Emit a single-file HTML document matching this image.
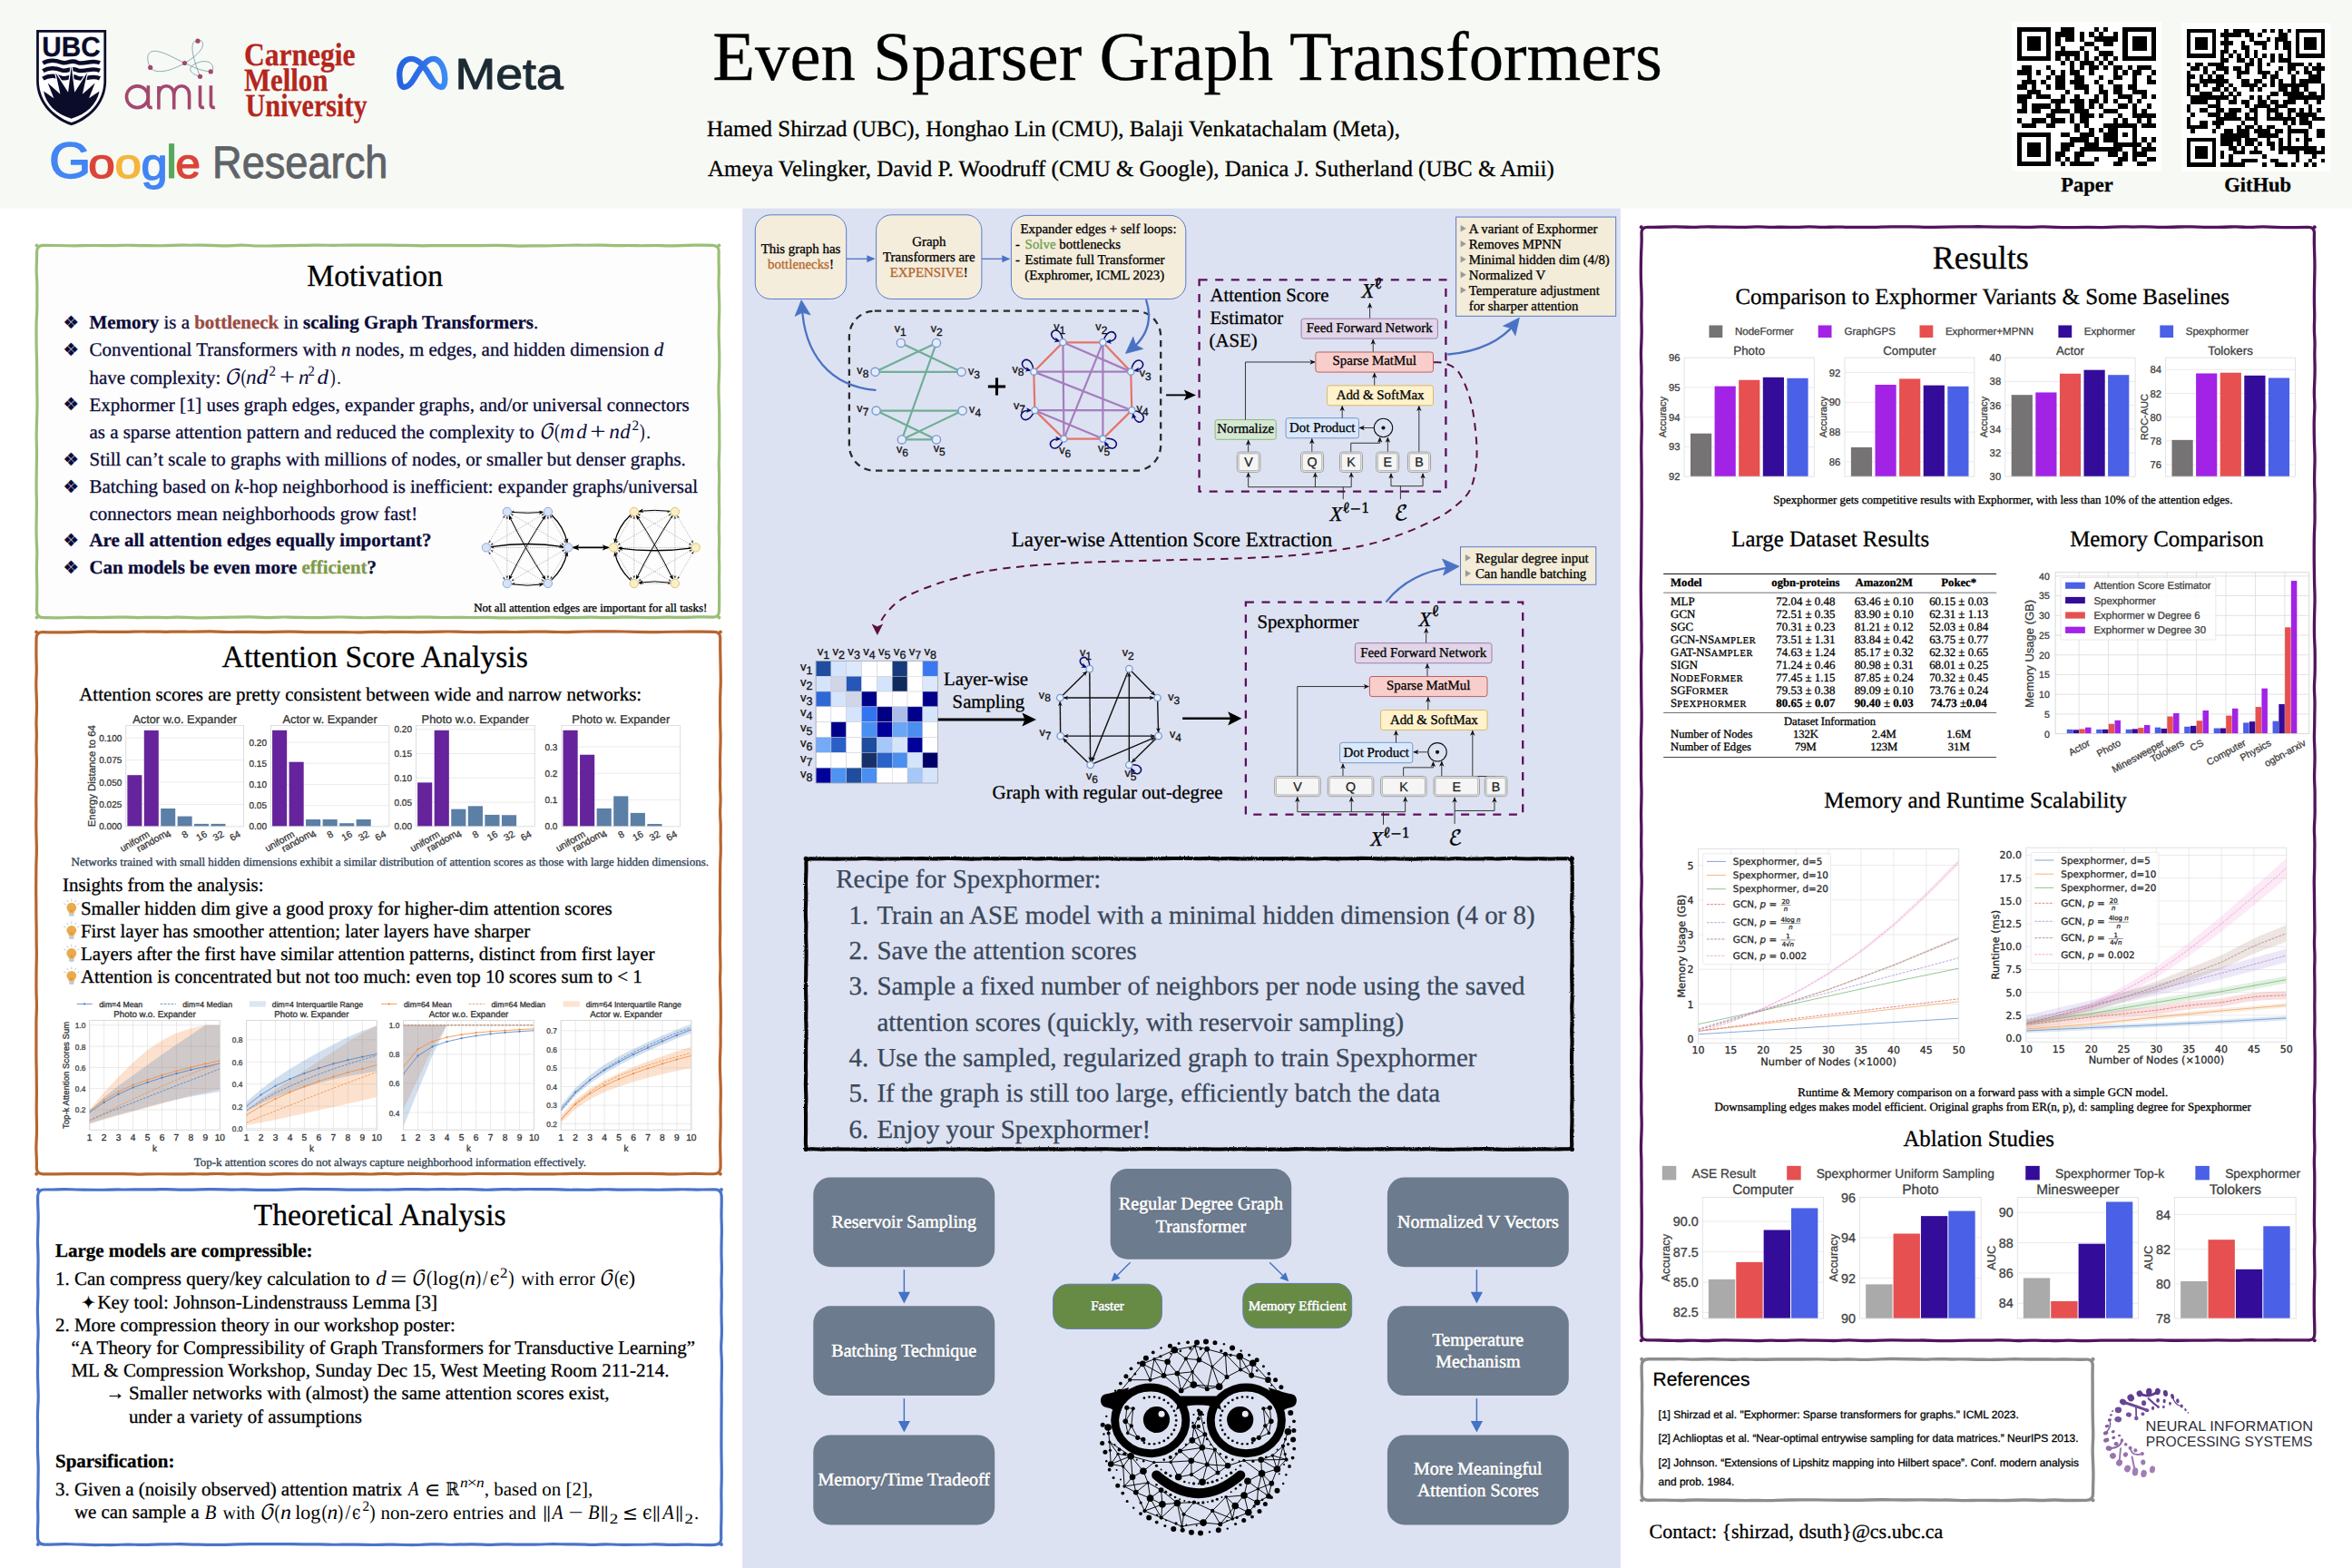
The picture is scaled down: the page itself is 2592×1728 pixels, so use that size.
<!DOCTYPE html>
<html lang="en">
<head>
<meta charset="utf-8">
<title>Even Sparser Graph Transformers</title>
<style>
html,body{margin:0;padding:0;background:#fff}
#poster{position:relative;width:2592px;height:1728px;overflow:hidden;background:#fff}
#poster>svg{position:absolute;left:0;top:0;display:block}
text{white-space:pre;text-rendering:geometricPrecision;stroke-linejoin:round}
.serif{font-family:"Liberation Serif",serif}
.serifb{font-family:"Liberation Serif",serif;font-weight:bold}
.serifi{font-family:"Liberation Serif",serif;font-style:italic}
.serifbi{font-family:"Liberation Serif",serif;font-weight:bold;font-style:italic}
.sans{font-family:"Liberation Sans",sans-serif}
.sansb{font-family:"Liberation Sans",sans-serif;font-weight:bold}
.dejavu{font-family:"DejaVu Sans",sans-serif}
.dejavub{font-family:"DejaVu Sans",sans-serif;font-weight:bold}
.dserif{font-family:"DejaVu Serif",serif}
.dmath{font-family:"DejaVu Math TeX Gyre","DejaVu Serif",serif}
</style>
</head>
<body>
<div id="poster">
<svg width="2592" height="1728" viewBox="0 0 2592 1728">
<rect x="0" y="0" width="2592" height="1728" fill="#ffffff"/>
<rect x="0" y="0" width="2592" height="229.6" fill="#F7F9F4"/>
<rect x="818.1" y="229.6" width="967.8" height="1498.4" fill="#DDE2F2"/>
<g id="header"><g><path d="M 40.1 33.06 L 117.14 33.06 L 117.14 90.41 C 116.43 111.84 102.65 129.69 78.67 138.37 C 54.69 129.69 40.92 111.84 40.1 90.41 Z" fill="#0B0C2A"/>
<path d="M 42.86 35.82 L 114.39 35.82 L 114.39 90.41 C 113.67 109.8 101.12 126.63 78.67 135.1 C 56.22 126.63 43.67 109.8 42.86 90.41 Z" fill="#fff"/>
<text class="sansb" font-size="30.6" fill="#0B0C2A" stroke="#0B0C2A" stroke-width="0.3" textLength="64.4" lengthAdjust="spacingAndGlyphs" x="46.3" y="61.9">UBC</text>
<path d="M 47.35 69.59 C 53.67 65.71 59.8 65.71 67.96 68.78 C 75.1 71.02 77.14 64.9 85.31 68.78 C 93.47 71.84 100.61 64.9 110 69.29" fill="none" stroke="#0B0C2A" stroke-width="4.6"/>
<path d="M 47.35 78.16 C 53.67 74.29 59.8 74.29 67.96 77.35 C 75.1 79.59 77.14 73.47 85.31 77.35 C 93.47 80.41 100.61 73.47 110 77.86" fill="none" stroke="#0B0C2A" stroke-width="4.6"/>
<path d="M 47.35 86.63 C 53.67 82.76 59.8 82.76 67.96 85.82 C 75.1 88.06 77.14 81.94 85.31 85.82 C 93.47 88.88 100.61 81.94 110 86.33" fill="none" stroke="#0B0C2A" stroke-width="4.6"/>
<path d="M 48.06 100.61 L 59.29 108.27 L 52.65 91.43 L 66.43 103.67 L 61.33 80.2 L 75.1 101.63 L 78.67 73.06 L 82.24 101.63 L 96.02 80.2 L 90.92 103.67 L 104.69 91.43 L 98.06 108.27 L 109.59 100.61 C 106.73 114.9 95.51 126.12 78.67 130.71 C 61.84 126.12 50.61 114.9 48.06 100.61 Z" fill="#0B0C2A" stroke="#fff" stroke-width="2.4" stroke-linejoin="miter" paint-order="stroke"/></g>
<g fill="none" stroke-linecap="butt"><circle cx="151.33" cy="106.73" r="11.9" fill="none" stroke="#A4476F" stroke-width="3.6"/>
<path d="M 163.37 94.29 L 163.37 115.41 C 163.37 118.16 165.41 118.78 167.76 118.16" fill="none" stroke="#A4476F" stroke-width="3.6"/>
<path d="M 174.9 120.51 L 174.9 95 M 174.9 104.69 C 174.9 91.43 191.73 91.43 191.73 104.69 L 191.73 120.51 M 191.73 104.69 C 191.73 91.43 208.57 91.43 208.57 104.69 L 208.57 120.51" fill="none" stroke="#A4476F" stroke-width="3.6"/>
<path d="M 220.51 94.29 L 220.51 115.41 C 220.51 118.16 222.55 118.78 224.9 118.16" fill="none" stroke="#A4476F" stroke-width="3.6"/>
<path d="M 232.45 94.29 L 232.45 115.41 C 232.45 118.16 234.49 118.78 236.84 118.16" fill="none" stroke="#A4476F" stroke-width="3.6"/>
<path d="M 165.71 74.39 C 159.8 62.86 162.86 54.69 173.06 56.53 C 183.27 58.37 193.47 64.9 203.47 69.49 C 211.84 73.06 220 78.16 232.24 78.88" fill="none" stroke="#5E8C9C" stroke-width="0.7"/>
<path d="M 165.71 74.39 C 170 81.22 185.31 80.2 203.47 69.49 C 213.88 63.88 224.08 54.69 223.57 48.57 C 223.06 44.49 220 43.47 217.96 45.2 C 207.76 43.47 211.84 62.86 220.51 84.29" fill="none" stroke="#5E8C9C" stroke-width="0.7"/>
<path d="M 220.51 84.29 C 208.78 81.22 206.73 75.1 213.88 71.02 C 222.04 65.92 234.29 65.92 234.8 75.1 C 234.8 77.14 233.78 78.16 232.24 78.88" fill="none" stroke="#5E8C9C" stroke-width="0.7"/>
<circle cx="217.96" cy="45.2" r="2.6" fill="#A4476F"/>
<circle cx="165.71" cy="74.39" r="2.6" fill="#A4476F"/>
<circle cx="203.47" cy="69.49" r="2.6" fill="#A4476F"/>
<circle cx="232.24" cy="78.88" r="2.6" fill="#A4476F"/>
<circle cx="220.51" cy="84.29" r="2.6" fill="#A4476F"/></g>
<g><text class="serifb" font-size="35.6" fill="#B4261D" stroke="#B4261D" stroke-width="0.3" textLength="122.6" lengthAdjust="spacingAndGlyphs" x="269" y="72.2">Carnegie</text>
<text class="serifb" font-size="35.6" fill="#B4261D" stroke="#B4261D" stroke-width="0.3" textLength="92.4" lengthAdjust="spacingAndGlyphs" x="269" y="100.2">Mellon</text>
<text class="serifb" font-size="35.6" fill="#B4261D" stroke="#B4261D" stroke-width="0.3" textLength="134" lengthAdjust="spacingAndGlyphs" x="270.6" y="128.3">University</text></g>
<g><defs><linearGradient id="mg" x1="0" y1="0" x2="1" y2="0"><stop offset="0" stop-color="#2563E0"/><stop offset="0.5" stop-color="#2E6FE8"/><stop offset="1" stop-color="#3B8BF5"/></linearGradient></defs>
<path d="M 440.48 86.12 C 438.78 72.52 445.58 64.86 453.23 64.86 C 462.59 64.86 469.39 75.92 475.34 86.12 C 479.59 93.27 482.99 95.99 486.05 95.99 C 489.8 95.99 491.16 89.52 489.8 81.02 C 488.1 70.82 482.99 64.86 477.55 64.86 C 469.39 64.86 462.59 75.92 456.63 86.12 C 452.38 93.27 448.98 95.99 445.58 95.99 C 442.18 95.99 440.82 92.07 440.48 86.12 Z" fill="none" stroke="url(#mg)" stroke-width="6.4" stroke-linejoin="round"/>
<text class="sans" font-size="48" fill="#1C2B33" stroke="#1C2B33" stroke-width="1.1" textLength="119.2" lengthAdjust="spacingAndGlyphs" x="501.6" y="98.1">Meta</text></g>
<g><text class="sans" font-size="100" fill="#4285F4" transform="translate(54.1 195.85) scale(0.5974 0.5593)" stroke="#4285F4" stroke-width="2.42" stroke-linejoin="round">G</text>
<text class="sans" font-size="100" fill="#DB4437" transform="translate(97.37 195.95) scale(0.5316 0.4563)" stroke="#DB4437" stroke-width="2.83" stroke-linejoin="round">o</text>
<text class="sans" font-size="100" fill="#F4B63C" transform="translate(126.38 195.95) scale(0.5295 0.4563)" stroke="#F4B63C" stroke-width="2.84" stroke-linejoin="round">o</text>
<text class="sans" font-size="100" fill="#4285F4" transform="translate(155.5 197.87) scale(0.5248 0.4932)" stroke="#4285F4" stroke-width="2.75" stroke-linejoin="round">g</text>
<text class="sans" font-size="100" fill="#55A95C" transform="translate(182.77 195.8) scale(0.5689 0.5161)" stroke="#55A95C" stroke-width="1.84" stroke-linejoin="round">l</text>
<text class="sans" font-size="100" fill="#DB4437" transform="translate(193.61 195.95) scale(0.4923 0.4563)" stroke="#DB4437" stroke-width="2.95" stroke-linejoin="round">e</text>
<text class="sans" font-size="50" fill="#5F6368" stroke="#5F6368" stroke-width="0.9" textLength="193.4" lengthAdjust="spacingAndGlyphs" x="234" y="196.3">Research</text></g>
<text class="serif" font-size="76.75" stroke="#000" stroke-width="0.3" x="785.2" y="87.7">Even Sparser Graph Transformers</text>
<text class="serif" font-size="24.96" stroke="#000" stroke-width="0.3" x="779" y="150">Hamed Shirzad (UBC), Honghao Lin (CMU), Balaji Venkatachalam (Meta),</text>
<text class="serif" font-size="24.95" stroke="#000" stroke-width="0.3" x="780" y="193.5">Ameya Velingker, David P. Woodruff (CMU &amp; Google), Danica J. Sutherland (UBC &amp; Amii)</text>
<rect x="2216.9" y="23.9" width="165" height="164.7" fill="#fff"/><path d="M2223 29.9h36.98v5.33h-36.98zM2270.54 29.9h15.85v5.33h-15.85zM2307.52 29.9h5.28v5.33h-5.28zM2318.09 29.9h5.28v5.33h-5.28zM2339.22 29.9h36.98v5.33h-36.98zM2223 35.18h5.28v5.33h-5.28zM2254.7 35.18h5.28v5.33h-5.28zM2265.26 35.18h21.13v5.33h-21.13zM2291.68 35.18h5.28v5.33h-5.28zM2302.24 35.18h5.28v5.33h-5.28zM2312.81 35.18h5.28v5.33h-5.28zM2328.66 35.18h5.28v5.33h-5.28zM2339.22 35.18h5.28v5.33h-5.28zM2370.92 35.18h5.28v5.33h-5.28zM2223 40.47h5.28v5.33h-5.28zM2233.57 40.47h15.85v5.33h-15.85zM2254.7 40.47h5.28v5.33h-5.28zM2265.26 40.47h5.28v5.33h-5.28zM2275.83 40.47h10.57v5.33h-10.57zM2291.68 40.47h5.28v5.33h-5.28zM2307.52 40.47h26.41v5.33h-26.41zM2339.22 40.47h5.28v5.33h-5.28zM2349.79 40.47h15.85v5.33h-15.85zM2370.92 40.47h5.28v5.33h-5.28zM2223 45.75h5.28v5.33h-5.28zM2233.57 45.75h15.85v5.33h-15.85zM2254.7 45.75h5.28v5.33h-5.28zM2265.26 45.75h5.28v5.33h-5.28zM2296.96 45.75h10.57v5.33h-10.57zM2318.09 45.75h10.57v5.33h-10.57zM2339.22 45.75h5.28v5.33h-5.28zM2349.79 45.75h15.85v5.33h-15.85zM2370.92 45.75h5.28v5.33h-5.28zM2223 51.03h5.28v5.33h-5.28zM2233.57 51.03h15.85v5.33h-15.85zM2254.7 51.03h5.28v5.33h-5.28zM2270.54 51.03h5.28v5.33h-5.28zM2291.68 51.03h5.28v5.33h-5.28zM2307.52 51.03h5.28v5.33h-5.28zM2339.22 51.03h5.28v5.33h-5.28zM2349.79 51.03h15.85v5.33h-15.85zM2370.92 51.03h5.28v5.33h-5.28zM2223 56.31h5.28v5.33h-5.28zM2254.7 56.31h5.28v5.33h-5.28zM2265.26 56.31h26.41v5.33h-26.41zM2296.96 56.31h5.28v5.33h-5.28zM2312.81 56.31h15.85v5.33h-15.85zM2339.22 56.31h5.28v5.33h-5.28zM2370.92 56.31h5.28v5.33h-5.28zM2223 61.6h36.98v5.33h-36.98zM2265.26 61.6h5.28v5.33h-5.28zM2275.83 61.6h5.28v5.33h-5.28zM2286.39 61.6h5.28v5.33h-5.28zM2296.96 61.6h5.28v5.33h-5.28zM2307.52 61.6h5.28v5.33h-5.28zM2318.09 61.6h5.28v5.33h-5.28zM2328.66 61.6h5.28v5.33h-5.28zM2339.22 61.6h36.98v5.33h-36.98zM2270.54 66.88h5.28v5.33h-5.28zM2281.11 66.88h5.28v5.33h-5.28zM2291.68 66.88h15.85v5.33h-15.85zM2312.81 66.88h5.28v5.33h-5.28zM2323.37 66.88h5.28v5.33h-5.28zM2228.28 72.16h10.57v5.33h-10.57zM2254.7 72.16h5.28v5.33h-5.28zM2281.11 72.16h5.28v5.33h-5.28zM2291.68 72.16h5.28v5.33h-5.28zM2302.24 72.16h10.57v5.33h-10.57zM2318.09 72.16h5.28v5.33h-5.28zM2328.66 72.16h10.57v5.33h-10.57zM2344.5 72.16h5.28v5.33h-5.28zM2355.07 72.16h15.85v5.33h-15.85zM2223 77.44h15.85v5.33h-15.85zM2244.13 77.44h5.28v5.33h-5.28zM2259.98 77.44h5.28v5.33h-5.28zM2270.54 77.44h5.28v5.33h-5.28zM2281.11 77.44h10.57v5.33h-10.57zM2302.24 77.44h5.28v5.33h-5.28zM2328.66 77.44h5.28v5.33h-5.28zM2339.22 77.44h5.28v5.33h-5.28zM2349.79 77.44h10.57v5.33h-10.57zM2370.92 77.44h5.28v5.33h-5.28zM2233.57 82.73h5.28v5.33h-5.28zM2254.7 82.73h5.28v5.33h-5.28zM2265.26 82.73h10.57v5.33h-10.57zM2286.39 82.73h10.57v5.33h-10.57zM2312.81 82.73h5.28v5.33h-5.28zM2328.66 82.73h10.57v5.33h-10.57zM2349.79 82.73h5.28v5.33h-5.28zM2365.63 82.73h5.28v5.33h-5.28zM2228.28 88.01h15.85v5.33h-15.85zM2249.41 88.01h5.28v5.33h-5.28zM2265.26 88.01h10.57v5.33h-10.57zM2281.11 88.01h15.85v5.33h-15.85zM2307.52 88.01h5.28v5.33h-5.28zM2323.37 88.01h5.28v5.33h-5.28zM2349.79 88.01h5.28v5.33h-5.28zM2365.63 88.01h10.57v5.33h-10.57zM2223 93.29h10.57v5.33h-10.57zM2238.85 93.29h5.28v5.33h-5.28zM2254.7 93.29h5.28v5.33h-5.28zM2265.26 93.29h10.57v5.33h-10.57zM2286.39 93.29h15.85v5.33h-15.85zM2312.81 93.29h5.28v5.33h-5.28zM2328.66 93.29h10.57v5.33h-10.57zM2344.5 93.29h10.57v5.33h-10.57zM2233.57 98.58h15.85v5.33h-15.85zM2275.83 98.58h5.28v5.33h-5.28zM2296.96 98.58h5.28v5.33h-5.28zM2312.81 98.58h10.57v5.33h-10.57zM2328.66 98.58h10.57v5.33h-10.57zM2349.79 98.58h15.85v5.33h-15.85zM2223 103.86h15.85v5.33h-15.85zM2244.13 103.86h15.85v5.33h-15.85zM2270.54 103.86h5.28v5.33h-5.28zM2286.39 103.86h5.28v5.33h-5.28zM2307.52 103.86h5.28v5.33h-5.28zM2318.09 103.86h5.28v5.33h-5.28zM2333.94 103.86h15.85v5.33h-15.85zM2360.35 103.86h5.28v5.33h-5.28zM2370.92 103.86h5.28v5.33h-5.28zM2223 109.14h10.57v5.33h-10.57zM2259.98 109.14h15.85v5.33h-15.85zM2281.11 109.14h15.85v5.33h-15.85zM2302.24 109.14h10.57v5.33h-10.57zM2318.09 109.14h5.28v5.33h-5.28zM2328.66 109.14h5.28v5.33h-5.28zM2344.5 109.14h5.28v5.33h-5.28zM2355.07 109.14h5.28v5.33h-5.28zM2228.28 114.42h5.28v5.33h-5.28zM2238.85 114.42h21.13v5.33h-21.13zM2265.26 114.42h5.28v5.33h-5.28zM2286.39 114.42h10.57v5.33h-10.57zM2302.24 114.42h5.28v5.33h-5.28zM2312.81 114.42h5.28v5.33h-5.28zM2333.94 114.42h10.57v5.33h-10.57zM2349.79 114.42h5.28v5.33h-5.28zM2365.63 114.42h5.28v5.33h-5.28zM2223 119.71h10.57v5.33h-10.57zM2238.85 119.71h10.57v5.33h-10.57zM2259.98 119.71h21.13v5.33h-21.13zM2286.39 119.71h15.85v5.33h-15.85zM2318.09 119.71h15.85v5.33h-15.85zM2349.79 119.71h5.28v5.33h-5.28zM2360.35 119.71h5.28v5.33h-5.28zM2254.7 124.99h10.57v5.33h-10.57zM2281.11 124.99h5.28v5.33h-5.28zM2291.68 124.99h15.85v5.33h-15.85zM2312.81 124.99h5.28v5.33h-5.28zM2333.94 124.99h5.28v5.33h-5.28zM2349.79 124.99h26.41v5.33h-26.41zM2223 130.27h5.28v5.33h-5.28zM2238.85 130.27h15.85v5.33h-15.85zM2259.98 130.27h15.85v5.33h-15.85zM2281.11 130.27h5.28v5.33h-5.28zM2291.68 130.27h10.57v5.33h-10.57zM2328.66 130.27h5.28v5.33h-5.28zM2339.22 130.27h5.28v5.33h-5.28zM2355.07 130.27h5.28v5.33h-5.28zM2365.63 130.27h5.28v5.33h-5.28zM2228.28 135.56h15.85v5.33h-15.85zM2254.7 135.56h10.57v5.33h-10.57zM2286.39 135.56h5.28v5.33h-5.28zM2296.96 135.56h5.28v5.33h-5.28zM2318.09 135.56h36.98v5.33h-36.98zM2360.35 135.56h15.85v5.33h-15.85zM2286.39 140.84h5.28v5.33h-5.28zM2302.24 140.84h5.28v5.33h-5.28zM2312.81 140.84h5.28v5.33h-5.28zM2323.37 140.84h10.57v5.33h-10.57zM2349.79 140.84h5.28v5.33h-5.28zM2223 146.12h36.98v5.33h-36.98zM2270.54 146.12h10.57v5.33h-10.57zM2291.68 146.12h15.85v5.33h-15.85zM2318.09 146.12h15.85v5.33h-15.85zM2339.22 146.12h5.28v5.33h-5.28zM2349.79 146.12h5.28v5.33h-5.28zM2223 151.4h5.28v5.33h-5.28zM2254.7 151.4h5.28v5.33h-5.28zM2281.11 151.4h21.13v5.33h-21.13zM2307.52 151.4h5.28v5.33h-5.28zM2318.09 151.4h15.85v5.33h-15.85zM2349.79 151.4h5.28v5.33h-5.28zM2360.35 151.4h5.28v5.33h-5.28zM2370.92 151.4h5.28v5.33h-5.28zM2223 156.69h5.28v5.33h-5.28zM2233.57 156.69h15.85v5.33h-15.85zM2254.7 156.69h5.28v5.33h-5.28zM2270.54 156.69h15.85v5.33h-15.85zM2296.96 156.69h15.85v5.33h-15.85zM2328.66 156.69h31.7v5.33h-31.7zM2365.63 156.69h5.28v5.33h-5.28zM2223 161.97h5.28v5.33h-5.28zM2233.57 161.97h15.85v5.33h-15.85zM2254.7 161.97h5.28v5.33h-5.28zM2270.54 161.97h10.57v5.33h-10.57zM2291.68 161.97h47.54v5.33h-47.54zM2349.79 161.97h5.28v5.33h-5.28zM2360.35 161.97h15.85v5.33h-15.85zM2223 167.25h5.28v5.33h-5.28zM2233.57 167.25h15.85v5.33h-15.85zM2254.7 167.25h5.28v5.33h-5.28zM2265.26 167.25h10.57v5.33h-10.57zM2286.39 167.25h10.57v5.33h-10.57zM2323.37 167.25h10.57v5.33h-10.57zM2339.22 167.25h5.28v5.33h-5.28zM2349.79 167.25h15.85v5.33h-15.85zM2223 172.53h5.28v5.33h-5.28zM2254.7 172.53h5.28v5.33h-5.28zM2265.26 172.53h5.28v5.33h-5.28zM2275.83 172.53h5.28v5.33h-5.28zM2286.39 172.53h5.28v5.33h-5.28zM2307.52 172.53h5.28v5.33h-5.28zM2333.94 172.53h10.57v5.33h-10.57zM2349.79 172.53h5.28v5.33h-5.28zM2365.63 172.53h10.57v5.33h-10.57zM2223 177.82h36.98v5.33h-36.98zM2270.54 177.82h5.28v5.33h-5.28zM2281.11 177.82h26.41v5.33h-26.41zM2328.66 177.82h10.57v5.33h-10.57zM2355.07 177.82h10.57v5.33h-10.57z" fill="#000" shape-rendering="crispEdges"/>
<rect x="2403.9" y="25.3" width="164.3" height="163.9" fill="#fff"/><path d="M2409.8 31.6h32.33v4.67h-32.33zM2451.36 31.6h4.62v4.67h-4.62zM2460.6 31.6h18.47v4.67h-18.47zM2492.93 31.6h4.62v4.67h-4.62zM2502.16 31.6h4.62v4.67h-4.62zM2511.4 31.6h4.62v4.67h-4.62zM2520.64 31.6h4.62v4.67h-4.62zM2529.87 31.6h32.33v4.67h-32.33zM2409.8 36.22h4.62v4.67h-4.62zM2437.51 36.22h4.62v4.67h-4.62zM2446.75 36.22h23.09v4.67h-23.09zM2474.45 36.22h9.24v4.67h-9.24zM2488.31 36.22h4.62v4.67h-4.62zM2511.4 36.22h9.24v4.67h-9.24zM2529.87 36.22h4.62v4.67h-4.62zM2557.58 36.22h4.62v4.67h-4.62zM2409.8 40.84h4.62v4.67h-4.62zM2419.04 40.84h13.85v4.67h-13.85zM2437.51 40.84h4.62v4.67h-4.62zM2451.36 40.84h4.62v4.67h-4.62zM2479.07 40.84h4.62v4.67h-4.62zM2497.55 40.84h4.62v4.67h-4.62zM2506.78 40.84h13.85v4.67h-13.85zM2529.87 40.84h4.62v4.67h-4.62zM2539.11 40.84h13.85v4.67h-13.85zM2557.58 40.84h4.62v4.67h-4.62zM2409.8 45.45h4.62v4.67h-4.62zM2419.04 45.45h13.85v4.67h-13.85zM2437.51 45.45h4.62v4.67h-4.62zM2446.75 45.45h13.85v4.67h-13.85zM2469.84 45.45h4.62v4.67h-4.62zM2483.69 45.45h13.85v4.67h-13.85zM2506.78 45.45h4.62v4.67h-4.62zM2516.02 45.45h9.24v4.67h-9.24zM2529.87 45.45h4.62v4.67h-4.62zM2539.11 45.45h13.85v4.67h-13.85zM2557.58 45.45h4.62v4.67h-4.62zM2409.8 50.07h4.62v4.67h-4.62zM2419.04 50.07h13.85v4.67h-13.85zM2437.51 50.07h4.62v4.67h-4.62zM2451.36 50.07h4.62v4.67h-4.62zM2469.84 50.07h9.24v4.67h-9.24zM2492.93 50.07h4.62v4.67h-4.62zM2506.78 50.07h4.62v4.67h-4.62zM2516.02 50.07h9.24v4.67h-9.24zM2529.87 50.07h4.62v4.67h-4.62zM2539.11 50.07h13.85v4.67h-13.85zM2557.58 50.07h4.62v4.67h-4.62zM2409.8 54.69h4.62v4.67h-4.62zM2437.51 54.69h4.62v4.67h-4.62zM2446.75 54.69h9.24v4.67h-9.24zM2460.6 54.69h4.62v4.67h-4.62zM2474.45 54.69h4.62v4.67h-4.62zM2483.69 54.69h4.62v4.67h-4.62zM2520.64 54.69h4.62v4.67h-4.62zM2529.87 54.69h4.62v4.67h-4.62zM2557.58 54.69h4.62v4.67h-4.62zM2409.8 59.31h32.33v4.67h-32.33zM2446.75 59.31h4.62v4.67h-4.62zM2455.98 59.31h4.62v4.67h-4.62zM2465.22 59.31h4.62v4.67h-4.62zM2474.45 59.31h4.62v4.67h-4.62zM2483.69 59.31h4.62v4.67h-4.62zM2492.93 59.31h4.62v4.67h-4.62zM2502.16 59.31h4.62v4.67h-4.62zM2511.4 59.31h4.62v4.67h-4.62zM2520.64 59.31h4.62v4.67h-4.62zM2529.87 59.31h32.33v4.67h-32.33zM2446.75 63.93h9.24v4.67h-9.24zM2465.22 63.93h9.24v4.67h-9.24zM2479.07 63.93h4.62v4.67h-4.62zM2488.31 63.93h4.62v4.67h-4.62zM2502.16 63.93h4.62v4.67h-4.62zM2511.4 63.93h13.85v4.67h-13.85zM2409.8 68.55h4.62v4.67h-4.62zM2419.04 68.55h9.24v4.67h-9.24zM2432.89 68.55h18.47v4.67h-18.47zM2474.45 68.55h9.24v4.67h-9.24zM2488.31 68.55h4.62v4.67h-4.62zM2497.55 68.55h4.62v4.67h-4.62zM2520.64 68.55h18.47v4.67h-18.47zM2543.73 68.55h4.62v4.67h-4.62zM2552.96 68.55h4.62v4.67h-4.62zM2414.42 73.16h9.24v4.67h-9.24zM2428.27 73.16h4.62v4.67h-4.62zM2442.13 73.16h13.85v4.67h-13.85zM2460.6 73.16h9.24v4.67h-9.24zM2474.45 73.16h4.62v4.67h-4.62zM2488.31 73.16h4.62v4.67h-4.62zM2511.4 73.16h4.62v4.67h-4.62zM2520.64 73.16h9.24v4.67h-9.24zM2539.11 73.16h4.62v4.67h-4.62zM2548.35 73.16h13.85v4.67h-13.85zM2409.8 77.78h4.62v4.67h-4.62zM2428.27 77.78h4.62v4.67h-4.62zM2437.51 77.78h4.62v4.67h-4.62zM2451.36 77.78h4.62v4.67h-4.62zM2465.22 77.78h13.85v4.67h-13.85zM2488.31 77.78h13.85v4.67h-13.85zM2506.78 77.78h4.62v4.67h-4.62zM2520.64 77.78h4.62v4.67h-4.62zM2529.87 77.78h4.62v4.67h-4.62zM2539.11 77.78h9.24v4.67h-9.24zM2552.96 77.78h4.62v4.67h-4.62zM2409.8 82.4h9.24v4.67h-9.24zM2423.65 82.4h4.62v4.67h-4.62zM2432.89 82.4h4.62v4.67h-4.62zM2442.13 82.4h9.24v4.67h-9.24zM2465.22 82.4h4.62v4.67h-4.62zM2492.93 82.4h4.62v4.67h-4.62zM2502.16 82.4h9.24v4.67h-9.24zM2525.25 82.4h4.62v4.67h-4.62zM2543.73 82.4h13.85v4.67h-13.85zM2409.8 87.02h4.62v4.67h-4.62zM2423.65 87.02h32.33v4.67h-32.33zM2469.84 87.02h9.24v4.67h-9.24zM2483.69 87.02h9.24v4.67h-9.24zM2502.16 87.02h4.62v4.67h-4.62zM2511.4 87.02h4.62v4.67h-4.62zM2525.25 87.02h4.62v4.67h-4.62zM2534.49 87.02h23.09v4.67h-23.09zM2409.8 91.64h13.85v4.67h-13.85zM2428.27 91.64h4.62v4.67h-4.62zM2442.13 91.64h9.24v4.67h-9.24zM2455.98 91.64h4.62v4.67h-4.62zM2469.84 91.64h18.47v4.67h-18.47zM2492.93 91.64h4.62v4.67h-4.62zM2502.16 91.64h4.62v4.67h-4.62zM2511.4 91.64h32.33v4.67h-32.33zM2557.58 91.64h4.62v4.67h-4.62zM2409.8 96.25h4.62v4.67h-4.62zM2419.04 96.25h4.62v4.67h-4.62zM2437.51 96.25h9.24v4.67h-9.24zM2451.36 96.25h4.62v4.67h-4.62zM2460.6 96.25h4.62v4.67h-4.62zM2479.07 96.25h4.62v4.67h-4.62zM2488.31 96.25h4.62v4.67h-4.62zM2511.4 96.25h9.24v4.67h-9.24zM2525.25 96.25h9.24v4.67h-9.24zM2539.11 96.25h4.62v4.67h-4.62zM2557.58 96.25h4.62v4.67h-4.62zM2409.8 100.87h4.62v4.67h-4.62zM2423.65 100.87h13.85v4.67h-13.85zM2446.75 100.87h4.62v4.67h-4.62zM2455.98 100.87h4.62v4.67h-4.62zM2465.22 100.87h4.62v4.67h-4.62zM2502.16 100.87h9.24v4.67h-9.24zM2516.02 100.87h23.09v4.67h-23.09zM2543.73 100.87h9.24v4.67h-9.24zM2557.58 100.87h4.62v4.67h-4.62zM2414.42 105.49h41.56v4.67h-41.56zM2460.6 105.49h4.62v4.67h-4.62zM2479.07 105.49h4.62v4.67h-4.62zM2488.31 105.49h4.62v4.67h-4.62zM2497.55 105.49h4.62v4.67h-4.62zM2520.64 105.49h41.56v4.67h-41.56zM2414.42 110.11h18.47v4.67h-18.47zM2442.13 110.11h4.62v4.67h-4.62zM2455.98 110.11h9.24v4.67h-9.24zM2469.84 110.11h9.24v4.67h-9.24zM2488.31 110.11h9.24v4.67h-9.24zM2502.16 110.11h9.24v4.67h-9.24zM2516.02 110.11h13.85v4.67h-13.85zM2539.11 110.11h4.62v4.67h-4.62zM2552.96 110.11h4.62v4.67h-4.62zM2409.8 114.73h4.62v4.67h-4.62zM2432.89 114.73h13.85v4.67h-13.85zM2474.45 114.73h4.62v4.67h-4.62zM2483.69 114.73h18.47v4.67h-18.47zM2506.78 114.73h13.85v4.67h-13.85zM2543.73 114.73h4.62v4.67h-4.62zM2409.8 119.35h4.62v4.67h-4.62zM2423.65 119.35h9.24v4.67h-9.24zM2442.13 119.35h9.24v4.67h-9.24zM2455.98 119.35h13.85v4.67h-13.85zM2479.07 119.35h9.24v4.67h-9.24zM2497.55 119.35h13.85v4.67h-13.85zM2520.64 119.35h9.24v4.67h-9.24zM2534.49 119.35h4.62v4.67h-4.62zM2543.73 119.35h4.62v4.67h-4.62zM2552.96 119.35h4.62v4.67h-4.62zM2414.42 123.96h4.62v4.67h-4.62zM2432.89 123.96h13.85v4.67h-13.85zM2451.36 123.96h13.85v4.67h-13.85zM2474.45 123.96h4.62v4.67h-4.62zM2483.69 123.96h4.62v4.67h-4.62zM2497.55 123.96h4.62v4.67h-4.62zM2506.78 123.96h9.24v4.67h-9.24zM2520.64 123.96h4.62v4.67h-4.62zM2529.87 123.96h23.09v4.67h-23.09zM2409.8 128.58h4.62v4.67h-4.62zM2442.13 128.58h27.71v4.67h-27.71zM2474.45 128.58h13.85v4.67h-13.85zM2497.55 128.58h32.33v4.67h-32.33zM2534.49 128.58h9.24v4.67h-9.24zM2548.35 128.58h13.85v4.67h-13.85zM2409.8 133.2h4.62v4.67h-4.62zM2423.65 133.2h9.24v4.67h-9.24zM2437.51 133.2h13.85v4.67h-13.85zM2469.84 133.2h4.62v4.67h-4.62zM2483.69 133.2h4.62v4.67h-4.62zM2516.02 133.2h4.62v4.67h-4.62zM2525.25 133.2h4.62v4.67h-4.62zM2534.49 133.2h13.85v4.67h-13.85zM2409.8 137.82h23.09v4.67h-23.09zM2442.13 137.82h4.62v4.67h-4.62zM2465.22 137.82h4.62v4.67h-4.62zM2474.45 137.82h9.24v4.67h-9.24zM2488.31 137.82h4.62v4.67h-4.62zM2497.55 137.82h9.24v4.67h-9.24zM2520.64 137.82h4.62v4.67h-4.62zM2543.73 137.82h4.62v4.67h-4.62zM2414.42 142.44h4.62v4.67h-4.62zM2437.51 142.44h4.62v4.67h-4.62zM2451.36 142.44h9.24v4.67h-9.24zM2465.22 142.44h13.85v4.67h-13.85zM2483.69 142.44h18.47v4.67h-18.47zM2506.78 142.44h9.24v4.67h-9.24zM2520.64 142.44h23.09v4.67h-23.09zM2552.96 142.44h9.24v4.67h-9.24zM2446.75 147.05h32.33v4.67h-32.33zM2488.31 147.05h23.09v4.67h-23.09zM2520.64 147.05h4.62v4.67h-4.62zM2539.11 147.05h4.62v4.67h-4.62zM2552.96 147.05h9.24v4.67h-9.24zM2409.8 151.67h32.33v4.67h-32.33zM2446.75 151.67h23.09v4.67h-23.09zM2474.45 151.67h13.85v4.67h-13.85zM2497.55 151.67h4.62v4.67h-4.62zM2511.4 151.67h4.62v4.67h-4.62zM2520.64 151.67h4.62v4.67h-4.62zM2529.87 151.67h4.62v4.67h-4.62zM2539.11 151.67h9.24v4.67h-9.24zM2409.8 156.29h4.62v4.67h-4.62zM2437.51 156.29h4.62v4.67h-4.62zM2446.75 156.29h13.85v4.67h-13.85zM2465.22 156.29h4.62v4.67h-4.62zM2474.45 156.29h9.24v4.67h-9.24zM2488.31 156.29h4.62v4.67h-4.62zM2497.55 156.29h9.24v4.67h-9.24zM2511.4 156.29h4.62v4.67h-4.62zM2520.64 156.29h4.62v4.67h-4.62zM2539.11 156.29h4.62v4.67h-4.62zM2409.8 160.91h4.62v4.67h-4.62zM2419.04 160.91h13.85v4.67h-13.85zM2437.51 160.91h4.62v4.67h-4.62zM2455.98 160.91h9.24v4.67h-9.24zM2469.84 160.91h4.62v4.67h-4.62zM2483.69 160.91h4.62v4.67h-4.62zM2502.16 160.91h4.62v4.67h-4.62zM2511.4 160.91h41.56v4.67h-41.56zM2557.58 160.91h4.62v4.67h-4.62zM2409.8 165.53h4.62v4.67h-4.62zM2419.04 165.53h13.85v4.67h-13.85zM2437.51 165.53h4.62v4.67h-4.62zM2446.75 165.53h4.62v4.67h-4.62zM2460.6 165.53h13.85v4.67h-13.85zM2479.07 165.53h13.85v4.67h-13.85zM2511.4 165.53h4.62v4.67h-4.62zM2520.64 165.53h13.85v4.67h-13.85zM2539.11 165.53h23.09v4.67h-23.09zM2409.8 170.15h4.62v4.67h-4.62zM2419.04 170.15h13.85v4.67h-13.85zM2437.51 170.15h4.62v4.67h-4.62zM2446.75 170.15h4.62v4.67h-4.62zM2455.98 170.15h4.62v4.67h-4.62zM2492.93 170.15h4.62v4.67h-4.62zM2529.87 170.15h4.62v4.67h-4.62zM2548.35 170.15h4.62v4.67h-4.62zM2409.8 174.76h4.62v4.67h-4.62zM2437.51 174.76h4.62v4.67h-4.62zM2455.98 174.76h4.62v4.67h-4.62zM2469.84 174.76h18.47v4.67h-18.47zM2502.16 174.76h9.24v4.67h-9.24zM2529.87 174.76h4.62v4.67h-4.62zM2543.73 174.76h4.62v4.67h-4.62zM2557.58 174.76h4.62v4.67h-4.62zM2409.8 179.38h32.33v4.67h-32.33zM2446.75 179.38h27.71v4.67h-27.71zM2492.93 179.38h4.62v4.67h-4.62zM2506.78 179.38h13.85v4.67h-13.85zM2525.25 179.38h4.62v4.67h-4.62zM2539.11 179.38h4.62v4.67h-4.62zM2548.35 179.38h4.62v4.67h-4.62z" fill="#000" shape-rendering="crispEdges"/>
<text class="serifb" font-size="22.5" stroke="#000" stroke-width="0.3" text-anchor="middle" x="2300" y="211.2">Paper</text>
<text class="serifb" font-size="22.5" stroke="#000" stroke-width="0.3" text-anchor="middle" x="2488.2" y="211.2">GitHub</text></g>
<g id="left"><g id="motivation"><rect x="40.5" y="270.5" width="751.8" height="410" fill="#FDFDFD"/>
<path d="M 40.57 277.57 Q 40.5 270.5 47.59 270.47 Q 54.69 270.45 61.78 270.51 Q 68.87 270.57 75.97 270.77 Q 83.06 270.97 90.15 270.71 Q 97.25 270.46 104.34 270.49 Q 111.43 270.51 118.53 270.55 Q 125.62 270.6 132.71 270.37 Q 139.81 270.15 146.9 270.33 Q 153.99 270.51 161.09 270.58 Q 168.18 270.64 175.27 270.73 Q 182.37 270.82 189.46 270.44 Q 196.55 270.05 203.65 270.17 Q 210.74 270.28 217.83 270.17 Q 224.93 270.05 232.02 270.45 Q 239.12 270.84 246.21 270.78 Q 253.3 270.71 260.4 270.35 Q 267.49 270 274.58 270.51 Q 281.68 271.03 288.77 271.02 Q 295.86 271.01 302.96 270.84 Q 310.05 270.67 317.14 270.65 Q 324.24 270.63 331.33 270.38 Q 338.42 270.12 345.52 270.04 Q 352.61 269.97 359.7 270.25 Q 366.8 270.53 373.89 270.27 Q 380.98 270.02 388.08 270.09 Q 395.17 270.16 402.26 270.19 Q 409.36 270.22 416.45 270.1 Q 423.54 269.98 430.64 270.22 Q 437.73 270.46 444.82 270.45 Q 451.92 270.43 459.01 270.66 Q 466.1 270.88 473.2 270.7 Q 480.29 270.52 487.38 270.59 Q 494.48 270.65 501.57 270.58 Q 508.66 270.5 515.76 270.59 Q 522.85 270.68 529.94 270.57 Q 537.04 270.45 544.13 270.35 Q 551.22 270.26 558.32 270.65 Q 565.41 271.05 572.5 271.05 Q 579.6 271.05 586.69 270.96 Q 593.78 270.87 600.88 270.8 Q 607.97 270.73 615.07 270.51 Q 622.16 270.3 629.25 270.25 Q 636.35 270.2 643.44 270.24 Q 650.53 270.27 657.63 270.15 Q 664.72 270.03 671.81 270.41 Q 678.91 270.79 686 270.59 Q 693.09 270.39 700.19 270.64 Q 707.28 270.88 714.37 270.63 Q 721.47 270.38 728.56 270.69 Q 735.65 271 742.75 270.94 Q 749.84 270.88 756.93 270.42 Q 764.03 269.95 771.12 270.07 Q 778.21 270.18 785.31 270.34 Q 792.4 270.5 792.17 277.57 Q 791.95 284.63 792.19 291.7 Q 792.43 298.77 792.15 305.84 Q 791.87 312.9 792.19 319.97 Q 792.51 327.04 792.69 334.11 Q 792.87 341.17 792.56 348.24 Q 792.26 355.31 792.18 362.37 Q 792.09 369.44 792.37 376.51 Q 792.65 383.58 792.75 390.64 Q 792.85 397.71 792.72 404.78 Q 792.58 411.84 792.24 418.91 Q 791.89 425.98 792 433.05 Q 792.12 440.11 792.47 447.18 Q 792.82 454.25 792.75 461.32 Q 792.68 468.38 792.76 475.45 Q 792.84 482.52 792.86 489.58 Q 792.88 496.65 792.48 503.72 Q 792.07 510.79 792.41 517.85 Q 792.75 524.92 792.54 531.99 Q 792.33 539.06 792.4 546.12 Q 792.46 553.19 792.6 560.26 Q 792.74 567.32 792.44 574.39 Q 792.14 581.46 792.48 588.53 Q 792.81 595.59 792.52 602.66 Q 792.24 609.73 792.53 616.79 Q 792.82 623.86 792.65 630.93 Q 792.49 638 792.6 645.06 Q 792.72 652.13 792.68 659.2 Q 792.65 666.27 792.53 673.33 Q 792.4 680.4 785.31 680.14 Q 778.21 679.88 771.12 679.97 Q 764.03 680.07 756.93 680.34 Q 749.84 680.62 742.75 680.3 Q 735.65 679.98 728.56 680.35 Q 721.47 680.72 714.37 680.62 Q 707.28 680.52 700.19 680.26 Q 693.09 680.01 686 680.13 Q 678.91 680.24 671.81 680.54 Q 664.72 680.84 657.63 680.35 Q 650.53 679.86 643.44 680.29 Q 636.35 680.72 629.25 680.69 Q 622.16 680.67 615.07 680.38 Q 607.97 680.1 600.88 680.34 Q 593.78 680.59 586.69 680.61 Q 579.6 680.62 572.5 680.75 Q 565.41 680.87 558.32 680.86 Q 551.22 680.85 544.13 680.58 Q 537.04 680.31 529.94 680.5 Q 522.85 680.68 515.76 680.49 Q 508.66 680.29 501.57 680.41 Q 494.48 680.54 487.38 680.5 Q 480.29 680.45 473.2 680.17 Q 466.1 679.89 459.01 680.16 Q 451.92 680.42 444.82 680.37 Q 437.73 680.32 430.64 680.16 Q 423.54 680 416.45 680.37 Q 409.36 680.75 402.26 680.76 Q 395.17 680.78 388.08 680.37 Q 380.98 679.95 373.89 680 Q 366.8 680.05 359.7 680.36 Q 352.61 680.68 345.52 680.71 Q 338.42 680.74 331.33 680.44 Q 324.24 680.14 317.14 680.03 Q 310.05 679.92 302.96 680.32 Q 295.86 680.73 288.77 680.32 Q 281.68 679.9 274.58 679.94 Q 267.49 679.98 260.4 680.13 Q 253.3 680.29 246.21 680.39 Q 239.12 680.49 232.02 680.66 Q 224.93 680.84 217.83 680.87 Q 210.74 680.91 203.65 680.4 Q 196.55 679.89 189.46 680.29 Q 182.37 680.69 175.27 680.43 Q 168.18 680.17 161.09 680.42 Q 153.99 680.67 146.9 680.36 Q 139.81 680.04 132.71 680.17 Q 125.62 680.29 118.53 680.46 Q 111.43 680.63 104.34 680.69 Q 97.25 680.76 90.15 680.46 Q 83.06 680.16 75.97 680.52 Q 68.87 680.87 61.78 680.79 Q 54.69 680.7 47.59 680.55 Q 40.5 680.4 40.53 673.33 Q 40.57 666.27 40.73 659.2 Q 40.89 652.13 40.76 645.06 Q 40.63 638 40.44 630.93 Q 40.26 623.86 40.61 616.79 Q 40.96 609.73 40.57 602.66 Q 40.17 595.59 40.07 588.53 Q 39.97 581.46 40.11 574.39 Q 40.25 567.32 40.34 560.26 Q 40.44 553.19 40.23 546.12 Q 40.02 539.06 40.08 531.99 Q 40.14 524.92 40.25 517.85 Q 40.36 510.79 40.47 503.72 Q 40.58 496.65 40.34 489.58 Q 40.09 482.52 40.22 475.45 Q 40.35 468.38 40.64 461.32 Q 40.93 454.25 40.98 447.18 Q 41.03 440.11 40.85 433.05 Q 40.67 425.98 40.69 418.91 Q 40.71 411.84 40.65 404.78 Q 40.59 397.71 40.35 390.64 Q 40.1 383.58 40.05 376.51 Q 39.99 369.44 39.98 362.37 Q 39.97 355.31 40.46 348.24 Q 40.95 341.17 40.84 334.11 Q 40.72 327.04 40.87 319.97 Q 41.01 312.9 40.49 305.84 Q 39.97 298.77 40.31 291.7 Q 40.65 284.63 40.57 277.57 Z" fill="none" stroke="#9ABF78" stroke-width="3.2" stroke-linejoin="round"/><circle cx="40.5" cy="270.5" r="1.98" fill="#9ABF78"/><circle cx="792.4" cy="270.5" r="1.98" fill="#9ABF78"/><circle cx="792.4" cy="680.4" r="1.98" fill="#9ABF78"/><circle cx="40.5" cy="680.4" r="1.98" fill="#9ABF78"/>
<text class="serif" font-size="33.73" fill="#000" stroke="#000" stroke-width="0.3" x="338.2" y="314.8">Motivation</text>
<text class="dejavu" font-size="19.5" fill="#0B0B38" stroke="#0B0B38" stroke-width="0.3" x="69.4" y="361.7">❖</text>
<text class="dejavu" font-size="19.5" fill="#0B0B38" stroke="#0B0B38" stroke-width="0.3" x="69.4" y="391.8">❖</text>
<text class="dejavu" font-size="19.5" fill="#0B0B38" stroke="#0B0B38" stroke-width="0.3" x="69.4" y="452.4">❖</text>
<text class="dejavu" font-size="19.5" fill="#0B0B38" stroke="#0B0B38" stroke-width="0.3" x="69.4" y="512.6">❖</text>
<text class="dejavu" font-size="19.5" fill="#0B0B38" stroke="#0B0B38" stroke-width="0.3" x="69.4" y="542.6">❖</text>
<text class="dejavu" font-size="19.5" fill="#0B0B38" stroke="#0B0B38" stroke-width="0.3" x="69.4" y="601.8">❖</text>
<text class="dejavu" font-size="19.5" fill="#0B0B38" stroke="#0B0B38" stroke-width="0.3" x="69.4" y="631.6">❖</text>
<text class="serif" font-size="20.95" fill="#0B0B38" stroke="#0B0B38" stroke-width="0.3" x="98.5" y="362"><tspan class="serifb">Memory</tspan> is a <tspan class="serifb" fill="#9A4A42" stroke="#9A4A42">bottleneck</tspan> in <tspan class="serifb">scaling Graph Transformers</tspan>.</text>
<text class="serif" font-size="20.95" fill="#0B0B38" stroke="#0B0B38" stroke-width="0.3" x="98.5" y="392.1">Conventional Transformers with <tspan class="serifi">n</tspan> nodes, m edges, and hidden dimension <tspan class="serifi">d</tspan></text>
<text class="serif" font-size="20.95" fill="#0B0B38" stroke="#0B0B38" stroke-width="0.3" x="98.5" y="422.5">have complexity:</text>
<text class="dmath" font-size="22.15" fill="#0B0B38" transform="translate(248.24 422.5) scale(1.0363 1)">𝒪</text><text class="serif" font-size="22.6" fill="#0B0B38" transform="translate(265.49 422.5) scale(0.7911 1)">(</text><text class="serifi" font-size="22.6" fill="#0B0B38" transform="translate(270.93 422.5) scale(1.0277 1)">n</text><text class="serifi" font-size="22.6" fill="#0B0B38" transform="translate(282.46 422.5) scale(1.1355 1)">d</text><text class="serif" font-size="15.82" fill="#0B0B38" transform="translate(296.61 413.9) scale(0.9453 1)">2</text><text class="serif" font-size="25.99" fill="#0B0B38" transform="translate(307.89 424.2) scale(1.1601 1)">+</text><text class="serifi" font-size="22.6" fill="#0B0B38" transform="translate(328.97 422.5) scale(1.0277 1)">n</text><text class="serif" font-size="15.82" fill="#0B0B38" transform="translate(339.61 413.9) scale(0.9252 1)">2</text><text class="serifi" font-size="22.6" fill="#0B0B38" transform="translate(349.45 422.5) scale(1.0997 1)">d</text><text class="serif" font-size="22.6" fill="#0B0B38" transform="translate(363.66 422.5) scale(0.7911 1)">)</text><text class="serif" font-size="21.02" fill="#0B0B38" transform="translate(371.32 422.5) scale(0.8731 1)">.</text>
<text class="serif" font-size="20.95" fill="#0B0B38" stroke="#0B0B38" stroke-width="0.3" x="98.5" y="452.7">Exphormer [1] uses graph edges, expander graphs, and/or universal connectors</text>
<text class="serif" font-size="20.95" fill="#0B0B38" stroke="#0B0B38" stroke-width="0.3" x="98.5" y="482.7">as a sparse attention pattern and reduced the complexity to</text>
<text class="dmath" font-size="22.15" fill="#0B0B38" transform="translate(595.02 482.7) scale(0.9684 1)">𝒪</text><text class="serif" font-size="22.6" fill="#0B0B38" transform="translate(610.95 482.7) scale(0.7911 1)">(</text><text class="serifi" font-size="22.6" fill="#0B0B38" transform="translate(617.37 482.7) scale(0.9675 1)">m</text><text class="serifi" font-size="22.6" fill="#0B0B38" transform="translate(635.32 482.7) scale(1.0232 1)">d</text><text class="serif" font-size="25.99" fill="#0B0B38" transform="translate(650.31 484.4) scale(1.1812 1)">+</text><text class="serifi" font-size="22.6" fill="#0B0B38" transform="translate(671.21 482.7) scale(1.0357 1)">n</text><text class="serifi" font-size="22.6" fill="#0B0B38" transform="translate(683.28 482.7) scale(1.0232 1)">d</text><text class="serif" font-size="15.82" fill="#0B0B38" transform="translate(696.57 474.1) scale(0.9654 1)">2</text><text class="serif" font-size="22.6" fill="#0B0B38" transform="translate(704.83 482.7) scale(0.7911 1)">)</text><text class="serif" font-size="21.02" fill="#0B0B38" transform="translate(712 482.7) scale(0.9861 1)">.</text>
<text class="serif" font-size="20.95" fill="#0B0B38" stroke="#0B0B38" stroke-width="0.3" x="98.5" y="512.9">Still can’t scale to graphs with millions of nodes, or smaller but denser graphs.</text>
<text class="serif" font-size="20.95" fill="#0B0B38" stroke="#0B0B38" stroke-width="0.3" x="98.5" y="542.9">Batching based on <tspan class="serifi">k</tspan>-hop neighborhood is inefficient: expander graphs/universal</text>
<text class="serif" font-size="20.95" fill="#0B0B38" stroke="#0B0B38" stroke-width="0.3" x="98.5" y="572.8">connectors mean neighborhoods grow fast!</text>
<text class="serif" font-size="20.95" fill="#0B0B38" stroke="#0B0B38" stroke-width="0.3" x="98.5" y="602.1"><tspan class="serifb">Are all attention edges equally important?</tspan></text>
<text class="serif" font-size="20.95" fill="#0B0B38" stroke="#0B0B38" stroke-width="0.3" x="98.5" y="631.9"><tspan class="serifb">Can models be even more </tspan><tspan class="serifb" fill="#7F9A48" stroke="#7F9A48">efficient</tspan><tspan class="serifb">?</tspan></text>
<g><defs><marker id="ah" viewBox="0 0 10 10" refX="8.5" refY="5" markerWidth="5.2" markerHeight="5.2" orient="auto-start-reverse" markerUnits="userSpaceOnUse"><path d="M0 0.8 L10 5 L0 9.2 L2.6 5 Z" fill="#000"/></marker><marker id="ahb" viewBox="0 0 10 10" refX="8.5" refY="5" markerWidth="8" markerHeight="8" orient="auto-start-reverse" markerUnits="userSpaceOnUse"><path d="M0 0.8 L10 5 L0 9.2 L2.6 5 Z" fill="#000"/></marker><marker id="ahs" viewBox="0 0 10 10" refX="8.5" refY="5" markerWidth="3.4" markerHeight="3.4" orient="auto-start-reverse" markerUnits="userSpaceOnUse"><path d="M0 1 L10 5 L0 9 L2.6 5 Z" fill="#333"/></marker></defs>
<g stroke="#555" stroke-width="0.45" stroke-dasharray="1.1 1.3" fill="none"><line x1="564.01" y1="563.95" x2="597.98" y2="563.95" marker-end="url(#ahs)" marker-start="url(#ahs)"/><line x1="563.3" y1="566.57" x2="621.23" y2="600.42" marker-end="url(#ahs)" marker-start="url(#ahs)"/><line x1="561.38" y1="568.46" x2="600.96" y2="637.9" marker-end="url(#ahs)" marker-start="url(#ahs)"/><line x1="558.81" y1="569.15" x2="558.81" y2="637.13" marker-end="url(#ahs)" marker-start="url(#ahs)"/><line x1="556.19" y1="568.44" x2="538.82" y2="598.3" marker-end="url(#ahs)" marker-start="url(#ahs)"/><line x1="606.45" y1="568.47" x2="623.41" y2="598.27" marker-end="url(#ahs)" marker-start="url(#ahs)"/><line x1="603.88" y1="569.15" x2="603.88" y2="637.13" marker-end="url(#ahs)" marker-start="url(#ahs)"/><line x1="601.3" y1="568.46" x2="561.73" y2="637.9" marker-end="url(#ahs)" marker-start="url(#ahs)"/><line x1="599.38" y1="566.55" x2="540.95" y2="600.44" marker-end="url(#ahs)" marker-start="url(#ahs)"/><line x1="623.76" y1="607.93" x2="606.79" y2="637.89" marker-end="url(#ahs)" marker-start="url(#ahs)"/><line x1="621.84" y1="606.03" x2="563.9" y2="640.04" marker-end="url(#ahs)" marker-start="url(#ahs)"/><line x1="621.13" y1="603.4" x2="541.75" y2="603.4" marker-end="url(#ahs)" marker-start="url(#ahs)"/><line x1="598.68" y1="643.03" x2="564.71" y2="643.03" marker-end="url(#ahs)" marker-start="url(#ahs)"/><line x1="599.38" y1="640.41" x2="540.95" y2="606.37" marker-end="url(#ahs)" marker-start="url(#ahs)"/><line x1="556.2" y1="638.53" x2="538.81" y2="608.51" marker-end="url(#ahs)" marker-start="url(#ahs)"/><line x1="703.98" y1="563.95" x2="737.94" y2="563.95" marker-end="url(#ahs)" marker-start="url(#ahs)"/><line x1="703.27" y1="566.55" x2="761.7" y2="600.44" marker-end="url(#ahs)" marker-start="url(#ahs)"/><line x1="701.35" y1="568.46" x2="740.92" y2="637.9" marker-end="url(#ahs)" marker-start="url(#ahs)"/><line x1="698.78" y1="569.15" x2="698.78" y2="637.13" marker-end="url(#ahs)" marker-start="url(#ahs)"/><line x1="696.19" y1="568.46" x2="679.09" y2="598.28" marker-end="url(#ahs)" marker-start="url(#ahs)"/><line x1="746.46" y1="568.44" x2="763.84" y2="598.3" marker-end="url(#ahs)" marker-start="url(#ahs)"/><line x1="743.84" y1="569.15" x2="743.84" y2="637.13" marker-end="url(#ahs)" marker-start="url(#ahs)"/><line x1="741.27" y1="568.46" x2="701.7" y2="637.9" marker-end="url(#ahs)" marker-start="url(#ahs)"/><line x1="739.35" y1="566.56" x2="681.25" y2="600.43" marker-end="url(#ahs)" marker-start="url(#ahs)"/><line x1="764.2" y1="607.9" x2="746.8" y2="637.92" marker-end="url(#ahs)" marker-start="url(#ahs)"/><line x1="762.31" y1="606.02" x2="703.87" y2="640.06" marker-end="url(#ahs)" marker-start="url(#ahs)"/><line x1="761.6" y1="603.4" x2="682.06" y2="603.4" marker-end="url(#ahs)" marker-start="url(#ahs)"/><line x1="738.64" y1="643.03" x2="704.68" y2="643.03" marker-end="url(#ahs)" marker-start="url(#ahs)"/><line x1="739.36" y1="640.4" x2="681.25" y2="606.38" marker-end="url(#ahs)" marker-start="url(#ahs)"/><line x1="696.2" y1="638.51" x2="679.08" y2="608.53" marker-end="url(#ahs)" marker-start="url(#ahs)"/></g>
<path d="M 564.08 564.46 Q 581.34 566.15 598.2 564.5" stroke="#000" stroke-width="1" fill="none" marker-end="url(#ah)"/>
<path d="M 607.74 567.58 Q 621.19 580.21 625.09 597.84" stroke="#000" stroke-width="1.3" fill="none" marker-end="url(#ah)"/>
<path d="M 541.09 602.59 Q 581.09 596.4 620.69 602.53" stroke="#000" stroke-width="1.3" fill="none" marker-end="url(#ah)"/>
<path d="M 607.73 639.39 Q 621.19 626.66 625.1 608.97" stroke="#000" stroke-width="1.3" fill="none" marker-end="url(#ah)"/>
<path d="M 564.05 643.84 Q 581.34 646.53 598.25 643.9" stroke="#000" stroke-width="1" fill="none" marker-end="url(#ah)"/>
<path d="M 561.13 568.71 Q 578.74 604.97 600.74 638.27" stroke="#000" stroke-width="1" fill="none" marker-end="url(#ah)" marker-start="url(#ah)"/>
<path d="M 561.13 638.26 Q 578.74 602 600.74 568.7" stroke="#000" stroke-width="1" fill="none" marker-end="url(#ah)" marker-start="url(#ah)"/>
<path d="M 631.63 603.4 Q 651.24 603.4 670.46 603.4" stroke="#000" stroke-width="1.7" fill="none" marker-end="url(#ahb)" marker-start="url(#ahb)"/>
<path d="M 738.58 563.34 Q 721.31 561.35 704.44 563.29" stroke="#000" stroke-width="1" fill="none" marker-end="url(#ah)"/>
<path d="M 694.9 567.56 Q 681.39 580.19 677.41 597.84" stroke="#000" stroke-width="1.3" fill="none" marker-end="url(#ah)"/>
<path d="M 761.55 604.1 Q 721.48 609.4 681.81 604.15" stroke="#000" stroke-width="1.3" fill="none" marker-end="url(#ah)"/>
<path d="M 694.91 639.4 Q 681.39 626.68 677.41 608.96" stroke="#000" stroke-width="1.3" fill="none" marker-end="url(#ah)"/>
<path d="M 738.61 642.21 Q 721.31 639.53 704.41 642.15" stroke="#000" stroke-width="1" fill="none" marker-end="url(#ah)"/>
<path d="M 701.7 568.37 Q 723.92 602 741.35 637.9" stroke="#000" stroke-width="1" fill="none" marker-end="url(#ah)" marker-start="url(#ah)"/>
<path d="M 740.92 568.37 Q 718.7 602 701.27 637.9" stroke="#000" stroke-width="1" fill="none" marker-end="url(#ah)"/>
<circle cx="558.81" cy="563.95" r="4.7" fill="#D6E2F7" stroke="#7C98CE" stroke-width="0.8"/>
<circle cx="603.88" cy="563.95" r="4.7" fill="#D6E2F7" stroke="#7C98CE" stroke-width="0.8"/>
<circle cx="626.33" cy="603.4" r="4.7" fill="#D6E2F7" stroke="#7C98CE" stroke-width="0.8"/>
<circle cx="603.88" cy="643.03" r="4.7" fill="#D6E2F7" stroke="#7C98CE" stroke-width="0.8"/>
<circle cx="558.81" cy="643.03" r="4.7" fill="#D6E2F7" stroke="#7C98CE" stroke-width="0.8"/>
<circle cx="535.85" cy="603.4" r="4.7" fill="#D6E2F7" stroke="#7C98CE" stroke-width="0.8"/>
<circle cx="698.78" cy="563.95" r="4.7" fill="#FBEFC8" stroke="#D8B85B" stroke-width="0.8"/>
<circle cx="743.84" cy="563.95" r="4.7" fill="#FBEFC8" stroke="#D8B85B" stroke-width="0.8"/>
<circle cx="766.8" cy="603.4" r="4.7" fill="#FBEFC8" stroke="#D8B85B" stroke-width="0.8"/>
<circle cx="743.84" cy="643.03" r="4.7" fill="#FBEFC8" stroke="#D8B85B" stroke-width="0.8"/>
<circle cx="698.78" cy="643.03" r="4.7" fill="#FBEFC8" stroke="#D8B85B" stroke-width="0.8"/>
<circle cx="676.16" cy="603.4" r="4.7" fill="#FBEFC8" stroke="#D8B85B" stroke-width="0.8"/></g>
<text class="serif" font-size="12.6" fill="#000" stroke="#000" stroke-width="0.3" textLength="257.2" lengthAdjust="spacingAndGlyphs" x="522.2" y="673.6">Not all attention edges are important for all tasks!</text></g>
<g id="asa"><rect x="40.1" y="696.4" width="753.8" height="597.3" fill="#fff"/>
<path d="M 40.02 703.51 Q 40.1 696.4 47.21 696.63 Q 54.32 696.87 61.43 696.88 Q 68.55 696.89 75.66 696.86 Q 82.77 696.83 89.88 696.39 Q 96.99 695.94 104.1 696.22 Q 111.21 696.5 118.32 696.41 Q 125.44 696.32 132.55 696.37 Q 139.66 696.43 146.77 696.21 Q 153.88 695.99 160.99 696.03 Q 168.1 696.06 175.22 696.2 Q 182.33 696.34 189.44 696.22 Q 196.55 696.09 203.66 696.22 Q 210.77 696.35 217.88 696.11 Q 224.99 695.88 232.11 695.91 Q 239.22 695.94 246.33 696.29 Q 253.44 696.63 260.55 696.47 Q 267.66 696.31 274.77 696.36 Q 281.88 696.41 289 696.54 Q 296.11 696.66 303.22 696.45 Q 310.33 696.24 317.44 696.08 Q 324.55 695.91 331.66 696.31 Q 338.78 696.71 345.89 696.6 Q 353 696.5 360.11 696.54 Q 367.22 696.57 374.33 696.55 Q 381.44 696.53 388.55 696.73 Q 395.67 696.92 402.78 696.58 Q 409.89 696.25 417 696.47 Q 424.11 696.69 431.22 696.47 Q 438.33 696.26 445.45 696.37 Q 452.56 696.48 459.67 696.53 Q 466.78 696.58 473.89 696.39 Q 481 696.2 488.11 696.07 Q 495.22 695.94 502.34 696.16 Q 509.45 696.37 516.56 696.51 Q 523.67 696.64 530.78 696.57 Q 537.89 696.5 545 696.42 Q 552.12 696.34 559.23 696.45 Q 566.34 696.56 573.45 696.3 Q 580.56 696.05 587.67 696.05 Q 594.78 696.05 601.89 696.13 Q 609.01 696.21 616.12 696.48 Q 623.23 696.75 630.34 696.41 Q 637.45 696.07 644.56 696.02 Q 651.67 695.98 658.78 695.97 Q 665.9 695.96 673.01 695.93 Q 680.12 695.89 687.23 696.02 Q 694.34 696.15 701.45 696.32 Q 708.56 696.48 715.68 696.62 Q 722.79 696.75 729.9 696.48 Q 737.01 696.21 744.12 696.24 Q 751.23 696.26 758.34 696.21 Q 765.45 696.17 772.57 696.18 Q 779.68 696.19 786.79 696.29 Q 793.9 696.4 793.75 703.51 Q 793.59 710.62 793.72 717.73 Q 793.85 724.84 794.01 731.95 Q 794.17 739.06 794.25 746.17 Q 794.33 753.29 793.96 760.4 Q 793.59 767.51 793.63 774.62 Q 793.67 781.73 793.61 788.84 Q 793.54 795.95 793.86 803.06 Q 794.19 810.17 794.02 817.28 Q 793.85 824.39 793.64 831.5 Q 793.44 838.61 793.62 845.72 Q 793.8 852.84 793.6 859.95 Q 793.41 867.06 793.84 874.17 Q 794.27 881.28 793.82 888.39 Q 793.38 895.5 793.88 902.61 Q 794.39 909.72 794.19 916.83 Q 793.99 923.94 794.21 931.05 Q 794.42 938.16 793.99 945.27 Q 793.56 952.39 793.63 959.5 Q 793.69 966.61 793.54 973.72 Q 793.38 980.83 793.47 987.94 Q 793.56 995.05 793.49 1002.16 Q 793.41 1009.27 793.63 1016.38 Q 793.86 1023.49 793.61 1030.6 Q 793.36 1037.71 793.49 1044.83 Q 793.63 1051.94 793.85 1059.05 Q 794.07 1066.16 793.72 1073.27 Q 793.38 1080.38 793.71 1087.49 Q 794.04 1094.6 794.14 1101.71 Q 794.24 1108.82 794.3 1115.93 Q 794.37 1123.04 794.15 1130.15 Q 793.94 1137.26 794.09 1144.38 Q 794.23 1151.49 793.83 1158.6 Q 793.42 1165.71 793.41 1172.82 Q 793.4 1179.93 793.81 1187.04 Q 794.21 1194.15 794.27 1201.26 Q 794.34 1208.37 794.1 1215.48 Q 793.87 1222.59 794.07 1229.7 Q 794.26 1236.81 794.06 1243.92 Q 793.85 1251.04 793.7 1258.15 Q 793.56 1265.26 793.86 1272.37 Q 794.17 1279.48 794.04 1286.59 Q 793.9 1293.7 786.79 1293.74 Q 779.68 1293.79 772.57 1293.52 Q 765.45 1293.26 758.34 1293.51 Q 751.23 1293.76 744.12 1293.82 Q 737.01 1293.87 729.9 1293.57 Q 722.79 1293.27 715.68 1293.31 Q 708.56 1293.35 701.45 1293.31 Q 694.34 1293.27 687.23 1293.38 Q 680.12 1293.49 673.01 1293.64 Q 665.9 1293.8 658.78 1293.64 Q 651.67 1293.49 644.56 1293.41 Q 637.45 1293.34 630.34 1293.44 Q 623.23 1293.55 616.12 1293.77 Q 609.01 1293.99 601.89 1293.96 Q 594.78 1293.93 587.67 1293.86 Q 580.56 1293.8 573.45 1293.6 Q 566.34 1293.4 559.23 1293.52 Q 552.12 1293.64 545 1293.64 Q 537.89 1293.65 530.78 1293.49 Q 523.67 1293.34 516.56 1293.74 Q 509.45 1294.13 502.34 1293.84 Q 495.22 1293.56 488.11 1293.72 Q 481 1293.88 473.89 1293.76 Q 466.78 1293.63 459.67 1293.48 Q 452.56 1293.33 445.45 1293.65 Q 438.33 1293.98 431.22 1293.59 Q 424.11 1293.2 417 1293.68 Q 409.89 1294.16 402.78 1293.9 Q 395.67 1293.63 388.55 1293.64 Q 381.44 1293.65 374.33 1293.82 Q 367.22 1293.99 360.11 1293.81 Q 353 1293.63 345.89 1293.68 Q 338.78 1293.73 331.66 1293.74 Q 324.55 1293.76 317.44 1293.61 Q 310.33 1293.46 303.22 1293.85 Q 296.11 1294.25 289 1294.04 Q 281.88 1293.84 274.77 1293.61 Q 267.66 1293.39 260.55 1293.74 Q 253.44 1294.09 246.33 1293.69 Q 239.22 1293.3 232.11 1293.66 Q 224.99 1294.03 217.88 1293.76 Q 210.77 1293.5 203.66 1293.78 Q 196.55 1294.06 189.44 1293.91 Q 182.33 1293.76 175.22 1293.77 Q 168.1 1293.79 160.99 1293.97 Q 153.88 1294.16 146.77 1293.82 Q 139.66 1293.48 132.55 1293.6 Q 125.44 1293.72 118.32 1293.61 Q 111.21 1293.49 104.1 1293.57 Q 96.99 1293.66 89.88 1293.65 Q 82.77 1293.64 75.66 1293.65 Q 68.55 1293.67 61.43 1293.8 Q 54.32 1293.92 47.21 1293.81 Q 40.1 1293.7 40.32 1286.59 Q 40.54 1279.48 40.09 1272.37 Q 39.65 1265.26 40.08 1258.15 Q 40.51 1251.04 40.51 1243.92 Q 40.5 1236.81 40.3 1229.7 Q 40.1 1222.59 40.25 1215.48 Q 40.4 1208.37 40.35 1201.26 Q 40.29 1194.15 40.25 1187.04 Q 40.22 1179.93 40.04 1172.82 Q 39.87 1165.71 39.89 1158.6 Q 39.9 1151.49 39.92 1144.38 Q 39.93 1137.26 39.91 1130.15 Q 39.88 1123.04 40.24 1115.93 Q 40.61 1108.82 40.27 1101.71 Q 39.93 1094.6 39.95 1087.49 Q 39.98 1080.38 39.99 1073.27 Q 40.01 1066.16 40.23 1059.05 Q 40.45 1051.94 40.26 1044.83 Q 40.08 1037.71 40.12 1030.6 Q 40.16 1023.49 40 1016.38 Q 39.83 1009.27 39.84 1002.16 Q 39.86 995.05 39.75 987.94 Q 39.65 980.83 39.72 973.72 Q 39.79 966.61 39.81 959.5 Q 39.84 952.39 40.16 945.28 Q 40.49 938.16 40.3 931.05 Q 40.1 923.94 39.89 916.83 Q 39.67 909.72 39.87 902.61 Q 40.06 895.5 39.87 888.39 Q 39.68 881.28 39.93 874.17 Q 40.17 867.06 40.1 859.95 Q 40.04 852.84 40.27 845.72 Q 40.49 838.61 40.16 831.5 Q 39.84 824.39 40.16 817.28 Q 40.49 810.17 40.15 803.06 Q 39.82 795.95 40.23 788.84 Q 40.63 781.73 40.44 774.62 Q 40.25 767.51 39.92 760.4 Q 39.6 753.29 40.02 746.17 Q 40.44 739.06 40.15 731.95 Q 39.85 724.84 39.9 717.73 Q 39.95 710.62 40.02 703.51 Z" fill="none" stroke="#B8652F" stroke-width="3.2" stroke-linejoin="round"/><circle cx="40.1" cy="696.4" r="1.98" fill="#B8652F"/><circle cx="793.9" cy="696.4" r="1.98" fill="#B8652F"/><circle cx="793.9" cy="1293.7" r="1.98" fill="#B8652F"/><circle cx="40.1" cy="1293.7" r="1.98" fill="#B8652F"/>
<text class="serif" font-size="33.73" stroke="#000" stroke-width="0.3" x="244.6" y="735.2">Attention Score Analysis</text>
<text class="serif" font-size="20.95" stroke="#000" stroke-width="0.3" textLength="620" lengthAdjust="spacingAndGlyphs" x="87.2" y="772">Attention scores are pretty consistent between wide and narrow networks:</text>
<g><g><rect x="138.77" y="799.6" width="129.71" height="111.23" fill="#fff"/>
<line x1="138.77" y1="886.42" x2="268.48" y2="886.42" stroke="#E6E6E6" stroke-width="0.8"/>
<line x1="138.77" y1="862.01" x2="268.48" y2="862.01" stroke="#E6E6E6" stroke-width="0.8"/>
<line x1="138.77" y1="837.6" x2="268.48" y2="837.6" stroke="#E6E6E6" stroke-width="0.8"/>
<line x1="138.77" y1="813.19" x2="268.48" y2="813.19" stroke="#E6E6E6" stroke-width="0.8"/>
<rect x="140.37" y="854.2" width="16.02" height="56.62" fill="#65249B"/>
<rect x="158.78" y="804.9" width="16.02" height="105.93" fill="#65249B"/>
<rect x="177.2" y="891" width="16.02" height="19.82" fill="#5B7FA6"/>
<rect x="195.62" y="899.6" width="16.02" height="11.23" fill="#5B7FA6"/>
<rect x="214.03" y="907.89" width="16.02" height="2.93" fill="#5B7FA6"/>
<rect x="232.45" y="907.89" width="16.02" height="2.93" fill="#5B7FA6"/>
<rect x="138.77" y="799.6" width="129.71" height="111.23" fill="none" stroke="#DADADA" stroke-width="0.9"/>
<text class="sans" font-size="10" fill="#3a3a3a" stroke="#3a3a3a" stroke-width="0.3" text-anchor="end" x="134.27" y="914.42">0.000</text>
<text class="sans" font-size="10" fill="#3a3a3a" stroke="#3a3a3a" stroke-width="0.3" text-anchor="end" x="134.27" y="890.02">0.025</text>
<text class="sans" font-size="10" fill="#3a3a3a" stroke="#3a3a3a" stroke-width="0.3" text-anchor="end" x="134.27" y="865.61">0.050</text>
<text class="sans" font-size="10" fill="#3a3a3a" stroke="#3a3a3a" stroke-width="0.3" text-anchor="end" x="134.27" y="841.2">0.075</text>
<text class="sans" font-size="10" fill="#3a3a3a" stroke="#3a3a3a" stroke-width="0.3" text-anchor="end" x="134.27" y="816.79">0.100</text>
<text class="sans" font-size="12.85" fill="#333" stroke="#333" stroke-width="0.3" text-anchor="middle" x="203.63" y="797">Actor w.o. Expander</text>
<text class="sans" font-size="10.6" fill="#3a3a3a" stroke="#3a3a3a" stroke-width="0.3" text-anchor="middle" transform="translate(148.38 926.85) rotate(-30)" y="3.82">uniform</text>
<text class="sans" font-size="10.6" fill="#3a3a3a" stroke="#3a3a3a" stroke-width="0.3" text-anchor="middle" transform="translate(166.8 927) rotate(-30)" y="3.82">random</text>
<text class="sans" font-size="10.6" fill="#3a3a3a" stroke="#3a3a3a" stroke-width="0.3" text-anchor="middle" transform="translate(185.21 919.49) rotate(-30)" y="3.82">4</text>
<text class="sans" font-size="10.6" fill="#3a3a3a" stroke="#3a3a3a" stroke-width="0.3" text-anchor="middle" transform="translate(203.63 919.49) rotate(-30)" y="3.82">8</text>
<text class="sans" font-size="10.6" fill="#3a3a3a" stroke="#3a3a3a" stroke-width="0.3" text-anchor="middle" transform="translate(222.04 920.96) rotate(-30)" y="3.82">16</text>
<text class="sans" font-size="10.6" fill="#3a3a3a" stroke="#3a3a3a" stroke-width="0.3" text-anchor="middle" transform="translate(240.46 920.96) rotate(-30)" y="3.82">32</text>
<text class="sans" font-size="10.6" fill="#3a3a3a" stroke="#3a3a3a" stroke-width="0.3" text-anchor="middle" transform="translate(258.87 920.96) rotate(-30)" y="3.82">64</text>
<text class="sans" font-size="11.4" fill="#3a3a3a" stroke="#3a3a3a" stroke-width="0.3" text-anchor="middle" transform="translate(104.9 855.21) rotate(-90)">Energy Distance to 64</text></g>
<g><rect x="298.47" y="799.6" width="130.4" height="111.23" fill="#fff"/>
<line x1="298.47" y1="887.64" x2="428.87" y2="887.64" stroke="#E6E6E6" stroke-width="0.8"/>
<line x1="298.47" y1="864.45" x2="428.87" y2="864.45" stroke="#E6E6E6" stroke-width="0.8"/>
<line x1="298.47" y1="841.26" x2="428.87" y2="841.26" stroke="#E6E6E6" stroke-width="0.8"/>
<line x1="298.47" y1="818.08" x2="428.87" y2="818.08" stroke="#E6E6E6" stroke-width="0.8"/>
<rect x="300.07" y="804.81" width="16.11" height="106.01" fill="#65249B"/>
<rect x="318.58" y="839.69" width="16.11" height="71.14" fill="#65249B"/>
<rect x="337.1" y="903.03" width="16.11" height="7.79" fill="#5B7FA6"/>
<rect x="355.61" y="903.03" width="16.11" height="7.79" fill="#5B7FA6"/>
<rect x="374.13" y="907.21" width="16.11" height="3.62" fill="#5B7FA6"/>
<rect x="392.64" y="903.03" width="16.11" height="7.79" fill="#5B7FA6"/>
<rect x="298.47" y="799.6" width="130.4" height="111.23" fill="none" stroke="#DADADA" stroke-width="0.9"/>
<text class="sans" font-size="10" fill="#3a3a3a" stroke="#3a3a3a" stroke-width="0.3" text-anchor="end" x="293.97" y="914.42">0.00</text>
<text class="sans" font-size="10" fill="#3a3a3a" stroke="#3a3a3a" stroke-width="0.3" text-anchor="end" x="293.97" y="891.24">0.05</text>
<text class="sans" font-size="10" fill="#3a3a3a" stroke="#3a3a3a" stroke-width="0.3" text-anchor="end" x="293.97" y="868.05">0.10</text>
<text class="sans" font-size="10" fill="#3a3a3a" stroke="#3a3a3a" stroke-width="0.3" text-anchor="end" x="293.97" y="844.86">0.15</text>
<text class="sans" font-size="10" fill="#3a3a3a" stroke="#3a3a3a" stroke-width="0.3" text-anchor="end" x="293.97" y="821.68">0.20</text>
<text class="sans" font-size="12.85" fill="#333" stroke="#333" stroke-width="0.3" text-anchor="middle" x="363.67" y="797">Actor w. Expander</text>
<text class="sans" font-size="10.6" fill="#3a3a3a" stroke="#3a3a3a" stroke-width="0.3" text-anchor="middle" transform="translate(308.12 926.85) rotate(-30)" y="3.82">uniform</text>
<text class="sans" font-size="10.6" fill="#3a3a3a" stroke="#3a3a3a" stroke-width="0.3" text-anchor="middle" transform="translate(326.64 927) rotate(-30)" y="3.82">random</text>
<text class="sans" font-size="10.6" fill="#3a3a3a" stroke="#3a3a3a" stroke-width="0.3" text-anchor="middle" transform="translate(345.15 919.49) rotate(-30)" y="3.82">4</text>
<text class="sans" font-size="10.6" fill="#3a3a3a" stroke="#3a3a3a" stroke-width="0.3" text-anchor="middle" transform="translate(363.67 919.49) rotate(-30)" y="3.82">8</text>
<text class="sans" font-size="10.6" fill="#3a3a3a" stroke="#3a3a3a" stroke-width="0.3" text-anchor="middle" transform="translate(382.18 920.96) rotate(-30)" y="3.82">16</text>
<text class="sans" font-size="10.6" fill="#3a3a3a" stroke="#3a3a3a" stroke-width="0.3" text-anchor="middle" transform="translate(400.7 920.96) rotate(-30)" y="3.82">32</text>
<text class="sans" font-size="10.6" fill="#3a3a3a" stroke="#3a3a3a" stroke-width="0.3" text-anchor="middle" transform="translate(419.21 920.96) rotate(-30)" y="3.82">64</text></g>
<g><rect x="458.51" y="799.6" width="130.75" height="111.23" fill="#fff"/>
<line x1="458.51" y1="884.06" x2="589.26" y2="884.06" stroke="#E6E6E6" stroke-width="0.8"/>
<line x1="458.51" y1="857.3" x2="589.26" y2="857.3" stroke="#E6E6E6" stroke-width="0.8"/>
<line x1="458.51" y1="830.54" x2="589.26" y2="830.54" stroke="#E6E6E6" stroke-width="0.8"/>
<line x1="458.51" y1="803.78" x2="589.26" y2="803.78" stroke="#E6E6E6" stroke-width="0.8"/>
<rect x="460.11" y="862.39" width="16.15" height="48.44" fill="#65249B"/>
<rect x="478.68" y="804.85" width="16.15" height="105.97" fill="#65249B"/>
<rect x="497.24" y="891.66" width="16.15" height="19.16" fill="#5B7FA6"/>
<rect x="515.81" y="888.34" width="16.15" height="22.48" fill="#5B7FA6"/>
<rect x="534.37" y="897.92" width="16.15" height="12.9" fill="#5B7FA6"/>
<rect x="552.94" y="898.25" width="16.15" height="12.58" fill="#5B7FA6"/>
<rect x="458.51" y="799.6" width="130.75" height="111.23" fill="none" stroke="#DADADA" stroke-width="0.9"/>
<text class="sans" font-size="10" fill="#3a3a3a" stroke="#3a3a3a" stroke-width="0.3" text-anchor="end" x="454.01" y="914.42">0.00</text>
<text class="sans" font-size="10" fill="#3a3a3a" stroke="#3a3a3a" stroke-width="0.3" text-anchor="end" x="454.01" y="887.66">0.05</text>
<text class="sans" font-size="10" fill="#3a3a3a" stroke="#3a3a3a" stroke-width="0.3" text-anchor="end" x="454.01" y="860.9">0.10</text>
<text class="sans" font-size="10" fill="#3a3a3a" stroke="#3a3a3a" stroke-width="0.3" text-anchor="end" x="454.01" y="834.14">0.15</text>
<text class="sans" font-size="10" fill="#3a3a3a" stroke="#3a3a3a" stroke-width="0.3" text-anchor="end" x="454.01" y="807.38">0.20</text>
<text class="sans" font-size="12.85" fill="#333" stroke="#333" stroke-width="0.3" text-anchor="middle" x="523.88" y="797">Photo w.o. Expander</text>
<text class="sans" font-size="10.6" fill="#3a3a3a" stroke="#3a3a3a" stroke-width="0.3" text-anchor="middle" transform="translate(468.19 926.85) rotate(-30)" y="3.82">uniform</text>
<text class="sans" font-size="10.6" fill="#3a3a3a" stroke="#3a3a3a" stroke-width="0.3" text-anchor="middle" transform="translate(486.75 927) rotate(-30)" y="3.82">random</text>
<text class="sans" font-size="10.6" fill="#3a3a3a" stroke="#3a3a3a" stroke-width="0.3" text-anchor="middle" transform="translate(505.32 919.49) rotate(-30)" y="3.82">4</text>
<text class="sans" font-size="10.6" fill="#3a3a3a" stroke="#3a3a3a" stroke-width="0.3" text-anchor="middle" transform="translate(523.88 919.49) rotate(-30)" y="3.82">8</text>
<text class="sans" font-size="10.6" fill="#3a3a3a" stroke="#3a3a3a" stroke-width="0.3" text-anchor="middle" transform="translate(542.45 920.96) rotate(-30)" y="3.82">16</text>
<text class="sans" font-size="10.6" fill="#3a3a3a" stroke="#3a3a3a" stroke-width="0.3" text-anchor="middle" transform="translate(561.01 920.96) rotate(-30)" y="3.82">32</text>
<text class="sans" font-size="10.6" fill="#3a3a3a" stroke="#3a3a3a" stroke-width="0.3" text-anchor="middle" transform="translate(579.58 920.96) rotate(-30)" y="3.82">64</text></g>
<g><rect x="618.9" y="799.6" width="130.75" height="111.23" fill="#fff"/>
<line x1="618.9" y1="881.53" x2="749.65" y2="881.53" stroke="#E6E6E6" stroke-width="0.8"/>
<line x1="618.9" y1="852.25" x2="749.65" y2="852.25" stroke="#E6E6E6" stroke-width="0.8"/>
<line x1="618.9" y1="822.96" x2="749.65" y2="822.96" stroke="#E6E6E6" stroke-width="0.8"/>
<rect x="620.5" y="804.8" width="16.15" height="106.03" fill="#65249B"/>
<rect x="639.07" y="831.74" width="16.15" height="79.08" fill="#65249B"/>
<rect x="657.63" y="890.91" width="16.15" height="19.92" fill="#5B7FA6"/>
<rect x="676.2" y="877.43" width="16.15" height="33.39" fill="#5B7FA6"/>
<rect x="694.76" y="895.89" width="16.15" height="14.94" fill="#5B7FA6"/>
<rect x="713.33" y="908.04" width="16.15" height="2.78" fill="#5B7FA6"/>
<rect x="618.9" y="799.6" width="130.75" height="111.23" fill="none" stroke="#DADADA" stroke-width="0.9"/>
<text class="sans" font-size="10" fill="#3a3a3a" stroke="#3a3a3a" stroke-width="0.3" text-anchor="end" x="614.4" y="914.42">0.0</text>
<text class="sans" font-size="10" fill="#3a3a3a" stroke="#3a3a3a" stroke-width="0.3" text-anchor="end" x="614.4" y="885.13">0.1</text>
<text class="sans" font-size="10" fill="#3a3a3a" stroke="#3a3a3a" stroke-width="0.3" text-anchor="end" x="614.4" y="855.85">0.2</text>
<text class="sans" font-size="10" fill="#3a3a3a" stroke="#3a3a3a" stroke-width="0.3" text-anchor="end" x="614.4" y="826.56">0.3</text>
<text class="sans" font-size="12.85" fill="#333" stroke="#333" stroke-width="0.3" text-anchor="middle" x="684.27" y="797">Photo w. Expander</text>
<text class="sans" font-size="10.6" fill="#3a3a3a" stroke="#3a3a3a" stroke-width="0.3" text-anchor="middle" transform="translate(628.58 926.85) rotate(-30)" y="3.82">uniform</text>
<text class="sans" font-size="10.6" fill="#3a3a3a" stroke="#3a3a3a" stroke-width="0.3" text-anchor="middle" transform="translate(647.15 927) rotate(-30)" y="3.82">random</text>
<text class="sans" font-size="10.6" fill="#3a3a3a" stroke="#3a3a3a" stroke-width="0.3" text-anchor="middle" transform="translate(665.71 919.49) rotate(-30)" y="3.82">4</text>
<text class="sans" font-size="10.6" fill="#3a3a3a" stroke="#3a3a3a" stroke-width="0.3" text-anchor="middle" transform="translate(684.27 919.49) rotate(-30)" y="3.82">8</text>
<text class="sans" font-size="10.6" fill="#3a3a3a" stroke="#3a3a3a" stroke-width="0.3" text-anchor="middle" transform="translate(702.84 920.96) rotate(-30)" y="3.82">16</text>
<text class="sans" font-size="10.6" fill="#3a3a3a" stroke="#3a3a3a" stroke-width="0.3" text-anchor="middle" transform="translate(721.4 920.96) rotate(-30)" y="3.82">32</text>
<text class="sans" font-size="10.6" fill="#3a3a3a" stroke="#3a3a3a" stroke-width="0.3" text-anchor="middle" transform="translate(739.97 920.96) rotate(-30)" y="3.82">64</text></g></g>
<text class="serif" font-size="12.6" fill="#2F4254" stroke="#2F4254" stroke-width="0.3" textLength="702.5" lengthAdjust="spacingAndGlyphs" x="78.5" y="954.3">Networks trained with small hidden dimensions exhibit a similar distribution of attention scores as those with large hidden dimensions.</text>
<text class="serif" font-size="20.95" stroke="#000" stroke-width="0.3" x="69" y="982.4">Insights from the analysis:</text>
<g><line x1="72.44" y1="996.82" x2="70.5" y2="995.79" stroke="#B9C8E6" stroke-width="1" stroke-linecap="round"/>
<line x1="75.09" y1="994.03" x2="73.96" y2="992.14" stroke="#B9C8E6" stroke-width="1" stroke-linecap="round"/>
<line x1="78.8" y1="993" x2="78.8" y2="990.8" stroke="#B9C8E6" stroke-width="1" stroke-linecap="round"/>
<line x1="82.51" y1="994.03" x2="83.64" y2="992.14" stroke="#B9C8E6" stroke-width="1" stroke-linecap="round"/>
<line x1="85.16" y1="996.82" x2="87.1" y2="995.79" stroke="#B9C8E6" stroke-width="1" stroke-linecap="round"/>
<path d="M 74.8 1002.8 L 82.8 1002.8 L 81.3 1006.7 L 76.3 1006.7 Z" fill="#E9A84C"/>
<circle cx="78.8" cy="1000.2" r="5.4" fill="#EBAA4D"/>
<rect x="76.2" y="1006.4" width="5.2" height="3.4" fill="#C6D3DB" rx="0.9"/>
<path d="M 76.2 1008 h 5.2" fill="none" stroke="#A9B8C4" stroke-width="0.6"/>
<path d="M 77.6 1002.2 l 1.2 2.6 l 1.2 -2.6" fill="none" stroke="#C98A34" stroke-width="0.7"/></g>
<text class="serif" font-size="20.95" stroke="#000" stroke-width="0.3" x="88.9" y="1007.9">Smaller hidden dim give a good proxy for higher-dim attention scores</text>
<g><line x1="72.44" y1="1021.92" x2="70.5" y2="1020.89" stroke="#B9C8E6" stroke-width="1" stroke-linecap="round"/>
<line x1="75.09" y1="1019.13" x2="73.96" y2="1017.24" stroke="#B9C8E6" stroke-width="1" stroke-linecap="round"/>
<line x1="78.8" y1="1018.1" x2="78.8" y2="1015.9" stroke="#B9C8E6" stroke-width="1" stroke-linecap="round"/>
<line x1="82.51" y1="1019.13" x2="83.64" y2="1017.24" stroke="#B9C8E6" stroke-width="1" stroke-linecap="round"/>
<line x1="85.16" y1="1021.92" x2="87.1" y2="1020.89" stroke="#B9C8E6" stroke-width="1" stroke-linecap="round"/>
<path d="M 74.8 1027.9 L 82.8 1027.9 L 81.3 1031.8 L 76.3 1031.8 Z" fill="#E9A84C"/>
<circle cx="78.8" cy="1025.3" r="5.4" fill="#EBAA4D"/>
<rect x="76.2" y="1031.5" width="5.2" height="3.4" fill="#C6D3DB" rx="0.9"/>
<path d="M 76.2 1033.1 h 5.2" fill="none" stroke="#A9B8C4" stroke-width="0.6"/>
<path d="M 77.6 1027.3 l 1.2 2.6 l 1.2 -2.6" fill="none" stroke="#C98A34" stroke-width="0.7"/></g>
<text class="serif" font-size="20.95" stroke="#000" stroke-width="0.3" x="88.9" y="1033">First layer has smoother attention; later layers have sharper</text>
<g><line x1="72.44" y1="1047.02" x2="70.5" y2="1045.99" stroke="#B9C8E6" stroke-width="1" stroke-linecap="round"/>
<line x1="75.09" y1="1044.23" x2="73.96" y2="1042.34" stroke="#B9C8E6" stroke-width="1" stroke-linecap="round"/>
<line x1="78.8" y1="1043.2" x2="78.8" y2="1041" stroke="#B9C8E6" stroke-width="1" stroke-linecap="round"/>
<line x1="82.51" y1="1044.23" x2="83.64" y2="1042.34" stroke="#B9C8E6" stroke-width="1" stroke-linecap="round"/>
<line x1="85.16" y1="1047.02" x2="87.1" y2="1045.99" stroke="#B9C8E6" stroke-width="1" stroke-linecap="round"/>
<path d="M 74.8 1053 L 82.8 1053 L 81.3 1056.9 L 76.3 1056.9 Z" fill="#E9A84C"/>
<circle cx="78.8" cy="1050.4" r="5.4" fill="#EBAA4D"/>
<rect x="76.2" y="1056.6" width="5.2" height="3.4" fill="#C6D3DB" rx="0.9"/>
<path d="M 76.2 1058.2 h 5.2" fill="none" stroke="#A9B8C4" stroke-width="0.6"/>
<path d="M 77.6 1052.4 l 1.2 2.6 l 1.2 -2.6" fill="none" stroke="#C98A34" stroke-width="0.7"/></g>
<text class="serif" font-size="20.95" stroke="#000" stroke-width="0.3" x="88.9" y="1058.1">Layers after the first have similar attention patterns, distinct from first layer</text>
<g><line x1="72.44" y1="1071.92" x2="70.5" y2="1070.89" stroke="#B9C8E6" stroke-width="1" stroke-linecap="round"/>
<line x1="75.09" y1="1069.13" x2="73.96" y2="1067.24" stroke="#B9C8E6" stroke-width="1" stroke-linecap="round"/>
<line x1="78.8" y1="1068.1" x2="78.8" y2="1065.9" stroke="#B9C8E6" stroke-width="1" stroke-linecap="round"/>
<line x1="82.51" y1="1069.13" x2="83.64" y2="1067.24" stroke="#B9C8E6" stroke-width="1" stroke-linecap="round"/>
<line x1="85.16" y1="1071.92" x2="87.1" y2="1070.89" stroke="#B9C8E6" stroke-width="1" stroke-linecap="round"/>
<path d="M 74.8 1077.9 L 82.8 1077.9 L 81.3 1081.8 L 76.3 1081.8 Z" fill="#E9A84C"/>
<circle cx="78.8" cy="1075.3" r="5.4" fill="#EBAA4D"/>
<rect x="76.2" y="1081.5" width="5.2" height="3.4" fill="#C6D3DB" rx="0.9"/>
<path d="M 76.2 1083.1 h 5.2" fill="none" stroke="#A9B8C4" stroke-width="0.6"/>
<path d="M 77.6 1077.3 l 1.2 2.6 l 1.2 -2.6" fill="none" stroke="#C98A34" stroke-width="0.7"/></g>
<text class="serif" font-size="20.95" stroke="#000" stroke-width="0.3" x="88.9" y="1083">Attention is concentrated but not too much: even top 10 scores sum to &lt; 1</text>
<g><line x1="84.73" y1="1106.44" x2="101.81" y2="1106.44" stroke="#4C7FC0" stroke-width="0.8"/>
<circle cx="93.1" cy="1106.44" r="1.1" fill="#4C7FC0"/>
<text class="sans" font-size="8.7" fill="#333" stroke="#333" stroke-width="0.3" x="109.14" y="1109.54">dim=4 Mean</text>
<line x1="176.78" y1="1106.44" x2="193.86" y2="1106.44" stroke="#4C7FC0" stroke-width="0.8" stroke-dasharray="2.6 1.4"/>
<text class="sans" font-size="8.7" fill="#333" stroke="#333" stroke-width="0.3" x="201.19" y="1109.54">dim=4 Median</text>
<rect x="274.76" y="1103.24" width="18.13" height="6.4" fill="#DCE6F3"/>
<text class="sans" font-size="8.7" fill="#333" stroke="#333" stroke-width="0.3" x="299.86" y="1109.54">dim=4 Interquartile Range</text>
<line x1="420.15" y1="1106.44" x2="437.59" y2="1106.44" stroke="#F28A3C" stroke-width="0.8"/>
<circle cx="428.87" cy="1106.44" r="1.1" fill="#F28A3C"/>
<text class="sans" font-size="8.7" fill="#333" stroke="#333" stroke-width="0.3" x="444.91" y="1109.54">dim=64 Mean</text>
<line x1="516.74" y1="1106.44" x2="534.17" y2="1106.44" stroke="#F28A3C" stroke-width="0.8" stroke-dasharray="2.6 1.4"/>
<text class="sans" font-size="8.7" fill="#333" stroke="#333" stroke-width="0.3" x="541.49" y="1109.54">dim=64 Median</text>
<rect x="620.64" y="1103.24" width="18.13" height="6.4" fill="#FDE4D2"/>
<text class="sans" font-size="8.7" fill="#333" stroke="#333" stroke-width="0.3" x="645.75" y="1109.54">dim=64 Interquartile Range</text>
<text class="sans" font-size="9.6" fill="#333" stroke="#333" stroke-width="0.3" text-anchor="middle" transform="translate(76.2 1184.9) rotate(-90)">Top-k Attention Scores Sum</text>
<g><clipPath id="cp98"><rect x="98.68" y="1124.57" width="143.65" height="120.64"/></clipPath>
<rect x="98.68" y="1124.57" width="143.65" height="120.64" fill="#fff"/>
<line x1="98.68" y1="1222.9" x2="242.33" y2="1222.9" stroke="#E4E4E4" stroke-width="0.8"/>
<line x1="98.68" y1="1199.63" x2="242.33" y2="1199.63" stroke="#E4E4E4" stroke-width="0.8"/>
<line x1="98.68" y1="1176.35" x2="242.33" y2="1176.35" stroke="#E4E4E4" stroke-width="0.8"/>
<line x1="98.68" y1="1153.08" x2="242.33" y2="1153.08" stroke="#E4E4E4" stroke-width="0.8"/>
<line x1="98.68" y1="1129.8" x2="242.33" y2="1129.8" stroke="#E4E4E4" stroke-width="0.8"/>
<line x1="98.68" y1="1124.57" x2="98.68" y2="1245.22" stroke="#E4E4E4" stroke-width="0.8"/>
<line x1="114.64" y1="1124.57" x2="114.64" y2="1245.22" stroke="#E4E4E4" stroke-width="0.8"/>
<line x1="130.6" y1="1124.57" x2="130.6" y2="1245.22" stroke="#E4E4E4" stroke-width="0.8"/>
<line x1="146.56" y1="1124.57" x2="146.56" y2="1245.22" stroke="#E4E4E4" stroke-width="0.8"/>
<line x1="162.52" y1="1124.57" x2="162.52" y2="1245.22" stroke="#E4E4E4" stroke-width="0.8"/>
<line x1="178.48" y1="1124.57" x2="178.48" y2="1245.22" stroke="#E4E4E4" stroke-width="0.8"/>
<line x1="194.44" y1="1124.57" x2="194.44" y2="1245.22" stroke="#E4E4E4" stroke-width="0.8"/>
<line x1="210.41" y1="1124.57" x2="210.41" y2="1245.22" stroke="#E4E4E4" stroke-width="0.8"/>
<line x1="226.37" y1="1124.57" x2="226.37" y2="1245.22" stroke="#E4E4E4" stroke-width="0.8"/>
<line x1="242.33" y1="1124.57" x2="242.33" y2="1245.22" stroke="#E4E4E4" stroke-width="0.8"/>
<g clip-path="url(#cp98)"><polygon points="98.68,1223.25 114.64,1204.07 130.6,1186.64 146.56,1170.95 162.52,1157 178.48,1146.54 194.44,1138.52 210.41,1133.29 226.37,1129.8 242.33,1129.8 242.33,1200.59 226.37,1204.07 210.41,1207.56 194.44,1211.74 178.48,1216.28 162.52,1220.81 146.56,1224.99 130.6,1229.18 114.64,1233.71 98.68,1238.94" fill="#F28A3C" fill-opacity="0.25"/><polygon points="98.68,1224.3 114.64,1209.3 130.6,1196.4 146.56,1184.9 162.52,1173.39 178.48,1162.23 194.44,1151.07 210.41,1140.61 226.37,1129.8 242.33,1129.8 242.33,1203.03 226.37,1205.82 210.41,1208.61 194.44,1211.74 178.48,1215.58 162.52,1219.76 146.56,1224.3 130.6,1228.48 114.64,1233.01 98.68,1237.89" fill="#4C7FC0" fill-opacity="0.25"/><polyline points="98.68,1225.69 114.64,1214.88 130.6,1205.82 146.56,1198.49 162.52,1192.91 178.48,1187.68 194.44,1183.15 210.41,1178.97 226.37,1175.48 242.33,1171.99" fill="none" stroke="#4C7FC0" stroke-width="0.8"/><circle cx="98.68" cy="1225.69" r="1.1" fill="#4C7FC0"/><circle cx="114.64" cy="1214.88" r="1.1" fill="#4C7FC0"/><circle cx="130.6" cy="1205.82" r="1.1" fill="#4C7FC0"/><circle cx="146.56" cy="1198.49" r="1.1" fill="#4C7FC0"/><circle cx="162.52" cy="1192.91" r="1.1" fill="#4C7FC0"/><circle cx="178.48" cy="1187.68" r="1.1" fill="#4C7FC0"/><circle cx="194.44" cy="1183.15" r="1.1" fill="#4C7FC0"/><circle cx="210.41" cy="1178.97" r="1.1" fill="#4C7FC0"/><circle cx="226.37" cy="1175.48" r="1.1" fill="#4C7FC0"/><circle cx="242.33" cy="1171.99" r="1.1" fill="#4C7FC0"/><polyline points="98.68,1223.95 114.64,1212.44 130.6,1203.03 146.56,1195.7 162.52,1190.13 178.48,1184.9 194.44,1180.36 210.41,1176.18 226.37,1172.34 242.33,1168.86" fill="none" stroke="#F28A3C" stroke-width="0.8"/><circle cx="98.68" cy="1223.95" r="1.1" fill="#F28A3C"/><circle cx="114.64" cy="1212.44" r="1.1" fill="#F28A3C"/><circle cx="130.6" cy="1203.03" r="1.1" fill="#F28A3C"/><circle cx="146.56" cy="1195.7" r="1.1" fill="#F28A3C"/><circle cx="162.52" cy="1190.13" r="1.1" fill="#F28A3C"/><circle cx="178.48" cy="1184.9" r="1.1" fill="#F28A3C"/><circle cx="194.44" cy="1180.36" r="1.1" fill="#F28A3C"/><circle cx="210.41" cy="1176.18" r="1.1" fill="#F28A3C"/><circle cx="226.37" cy="1172.34" r="1.1" fill="#F28A3C"/><circle cx="242.33" cy="1168.86" r="1.1" fill="#F28A3C"/><polyline points="98.68,1234.76 114.64,1227.78 130.6,1221.51 146.56,1215.23 162.52,1208.95 178.48,1202.68 194.44,1196.4 210.41,1190.47 226.37,1184.2 242.33,1177.92" fill="none" stroke="#4C7FC0" stroke-width="0.8" stroke-dasharray="2.6 1.4"/><polyline points="98.68,1234.76 114.64,1226.74 130.6,1219.07 146.56,1211.39 162.52,1204.07 178.48,1197.1 194.44,1190.13 210.41,1183.5 226.37,1177.22 242.33,1171.65" fill="none" stroke="#F28A3C" stroke-width="0.8" stroke-dasharray="2.6 1.4"/></g>
<rect x="98.68" y="1124.57" width="143.65" height="120.64" fill="none" stroke="#D6D6D6" stroke-width="0.9"/>
<text class="sans" font-size="8.4" fill="#444" stroke="#444" stroke-width="0.3" text-anchor="end" x="94.48" y="1226.36">0.2</text>
<text class="sans" font-size="8.4" fill="#444" stroke="#444" stroke-width="0.3" text-anchor="end" x="94.48" y="1203.08">0.4</text>
<text class="sans" font-size="8.4" fill="#444" stroke="#444" stroke-width="0.3" text-anchor="end" x="94.48" y="1179.81">0.6</text>
<text class="sans" font-size="8.4" fill="#444" stroke="#444" stroke-width="0.3" text-anchor="end" x="94.48" y="1156.53">0.8</text>
<text class="sans" font-size="8.4" fill="#444" stroke="#444" stroke-width="0.3" text-anchor="end" x="94.48" y="1133.26">1.0</text>
<text class="sans" font-size="10.2" fill="#333" stroke="#333" stroke-width="0.3" text-anchor="middle" x="98.68" y="1256.82">1</text>
<text class="sans" font-size="10.2" fill="#333" stroke="#333" stroke-width="0.3" text-anchor="middle" x="114.64" y="1256.82">2</text>
<text class="sans" font-size="10.2" fill="#333" stroke="#333" stroke-width="0.3" text-anchor="middle" x="130.6" y="1256.82">3</text>
<text class="sans" font-size="10.2" fill="#333" stroke="#333" stroke-width="0.3" text-anchor="middle" x="146.56" y="1256.82">4</text>
<text class="sans" font-size="10.2" fill="#333" stroke="#333" stroke-width="0.3" text-anchor="middle" x="162.52" y="1256.82">5</text>
<text class="sans" font-size="10.2" fill="#333" stroke="#333" stroke-width="0.3" text-anchor="middle" x="178.48" y="1256.82">6</text>
<text class="sans" font-size="10.2" fill="#333" stroke="#333" stroke-width="0.3" text-anchor="middle" x="194.44" y="1256.82">7</text>
<text class="sans" font-size="10.2" fill="#333" stroke="#333" stroke-width="0.3" text-anchor="middle" x="210.41" y="1256.82">8</text>
<text class="sans" font-size="10.2" fill="#333" stroke="#333" stroke-width="0.3" text-anchor="middle" x="226.37" y="1256.82">9</text>
<text class="sans" font-size="10.2" fill="#333" stroke="#333" stroke-width="0.3" text-anchor="middle" x="242.33" y="1256.82">10</text>
<text class="sans" font-size="10" fill="#333" stroke="#333" stroke-width="0.3" text-anchor="middle" x="170.5" y="1268.52">k</text>
<text class="sans" font-size="9.8" fill="#333" stroke="#333" stroke-width="0.3" text-anchor="middle" x="170.5" y="1121.17">Photo w.o. Expander</text></g>
<g><clipPath id="cp271"><rect x="271.62" y="1124.57" width="143.65" height="120.64"/></clipPath>
<rect x="271.62" y="1124.57" width="143.65" height="120.64" fill="#fff"/>
<line x1="271.62" y1="1243.47" x2="415.27" y2="1243.47" stroke="#E4E4E4" stroke-width="0.8"/>
<line x1="271.62" y1="1219.07" x2="415.27" y2="1219.07" stroke="#E4E4E4" stroke-width="0.8"/>
<line x1="271.62" y1="1194.66" x2="415.27" y2="1194.66" stroke="#E4E4E4" stroke-width="0.8"/>
<line x1="271.62" y1="1170.25" x2="415.27" y2="1170.25" stroke="#E4E4E4" stroke-width="0.8"/>
<line x1="271.62" y1="1145.84" x2="415.27" y2="1145.84" stroke="#E4E4E4" stroke-width="0.8"/>
<line x1="271.62" y1="1124.57" x2="271.62" y2="1245.22" stroke="#E4E4E4" stroke-width="0.8"/>
<line x1="287.58" y1="1124.57" x2="287.58" y2="1245.22" stroke="#E4E4E4" stroke-width="0.8"/>
<line x1="303.54" y1="1124.57" x2="303.54" y2="1245.22" stroke="#E4E4E4" stroke-width="0.8"/>
<line x1="319.5" y1="1124.57" x2="319.5" y2="1245.22" stroke="#E4E4E4" stroke-width="0.8"/>
<line x1="335.46" y1="1124.57" x2="335.46" y2="1245.22" stroke="#E4E4E4" stroke-width="0.8"/>
<line x1="351.43" y1="1124.57" x2="351.43" y2="1245.22" stroke="#E4E4E4" stroke-width="0.8"/>
<line x1="367.39" y1="1124.57" x2="367.39" y2="1245.22" stroke="#E4E4E4" stroke-width="0.8"/>
<line x1="383.35" y1="1124.57" x2="383.35" y2="1245.22" stroke="#E4E4E4" stroke-width="0.8"/>
<line x1="399.31" y1="1124.57" x2="399.31" y2="1245.22" stroke="#E4E4E4" stroke-width="0.8"/>
<line x1="415.27" y1="1124.57" x2="415.27" y2="1245.22" stroke="#E4E4E4" stroke-width="0.8"/>
<g clip-path="url(#cp271)"><polygon points="271.62,1222.9 287.58,1211.05 303.54,1200.59 319.5,1190.13 335.46,1179.67 351.43,1169.21 367.39,1158.74 383.35,1148.28 399.31,1138.52 415.27,1129.8 415.27,1208.95 399.31,1212.79 383.35,1216.28 367.39,1220.11 351.43,1223.6 335.46,1227.09 319.5,1230.57 303.54,1234.06 287.58,1237.2 271.62,1239.99" fill="#F28A3C" fill-opacity="0.25"/><polygon points="271.62,1214.18 287.58,1200.59 303.54,1188.38 319.5,1177.92 335.46,1168.51 351.43,1159.44 367.39,1151.07 383.35,1143.05 399.31,1136.08 415.27,1130.85 415.27,1180.36 399.31,1183.15 383.35,1185.94 367.39,1189.43 351.43,1193.61 335.46,1198.49 319.5,1203.38 303.54,1209.3 287.58,1216.28 271.62,1224.99" fill="#4C7FC0" fill-opacity="0.25"/><polyline points="271.62,1219.07 287.58,1206.51 303.54,1196.75 319.5,1189.08 335.46,1182.8 351.43,1177.22 367.39,1172.34 383.35,1168.16 399.31,1164.67 415.27,1161.53" fill="none" stroke="#4C7FC0" stroke-width="0.8"/><circle cx="271.62" cy="1219.07" r="1.1" fill="#4C7FC0"/><circle cx="287.58" cy="1206.51" r="1.1" fill="#4C7FC0"/><circle cx="303.54" cy="1196.75" r="1.1" fill="#4C7FC0"/><circle cx="319.5" cy="1189.08" r="1.1" fill="#4C7FC0"/><circle cx="335.46" cy="1182.8" r="1.1" fill="#4C7FC0"/><circle cx="351.43" cy="1177.22" r="1.1" fill="#4C7FC0"/><circle cx="367.39" cy="1172.34" r="1.1" fill="#4C7FC0"/><circle cx="383.35" cy="1168.16" r="1.1" fill="#4C7FC0"/><circle cx="399.31" cy="1164.67" r="1.1" fill="#4C7FC0"/><circle cx="415.27" cy="1161.53" r="1.1" fill="#4C7FC0"/><polyline points="271.62,1228.83 287.58,1219.07 303.54,1211.05 319.5,1203.72 335.46,1197.45 351.43,1191.52 367.39,1186.64 383.35,1181.76 399.31,1177.92 415.27,1173.74" fill="none" stroke="#F28A3C" stroke-width="0.8"/><circle cx="271.62" cy="1228.83" r="1.1" fill="#F28A3C"/><circle cx="287.58" cy="1219.07" r="1.1" fill="#F28A3C"/><circle cx="303.54" cy="1211.05" r="1.1" fill="#F28A3C"/><circle cx="319.5" cy="1203.72" r="1.1" fill="#F28A3C"/><circle cx="335.46" cy="1197.45" r="1.1" fill="#F28A3C"/><circle cx="351.43" cy="1191.52" r="1.1" fill="#F28A3C"/><circle cx="367.39" cy="1186.64" r="1.1" fill="#F28A3C"/><circle cx="383.35" cy="1181.76" r="1.1" fill="#F28A3C"/><circle cx="399.31" cy="1177.92" r="1.1" fill="#F28A3C"/><circle cx="415.27" cy="1173.74" r="1.1" fill="#F28A3C"/><polyline points="271.62,1223.95 287.58,1213.49 303.54,1204.42 319.5,1197.1 335.46,1190.13 351.43,1183.85 367.39,1177.92 383.35,1172.69 399.31,1167.81 415.27,1162.93" fill="none" stroke="#4C7FC0" stroke-width="0.8" stroke-dasharray="2.6 1.4"/><polyline points="271.62,1237.2 287.58,1230.57 303.54,1224.3 319.5,1218.02 335.46,1211.74 351.43,1205.47 367.39,1199.19 383.35,1193.26 399.31,1187.34 415.27,1181.41" fill="none" stroke="#F28A3C" stroke-width="0.8" stroke-dasharray="2.6 1.4"/></g>
<rect x="271.62" y="1124.57" width="143.65" height="120.64" fill="none" stroke="#D6D6D6" stroke-width="0.9"/>
<text class="sans" font-size="8.4" fill="#444" stroke="#444" stroke-width="0.3" text-anchor="end" x="267.42" y="1246.93">0.0</text>
<text class="sans" font-size="8.4" fill="#444" stroke="#444" stroke-width="0.3" text-anchor="end" x="267.42" y="1222.52">0.2</text>
<text class="sans" font-size="8.4" fill="#444" stroke="#444" stroke-width="0.3" text-anchor="end" x="267.42" y="1198.11">0.4</text>
<text class="sans" font-size="8.4" fill="#444" stroke="#444" stroke-width="0.3" text-anchor="end" x="267.42" y="1173.71">0.6</text>
<text class="sans" font-size="8.4" fill="#444" stroke="#444" stroke-width="0.3" text-anchor="end" x="267.42" y="1149.3">0.8</text>
<text class="sans" font-size="10.2" fill="#333" stroke="#333" stroke-width="0.3" text-anchor="middle" x="271.62" y="1256.82">1</text>
<text class="sans" font-size="10.2" fill="#333" stroke="#333" stroke-width="0.3" text-anchor="middle" x="287.58" y="1256.82">2</text>
<text class="sans" font-size="10.2" fill="#333" stroke="#333" stroke-width="0.3" text-anchor="middle" x="303.54" y="1256.82">3</text>
<text class="sans" font-size="10.2" fill="#333" stroke="#333" stroke-width="0.3" text-anchor="middle" x="319.5" y="1256.82">4</text>
<text class="sans" font-size="10.2" fill="#333" stroke="#333" stroke-width="0.3" text-anchor="middle" x="335.46" y="1256.82">5</text>
<text class="sans" font-size="10.2" fill="#333" stroke="#333" stroke-width="0.3" text-anchor="middle" x="351.43" y="1256.82">6</text>
<text class="sans" font-size="10.2" fill="#333" stroke="#333" stroke-width="0.3" text-anchor="middle" x="367.39" y="1256.82">7</text>
<text class="sans" font-size="10.2" fill="#333" stroke="#333" stroke-width="0.3" text-anchor="middle" x="383.35" y="1256.82">8</text>
<text class="sans" font-size="10.2" fill="#333" stroke="#333" stroke-width="0.3" text-anchor="middle" x="399.31" y="1256.82">9</text>
<text class="sans" font-size="10.2" fill="#333" stroke="#333" stroke-width="0.3" text-anchor="middle" x="415.27" y="1256.82">10</text>
<text class="sans" font-size="10" fill="#333" stroke="#333" stroke-width="0.3" text-anchor="middle" x="343.44" y="1268.52">k</text>
<text class="sans" font-size="9.8" fill="#333" stroke="#333" stroke-width="0.3" text-anchor="middle" x="343.44" y="1121.17">Photo w. Expander</text></g>
<g><clipPath id="cp444"><rect x="444.56" y="1124.57" width="144" height="120.64"/></clipPath>
<rect x="444.56" y="1124.57" width="144" height="120.64" fill="#fff"/>
<line x1="444.56" y1="1226.04" x2="588.56" y2="1226.04" stroke="#E4E4E4" stroke-width="0.8"/>
<line x1="444.56" y1="1193.96" x2="588.56" y2="1193.96" stroke="#E4E4E4" stroke-width="0.8"/>
<line x1="444.56" y1="1161.88" x2="588.56" y2="1161.88" stroke="#E4E4E4" stroke-width="0.8"/>
<line x1="444.56" y1="1129.8" x2="588.56" y2="1129.8" stroke="#E4E4E4" stroke-width="0.8"/>
<line x1="444.56" y1="1124.57" x2="444.56" y2="1245.22" stroke="#E4E4E4" stroke-width="0.8"/>
<line x1="460.56" y1="1124.57" x2="460.56" y2="1245.22" stroke="#E4E4E4" stroke-width="0.8"/>
<line x1="476.56" y1="1124.57" x2="476.56" y2="1245.22" stroke="#E4E4E4" stroke-width="0.8"/>
<line x1="492.56" y1="1124.57" x2="492.56" y2="1245.22" stroke="#E4E4E4" stroke-width="0.8"/>
<line x1="508.56" y1="1124.57" x2="508.56" y2="1245.22" stroke="#E4E4E4" stroke-width="0.8"/>
<line x1="524.56" y1="1124.57" x2="524.56" y2="1245.22" stroke="#E4E4E4" stroke-width="0.8"/>
<line x1="540.56" y1="1124.57" x2="540.56" y2="1245.22" stroke="#E4E4E4" stroke-width="0.8"/>
<line x1="556.56" y1="1124.57" x2="556.56" y2="1245.22" stroke="#E4E4E4" stroke-width="0.8"/>
<line x1="572.56" y1="1124.57" x2="572.56" y2="1245.22" stroke="#E4E4E4" stroke-width="0.8"/>
<line x1="588.56" y1="1124.57" x2="588.56" y2="1245.22" stroke="#E4E4E4" stroke-width="0.8"/>
<g clip-path="url(#cp444)"><polygon points="444.56,1129.8 460.56,1129.8 476.56,1129.8 492.56,1129.8 508.56,1129.8 524.56,1129.8 540.56,1129.8 556.56,1129.8 572.56,1129.8 588.56,1129.8 588.56,1129.8 572.56,1129.8 556.56,1129.8 540.56,1129.8 524.56,1129.8 508.56,1129.8 492.56,1129.8 476.56,1155.47 460.56,1189.15 444.56,1222.83" fill="#F28A3C" fill-opacity="0.25"/><polygon points="444.56,1129.8 460.56,1129.8 476.56,1129.8 492.56,1129.8 508.56,1129.8 524.56,1129.8 540.56,1129.8 556.56,1129.8 572.56,1129.8 588.56,1129.8 588.56,1129.8 572.56,1129.8 556.56,1129.8 540.56,1129.8 524.56,1129.8 508.56,1129.8 492.56,1129.8 476.56,1163.49 460.56,1201.98 444.56,1242.08" fill="#4C7FC0" fill-opacity="0.25"/><polyline points="444.56,1183.54 460.56,1163.49 476.56,1153.38 492.56,1147.93 508.56,1144.24 524.56,1141.51 540.56,1139.43 556.56,1137.82 572.56,1136.7 588.56,1135.74" fill="none" stroke="#4C7FC0" stroke-width="0.8"/><circle cx="444.56" cy="1183.54" r="1.1" fill="#4C7FC0"/><circle cx="460.56" cy="1163.49" r="1.1" fill="#4C7FC0"/><circle cx="476.56" cy="1153.38" r="1.1" fill="#4C7FC0"/><circle cx="492.56" cy="1147.93" r="1.1" fill="#4C7FC0"/><circle cx="508.56" cy="1144.24" r="1.1" fill="#4C7FC0"/><circle cx="524.56" cy="1141.51" r="1.1" fill="#4C7FC0"/><circle cx="540.56" cy="1139.43" r="1.1" fill="#4C7FC0"/><circle cx="556.56" cy="1137.82" r="1.1" fill="#4C7FC0"/><circle cx="572.56" cy="1136.7" r="1.1" fill="#4C7FC0"/><circle cx="588.56" cy="1135.74" r="1.1" fill="#4C7FC0"/><polyline points="444.56,1175.52 460.56,1156.27 476.56,1147.77 492.56,1143.12 508.56,1140.23 524.56,1138.15 540.56,1136.7 556.56,1135.58 572.56,1134.62 588.56,1133.81" fill="none" stroke="#F28A3C" stroke-width="0.8"/><circle cx="444.56" cy="1175.52" r="1.1" fill="#F28A3C"/><circle cx="460.56" cy="1156.27" r="1.1" fill="#F28A3C"/><circle cx="476.56" cy="1147.77" r="1.1" fill="#F28A3C"/><circle cx="492.56" cy="1143.12" r="1.1" fill="#F28A3C"/><circle cx="508.56" cy="1140.23" r="1.1" fill="#F28A3C"/><circle cx="524.56" cy="1138.15" r="1.1" fill="#F28A3C"/><circle cx="540.56" cy="1136.7" r="1.1" fill="#F28A3C"/><circle cx="556.56" cy="1135.58" r="1.1" fill="#F28A3C"/><circle cx="572.56" cy="1134.62" r="1.1" fill="#F28A3C"/><circle cx="588.56" cy="1133.81" r="1.1" fill="#F28A3C"/><polyline points="444.56,1129.8 460.56,1129.8 476.56,1129.8 492.56,1129.8 508.56,1129.8 524.56,1129.8 540.56,1129.8 556.56,1129.8 572.56,1129.8 588.56,1129.8" fill="none" stroke="#4C7FC0" stroke-width="0.8" stroke-dasharray="2.6 1.4"/><polyline points="444.56,1129.8 460.56,1129.8 476.56,1129.8 492.56,1129.8 508.56,1129.8 524.56,1129.8 540.56,1129.8 556.56,1129.8 572.56,1129.8 588.56,1129.8" fill="none" stroke="#F28A3C" stroke-width="0.8" stroke-dasharray="2.6 1.4"/></g>
<rect x="444.56" y="1124.57" width="144" height="120.64" fill="none" stroke="#D6D6D6" stroke-width="0.9"/>
<text class="sans" font-size="8.4" fill="#444" stroke="#444" stroke-width="0.3" text-anchor="end" x="440.36" y="1229.5">0.4</text>
<text class="sans" font-size="8.4" fill="#444" stroke="#444" stroke-width="0.3" text-anchor="end" x="440.36" y="1197.42">0.6</text>
<text class="sans" font-size="8.4" fill="#444" stroke="#444" stroke-width="0.3" text-anchor="end" x="440.36" y="1165.34">0.8</text>
<text class="sans" font-size="8.4" fill="#444" stroke="#444" stroke-width="0.3" text-anchor="end" x="440.36" y="1133.26">1.0</text>
<text class="sans" font-size="10.2" fill="#333" stroke="#333" stroke-width="0.3" text-anchor="middle" x="444.56" y="1256.82">1</text>
<text class="sans" font-size="10.2" fill="#333" stroke="#333" stroke-width="0.3" text-anchor="middle" x="460.56" y="1256.82">2</text>
<text class="sans" font-size="10.2" fill="#333" stroke="#333" stroke-width="0.3" text-anchor="middle" x="476.56" y="1256.82">3</text>
<text class="sans" font-size="10.2" fill="#333" stroke="#333" stroke-width="0.3" text-anchor="middle" x="492.56" y="1256.82">4</text>
<text class="sans" font-size="10.2" fill="#333" stroke="#333" stroke-width="0.3" text-anchor="middle" x="508.56" y="1256.82">5</text>
<text class="sans" font-size="10.2" fill="#333" stroke="#333" stroke-width="0.3" text-anchor="middle" x="524.56" y="1256.82">6</text>
<text class="sans" font-size="10.2" fill="#333" stroke="#333" stroke-width="0.3" text-anchor="middle" x="540.56" y="1256.82">7</text>
<text class="sans" font-size="10.2" fill="#333" stroke="#333" stroke-width="0.3" text-anchor="middle" x="556.56" y="1256.82">8</text>
<text class="sans" font-size="10.2" fill="#333" stroke="#333" stroke-width="0.3" text-anchor="middle" x="572.56" y="1256.82">9</text>
<text class="sans" font-size="10.2" fill="#333" stroke="#333" stroke-width="0.3" text-anchor="middle" x="588.56" y="1256.82">10</text>
<text class="sans" font-size="10" fill="#333" stroke="#333" stroke-width="0.3" text-anchor="middle" x="516.56" y="1268.52">k</text>
<text class="sans" font-size="9.8" fill="#333" stroke="#333" stroke-width="0.3" text-anchor="middle" x="516.56" y="1121.17">Actor w.o. Expander</text></g>
<g><clipPath id="cp618"><rect x="618.2" y="1124.57" width="143.65" height="120.64"/></clipPath>
<rect x="618.2" y="1124.57" width="143.65" height="120.64" fill="#fff"/>
<line x1="618.2" y1="1238.59" x2="761.85" y2="1238.59" stroke="#E4E4E4" stroke-width="0.8"/>
<line x1="618.2" y1="1218.02" x2="761.85" y2="1218.02" stroke="#E4E4E4" stroke-width="0.8"/>
<line x1="618.2" y1="1197.45" x2="761.85" y2="1197.45" stroke="#E4E4E4" stroke-width="0.8"/>
<line x1="618.2" y1="1176.88" x2="761.85" y2="1176.88" stroke="#E4E4E4" stroke-width="0.8"/>
<line x1="618.2" y1="1156.3" x2="761.85" y2="1156.3" stroke="#E4E4E4" stroke-width="0.8"/>
<line x1="618.2" y1="1135.73" x2="761.85" y2="1135.73" stroke="#E4E4E4" stroke-width="0.8"/>
<line x1="618.2" y1="1124.57" x2="618.2" y2="1245.22" stroke="#E4E4E4" stroke-width="0.8"/>
<line x1="634.16" y1="1124.57" x2="634.16" y2="1245.22" stroke="#E4E4E4" stroke-width="0.8"/>
<line x1="650.12" y1="1124.57" x2="650.12" y2="1245.22" stroke="#E4E4E4" stroke-width="0.8"/>
<line x1="666.09" y1="1124.57" x2="666.09" y2="1245.22" stroke="#E4E4E4" stroke-width="0.8"/>
<line x1="682.05" y1="1124.57" x2="682.05" y2="1245.22" stroke="#E4E4E4" stroke-width="0.8"/>
<line x1="698.01" y1="1124.57" x2="698.01" y2="1245.22" stroke="#E4E4E4" stroke-width="0.8"/>
<line x1="713.97" y1="1124.57" x2="713.97" y2="1245.22" stroke="#E4E4E4" stroke-width="0.8"/>
<line x1="729.93" y1="1124.57" x2="729.93" y2="1245.22" stroke="#E4E4E4" stroke-width="0.8"/>
<line x1="745.89" y1="1124.57" x2="745.89" y2="1245.22" stroke="#E4E4E4" stroke-width="0.8"/>
<line x1="761.85" y1="1124.57" x2="761.85" y2="1245.22" stroke="#E4E4E4" stroke-width="0.8"/>
<g clip-path="url(#cp618)"><polygon points="618.2,1229.33 634.16,1212.26 650.12,1199.92 666.09,1190.45 682.05,1182.64 698.01,1175.85 713.97,1169.68 729.93,1163.92 745.89,1158.57 761.85,1153.84 761.85,1176.88 745.89,1179.96 729.93,1183.66 713.97,1187.78 698.01,1192.3 682.05,1197.45 666.09,1203.62 650.12,1211.44 634.16,1222.13 618.2,1237.56" fill="#F28A3C" fill-opacity="0.25"/><polygon points="618.2,1218.43 634.16,1199.09 650.12,1184.9 666.09,1173.17 682.05,1164.12 698.01,1155.89 713.97,1148.49 729.93,1141.29 745.89,1134.7 761.85,1128.53 761.85,1138.41 745.89,1144.58 729.93,1151.16 713.97,1158.36 698.01,1165.77 682.05,1174 666.09,1183.05 650.12,1193.95 634.16,1207.32 618.2,1225.84" fill="#4C7FC0" fill-opacity="0.25"/><polyline points="618.2,1222.13 634.16,1203.62 650.12,1190.25 666.09,1179.34 682.05,1170.29 698.01,1162.06 713.97,1154.66 729.93,1147.46 745.89,1140.88 761.85,1134.7" fill="none" stroke="#4C7FC0" stroke-width="0.8"/><circle cx="618.2" cy="1222.13" r="1.1" fill="#4C7FC0"/><circle cx="634.16" cy="1203.62" r="1.1" fill="#4C7FC0"/><circle cx="650.12" cy="1190.25" r="1.1" fill="#4C7FC0"/><circle cx="666.09" cy="1179.34" r="1.1" fill="#4C7FC0"/><circle cx="682.05" cy="1170.29" r="1.1" fill="#4C7FC0"/><circle cx="698.01" cy="1162.06" r="1.1" fill="#4C7FC0"/><circle cx="713.97" cy="1154.66" r="1.1" fill="#4C7FC0"/><circle cx="729.93" cy="1147.46" r="1.1" fill="#4C7FC0"/><circle cx="745.89" cy="1140.88" r="1.1" fill="#4C7FC0"/><circle cx="761.85" cy="1134.7" r="1.1" fill="#4C7FC0"/><polyline points="618.2,1233.45 634.16,1216.99 650.12,1205.26 666.09,1196.42 682.05,1189.22 698.01,1183.05 713.97,1177.49 729.93,1172.35 745.89,1167.62 761.85,1163.5" fill="none" stroke="#F28A3C" stroke-width="0.8"/><circle cx="618.2" cy="1233.45" r="1.1" fill="#F28A3C"/><circle cx="634.16" cy="1216.99" r="1.1" fill="#F28A3C"/><circle cx="650.12" cy="1205.26" r="1.1" fill="#F28A3C"/><circle cx="666.09" cy="1196.42" r="1.1" fill="#F28A3C"/><circle cx="682.05" cy="1189.22" r="1.1" fill="#F28A3C"/><circle cx="698.01" cy="1183.05" r="1.1" fill="#F28A3C"/><circle cx="713.97" cy="1177.49" r="1.1" fill="#F28A3C"/><circle cx="729.93" cy="1172.35" r="1.1" fill="#F28A3C"/><circle cx="745.89" cy="1167.62" r="1.1" fill="#F28A3C"/><circle cx="761.85" cy="1163.5" r="1.1" fill="#F28A3C"/><polyline points="618.2,1224.19 634.16,1204.65 650.12,1190.25 666.09,1178.32 682.05,1168.44 698.01,1159.8 713.97,1152.19 729.93,1144.99 745.89,1138.41 761.85,1132.44" fill="none" stroke="#4C7FC0" stroke-width="0.8" stroke-dasharray="2.6 1.4"/><polyline points="618.2,1234.48 634.16,1215.96 650.12,1203.21 666.09,1193.33 682.05,1185.52 698.01,1179.34 713.97,1174 729.93,1169.06 745.89,1164.53 761.85,1160.42" fill="none" stroke="#F28A3C" stroke-width="0.8" stroke-dasharray="2.6 1.4"/></g>
<rect x="618.2" y="1124.57" width="143.65" height="120.64" fill="none" stroke="#D6D6D6" stroke-width="0.9"/>
<text class="sans" font-size="8.4" fill="#444" stroke="#444" stroke-width="0.3" text-anchor="end" x="614" y="1242.05">0.2</text>
<text class="sans" font-size="8.4" fill="#444" stroke="#444" stroke-width="0.3" text-anchor="end" x="614" y="1221.48">0.3</text>
<text class="sans" font-size="8.4" fill="#444" stroke="#444" stroke-width="0.3" text-anchor="end" x="614" y="1200.9">0.4</text>
<text class="sans" font-size="8.4" fill="#444" stroke="#444" stroke-width="0.3" text-anchor="end" x="614" y="1180.33">0.5</text>
<text class="sans" font-size="8.4" fill="#444" stroke="#444" stroke-width="0.3" text-anchor="end" x="614" y="1159.76">0.6</text>
<text class="sans" font-size="8.4" fill="#444" stroke="#444" stroke-width="0.3" text-anchor="end" x="614" y="1139.19">0.7</text>
<text class="sans" font-size="10.2" fill="#333" stroke="#333" stroke-width="0.3" text-anchor="middle" x="618.2" y="1256.82">1</text>
<text class="sans" font-size="10.2" fill="#333" stroke="#333" stroke-width="0.3" text-anchor="middle" x="634.16" y="1256.82">2</text>
<text class="sans" font-size="10.2" fill="#333" stroke="#333" stroke-width="0.3" text-anchor="middle" x="650.12" y="1256.82">3</text>
<text class="sans" font-size="10.2" fill="#333" stroke="#333" stroke-width="0.3" text-anchor="middle" x="666.09" y="1256.82">4</text>
<text class="sans" font-size="10.2" fill="#333" stroke="#333" stroke-width="0.3" text-anchor="middle" x="682.05" y="1256.82">5</text>
<text class="sans" font-size="10.2" fill="#333" stroke="#333" stroke-width="0.3" text-anchor="middle" x="698.01" y="1256.82">6</text>
<text class="sans" font-size="10.2" fill="#333" stroke="#333" stroke-width="0.3" text-anchor="middle" x="713.97" y="1256.82">7</text>
<text class="sans" font-size="10.2" fill="#333" stroke="#333" stroke-width="0.3" text-anchor="middle" x="729.93" y="1256.82">8</text>
<text class="sans" font-size="10.2" fill="#333" stroke="#333" stroke-width="0.3" text-anchor="middle" x="745.89" y="1256.82">9</text>
<text class="sans" font-size="10.2" fill="#333" stroke="#333" stroke-width="0.3" text-anchor="middle" x="761.85" y="1256.82">10</text>
<text class="sans" font-size="10" fill="#333" stroke="#333" stroke-width="0.3" text-anchor="middle" x="690.03" y="1268.52">k</text>
<text class="sans" font-size="9.8" fill="#333" stroke="#333" stroke-width="0.3" text-anchor="middle" x="690.03" y="1121.17">Actor w. Expander</text></g></g>
<text class="serif" font-size="12.6" fill="#2F4254" stroke="#2F4254" stroke-width="0.3" textLength="432.4" lengthAdjust="spacingAndGlyphs" x="213.7" y="1284.9">Top-k attention scores do not always capture neighborhood information effectively.</text></g>
<g id="theory"><rect x="41.8" y="1310.9" width="753.2" height="391.2" fill="#fff"/>
<path d="M 41.65 1318.14 Q 41.8 1310.9 48.91 1311 Q 56.01 1311.1 63.12 1310.78 Q 70.22 1310.45 77.33 1310.74 Q 84.43 1311.03 91.54 1311.15 Q 98.65 1311.28 105.75 1311.27 Q 112.86 1311.27 119.96 1311.09 Q 127.07 1310.92 134.17 1310.98 Q 141.28 1311.04 148.38 1310.9 Q 155.49 1310.76 162.6 1310.84 Q 169.7 1310.93 176.81 1310.7 Q 183.91 1310.47 191.02 1310.78 Q 198.12 1311.1 205.23 1311.06 Q 212.34 1311.01 219.44 1310.84 Q 226.55 1310.66 233.65 1310.71 Q 240.76 1310.77 247.86 1310.96 Q 254.97 1311.16 262.08 1311 Q 269.18 1310.84 276.29 1311.12 Q 283.39 1311.41 290.5 1311.41 Q 297.6 1311.42 304.71 1311.35 Q 311.82 1311.27 318.92 1310.86 Q 326.03 1310.45 333.13 1310.44 Q 340.24 1310.43 347.34 1310.55 Q 354.45 1310.67 361.55 1310.71 Q 368.66 1310.75 375.77 1310.94 Q 382.87 1311.13 389.98 1311.19 Q 397.08 1311.26 404.19 1311.11 Q 411.29 1310.97 418.4 1311.01 Q 425.51 1311.05 432.61 1311.02 Q 439.72 1310.98 446.82 1310.68 Q 453.93 1310.39 461.03 1310.66 Q 468.14 1310.93 475.25 1310.76 Q 482.35 1310.58 489.46 1310.7 Q 496.56 1310.81 503.67 1310.58 Q 510.77 1310.36 517.88 1310.72 Q 524.98 1311.07 532.09 1311.21 Q 539.2 1311.35 546.3 1310.89 Q 553.41 1310.43 560.51 1310.71 Q 567.62 1310.99 574.72 1310.68 Q 581.83 1310.38 588.94 1310.56 Q 596.04 1310.74 603.15 1310.63 Q 610.25 1310.53 617.36 1310.91 Q 624.46 1311.3 631.57 1311.22 Q 638.68 1311.15 645.78 1311.24 Q 652.89 1311.34 659.99 1310.96 Q 667.1 1310.59 674.2 1310.87 Q 681.31 1311.14 688.42 1311.13 Q 695.52 1311.12 702.63 1311.02 Q 709.73 1310.91 716.84 1311.13 Q 723.94 1311.36 731.05 1311.2 Q 738.15 1311.04 745.26 1310.85 Q 752.37 1310.66 759.47 1310.9 Q 766.58 1311.14 773.68 1311.01 Q 780.79 1310.88 787.89 1310.89 Q 795 1310.9 795.16 1318.14 Q 795.32 1325.39 795.09 1332.63 Q 794.87 1339.88 795.18 1347.12 Q 795.5 1354.37 795.28 1361.61 Q 795.06 1368.86 795 1376.1 Q 794.94 1383.34 795.24 1390.59 Q 795.55 1397.83 795.19 1405.08 Q 794.84 1412.32 795.14 1419.57 Q 795.45 1426.81 795.14 1434.06 Q 794.84 1441.3 795.01 1448.54 Q 795.17 1455.79 795.35 1463.03 Q 795.52 1470.28 794.98 1477.52 Q 794.45 1484.77 794.97 1492.01 Q 795.48 1499.26 795.43 1506.5 Q 795.38 1513.74 795.19 1520.99 Q 794.99 1528.23 795.14 1535.48 Q 795.28 1542.72 795.12 1549.97 Q 794.97 1557.21 795 1564.46 Q 795.03 1571.7 794.97 1578.94 Q 794.92 1586.19 794.93 1593.43 Q 794.95 1600.68 795.09 1607.92 Q 795.23 1615.17 795.27 1622.41 Q 795.32 1629.66 795.05 1636.9 Q 794.79 1644.14 794.93 1651.39 Q 795.08 1658.63 795.03 1665.88 Q 794.98 1673.12 794.76 1680.37 Q 794.54 1687.61 794.77 1694.86 Q 795 1702.1 787.89 1702.37 Q 780.79 1702.64 773.68 1702.49 Q 766.58 1702.34 759.47 1702.19 Q 752.37 1702.03 745.26 1702.31 Q 738.15 1702.59 731.05 1702.21 Q 723.94 1701.82 716.84 1702.01 Q 709.73 1702.21 702.63 1702.26 Q 695.52 1702.3 688.42 1702.37 Q 681.31 1702.44 674.2 1702.01 Q 667.1 1701.59 659.99 1702.09 Q 652.89 1702.6 645.78 1702.17 Q 638.68 1701.75 631.57 1701.81 Q 624.46 1701.87 617.36 1701.77 Q 610.25 1701.66 603.15 1701.77 Q 596.04 1701.88 588.94 1702.07 Q 581.83 1702.27 574.72 1702.16 Q 567.62 1702.05 560.51 1701.84 Q 553.41 1701.64 546.3 1702.12 Q 539.2 1702.61 532.09 1702.16 Q 524.98 1701.72 517.88 1701.81 Q 510.77 1701.91 503.67 1702.17 Q 496.56 1702.43 489.46 1702.01 Q 482.35 1701.59 475.25 1701.95 Q 468.14 1702.32 461.03 1702.48 Q 453.93 1702.64 446.82 1702.5 Q 439.72 1702.36 432.61 1702.22 Q 425.51 1702.08 418.4 1702.35 Q 411.29 1702.62 404.19 1702.31 Q 397.08 1702 389.98 1702.08 Q 382.87 1702.16 375.77 1702.22 Q 368.66 1702.28 361.55 1702.05 Q 354.45 1701.82 347.34 1701.89 Q 340.24 1701.97 333.13 1701.78 Q 326.03 1701.59 318.92 1701.64 Q 311.82 1701.69 304.71 1701.7 Q 297.6 1701.7 290.5 1701.66 Q 283.39 1701.62 276.29 1701.67 Q 269.18 1701.72 262.08 1701.91 Q 254.97 1702.11 247.86 1702.34 Q 240.76 1702.57 233.65 1702.37 Q 226.55 1702.16 219.44 1702.06 Q 212.34 1701.97 205.23 1701.78 Q 198.12 1701.58 191.02 1701.76 Q 183.91 1701.93 176.81 1701.97 Q 169.7 1702.02 162.6 1702.29 Q 155.49 1702.56 148.38 1702.24 Q 141.28 1701.93 134.17 1702.27 Q 127.07 1702.61 119.96 1702.55 Q 112.86 1702.49 105.75 1702.55 Q 98.65 1702.6 91.54 1702.22 Q 84.43 1701.84 77.33 1701.73 Q 70.22 1701.61 63.12 1701.81 Q 56.01 1702 48.91 1702.05 Q 41.8 1702.1 41.57 1694.86 Q 41.35 1687.61 41.7 1680.37 Q 42.06 1673.12 41.75 1665.88 Q 41.44 1658.63 41.74 1651.39 Q 42.03 1644.14 42.01 1636.9 Q 41.99 1629.66 42.14 1622.41 Q 42.29 1615.17 41.86 1607.92 Q 41.43 1600.68 41.47 1593.43 Q 41.51 1586.19 41.55 1578.94 Q 41.6 1571.7 41.47 1564.46 Q 41.33 1557.21 41.81 1549.97 Q 42.29 1542.72 42.11 1535.48 Q 41.93 1528.23 41.65 1520.99 Q 41.37 1513.74 41.57 1506.5 Q 41.78 1499.26 41.57 1492.01 Q 41.36 1484.77 41.83 1477.52 Q 42.31 1470.28 41.98 1463.03 Q 41.65 1455.79 41.45 1448.54 Q 41.25 1441.3 41.66 1434.06 Q 42.06 1426.81 41.84 1419.57 Q 41.61 1412.32 41.79 1405.08 Q 41.96 1397.83 42.04 1390.59 Q 42.11 1383.34 41.72 1376.1 Q 41.33 1368.86 41.59 1361.61 Q 41.85 1354.37 42.07 1347.12 Q 42.3 1339.88 41.9 1332.63 Q 41.5 1325.39 41.65 1318.14 Z" fill="none" stroke="#4A74C9" stroke-width="3.2" stroke-linejoin="round"/><circle cx="41.8" cy="1310.9" r="1.98" fill="#4A74C9"/><circle cx="795" cy="1310.9" r="1.98" fill="#4A74C9"/><circle cx="795" cy="1702.1" r="1.98" fill="#4A74C9"/><circle cx="41.8" cy="1702.1" r="1.98" fill="#4A74C9"/>
<g transform="translate(0 0.6)"><text class="serif" font-size="33.73" stroke="#000" stroke-width="0.3" x="279.6" y="1349.3">Theoretical Analysis</text>
<text class="serifb" font-size="20.95" stroke="#000" stroke-width="0.3" x="61" y="1384.8">Large models are compressible:</text>
<text class="serif" font-size="20.95" stroke="#000" stroke-width="0.3" x="61" y="1415.5">1. Can compress query/key calculation to</text>
<text class="serifi" font-size="22.6" transform="translate(414.27 1415.5) scale(1.0200 1)">d</text><text class="serif" font-size="25.99" transform="translate(430.37 1417.5) scale(1.2375 1)">=</text><text class="dmath" font-size="22.15" transform="translate(453.88 1415.5) scale(0.9195 1)">𝒪</text><text class="serif" font-size="22.6" transform="translate(470.07 1415.5) scale(0.8204 1)">(</text><text class="serif" font-size="21.92" transform="translate(476.83 1415.5) scale(1.0221 1)">log</text><text class="serif" font-size="22.6" transform="translate(506.26 1415.5) scale(0.8204 1)">(</text><text class="serifi" font-size="22.6" transform="translate(512.07 1415.5) scale(1.0678 1)">n</text><text class="serif" font-size="22.6" transform="translate(523.89 1415.5) scale(0.8204 1)">)</text><text class="serif" font-size="22.6" transform="translate(531.97 1415.5) scale(0.8667 1)">/</text><text class="dmath" font-size="21.47" transform="translate(539.29 1415.5) scale(0.8877 1)">ϵ</text><text class="serif" font-size="15.82" transform="translate(550.95 1406.9) scale(1.0727 1)">2</text><text class="serif" font-size="22.6" transform="translate(560.2 1415.5) scale(0.8438 1)">)</text><text class="serif" font-size="20.95" transform="translate(574.13 1415.5) scale(0.9837 1)">with error</text><text class="dmath" font-size="22.15" transform="translate(660.94 1415.5) scale(0.9293 1)">𝒪</text><text class="serif" font-size="22.6" transform="translate(677.03 1415.5) scale(0.7969 1)">(</text><text class="dmath" font-size="21.47" transform="translate(681.76 1415.5) scale(0.8741 1)">ϵ</text><text class="serif" font-size="22.6" transform="translate(692.46 1415.5) scale(1.0079 1)">)</text>
<text class="dejavu" font-size="19" stroke="#000" stroke-width="0.3" x="89.6" y="1441">✦</text>
<text class="serif" font-size="20.95" stroke="#000" stroke-width="0.3" x="107.4" y="1441">Key tool: Johnson-Lindenstrauss Lemma [3]</text>
<text class="serif" font-size="20.95" stroke="#000" stroke-width="0.3" x="61" y="1466.1">2. More compression theory in our workshop poster:</text>
<text class="serif" font-size="20.95" stroke="#000" stroke-width="0.3" x="78.5" y="1491.5">“A Theory for Compressibility of Graph Transformers for Transductive Learning”</text>
<text class="serif" font-size="20.95" stroke="#000" stroke-width="0.3" x="78.5" y="1516.6">ML &amp; Compression Workshop, Sunday Dec 15, West Meeting Room 211-214.</text>
<text class="serif" font-size="20.95" stroke="#000" stroke-width="0.3" x="116.4" y="1541.7">→</text>
<text class="serif" font-size="20.95" stroke="#000" stroke-width="0.3" x="141.9" y="1541.7">Smaller networks with (almost) the same attention scores exist,</text>
<text class="serif" font-size="20.95" stroke="#000" stroke-width="0.3" x="141.9" y="1567.2">under a variety of assumptions</text>
<text class="serifb" font-size="20.95" stroke="#000" stroke-width="0.3" x="61" y="1616.7">Sparsification:</text>
<text class="serif" font-size="20.95" stroke="#000" stroke-width="0.3" x="61" y="1647.3">3. Given a (noisily observed) attention matrix</text>
<text class="serifi" font-size="22.6" transform="translate(450.11 1647.3) scale(0.8302 1)">A</text><text class="dmath" font-size="20.34" transform="translate(468.61 1647.3) scale(0.9786 1)">∈</text><text class="dmath" font-size="20.34" transform="translate(490.52 1647.3) scale(0.8764 1)">ℝ</text><text class="serifi" font-size="15.82" transform="translate(506.94 1638.7) scale(1.0983 1)">n</text><text class="serif" font-size="15.82" transform="translate(514.52 1638.7) scale(1.2846 1)">×</text><text class="serifi" font-size="15.82" transform="translate(525 1638.7) scale(1.0983 1)">n</text><text class="serif" font-size="20.95" transform="translate(533.7 1647.3) scale(1.0022 1)">, based on [2],</text>
<text class="serif" font-size="20.95" stroke="#000" stroke-width="0.3" x="81.9" y="1672.9">we can sample a</text>
<text class="serifi" font-size="22.6" transform="translate(225.42 1672.9) scale(0.9348 1)">B</text><text class="serif" font-size="20.95" transform="translate(245.49 1672.9) scale(0.9528 1)">with</text><text class="dmath" font-size="22.15" transform="translate(286.68 1672.9) scale(0.9537 1)">𝒪</text><text class="serif" font-size="22.6" transform="translate(302.58 1672.9) scale(0.7911 1)">(</text><text class="serifi" font-size="22.6" transform="translate(308.94 1672.9) scale(1.0678 1)">n</text><text class="serif" font-size="21.92" transform="translate(325.17 1672.9) scale(1.0033 1)">log</text><text class="serif" font-size="22.6" transform="translate(354.38 1672.9) scale(0.8262 1)">(</text><text class="serifi" font-size="22.6" transform="translate(360.49 1672.9) scale(1.0357 1)">n</text><text class="serif" font-size="22.6" transform="translate(371.95 1672.9) scale(0.8262 1)">)</text><text class="serif" font-size="22.6" transform="translate(380.41 1672.9) scale(0.9101 1)">/</text><text class="dmath" font-size="21.47" transform="translate(387.52 1672.9) scale(0.7887 1)">ϵ</text><text class="serif" font-size="15.82" transform="translate(399.43 1664.3) scale(0.9654 1)">2</text><text class="serif" font-size="22.6" transform="translate(407.34 1672.9) scale(0.8438 1)">)</text><text class="serif" font-size="20.95" transform="translate(419.52 1672.9) scale(1.0023 1)">non-zero entries and</text><text class="dmath" font-size="20.79" transform="translate(598.13 1672.9) scale(1.0390 1)">‖</text><text class="serifi" font-size="22.6" transform="translate(608.6 1672.9) scale(0.8809 1)">A</text><text class="serif" font-size="24.86" transform="translate(626.44 1674.5) scale(1.1512 1)">−</text><text class="serifi" font-size="22.6" transform="translate(647.88 1672.9) scale(0.9115 1)">B</text><text class="dmath" font-size="20.79" transform="translate(661.65 1672.9) scale(1.0390 1)">‖</text><text class="serif" font-size="15.82" transform="translate(671.72 1677.9) scale(1.2068 1)">2</text><text class="dmath" font-size="20.34" transform="translate(686.57 1672.9) scale(0.9852 1)">≤</text><text class="dmath" font-size="21.47" transform="translate(707.49 1672.9) scale(0.8758 1)">ϵ</text><text class="dmath" font-size="20.79" transform="translate(719.05 1672.9) scale(1.0390 1)">‖</text><text class="serifi" font-size="22.6" transform="translate(730.33 1672.9) scale(0.9112 1)">A</text><text class="dmath" font-size="20.79" transform="translate(744.31 1672.9) scale(1.0390 1)">‖</text><text class="serif" font-size="15.82" transform="translate(754.38 1677.9) scale(1.2068 1)">2</text><text class="serif" font-size="21.02" transform="translate(764.88 1672.9) scale(0.9861 1)">.</text></g></g></g>
<g id="mid"><defs><marker id="mk" viewBox="0 0 10 10" refX="9" refY="5" markerWidth="6.2" markerHeight="6.2" orient="auto-start-reverse" markerUnits="userSpaceOnUse"><path d="M0 0.6 L10 5 L0 9.4 L2.8 5 Z" fill="#111"/></marker><marker id="mkb" viewBox="0 0 10 10" refX="9" refY="5" markerWidth="9" markerHeight="9" orient="auto" markerUnits="userSpaceOnUse"><path d="M0 0.5 L10 5 L0 9.5 Z" fill="#4A72C4"/></marker><marker id="mkn" viewBox="0 0 10 10" refX="7" refY="5" markerWidth="6.4" markerHeight="6.4" orient="auto" markerUnits="userSpaceOnUse"><path d="M0 0.6 L10 5 L0 9.4 L2.8 5 Z" fill="#0C0C70"/></marker><marker id="mkg" viewBox="0 0 10 10" refX="9" refY="5" markerWidth="5.4" markerHeight="5.4" orient="auto-start-reverse" markerUnits="userSpaceOnUse"><path d="M0 0.6 L10 5 L0 9.4 L2.8 5 Z" fill="#111"/></marker></defs>
<g><rect x="832.3" y="236.8" width="100.4" height="92.7" fill="#F4EDDC" stroke="#5B7BC9" stroke-width="1" rx="17"/>
<text class="serif" font-size="14.9" stroke="#000" stroke-width="0.3" text-anchor="middle" x="882.5" y="279.3">This graph has</text>
<text class="serif" font-size="14.9" stroke="#000" stroke-width="0.3" text-anchor="middle" x="882.5" y="296.3"><tspan fill="#B5652D" stroke="#B5652D">bottlenecks</tspan>!</text>
<rect x="965.6" y="236.8" width="116.3" height="92.7" fill="#F4EDDC" stroke="#5B7BC9" stroke-width="1" rx="17"/>
<text class="serif" font-size="14.9" stroke="#000" stroke-width="0.3" text-anchor="middle" x="1023.8" y="270.8">Graph</text>
<text class="serif" font-size="14.9" stroke="#000" stroke-width="0.3" text-anchor="middle" x="1023.8" y="287.8">Transformers are</text>
<text class="serif" font-size="14.9" stroke="#000" stroke-width="0.3" text-anchor="middle" x="1023.8" y="304.8"><tspan fill="#B5652D" stroke="#B5652D">EXPENSIVE</tspan>!</text>
<rect x="1114.4" y="237.4" width="192.4" height="92.1" fill="#F4EDDC" stroke="#5B7BC9" stroke-width="1" rx="17"/>
<text class="serif" font-size="14.9" stroke="#000" stroke-width="0.3" x="1124.4" y="256.6">Expander edges + self loops:</text>
<text class="serif" font-size="14.9" stroke="#000" stroke-width="0.3" x="1119" y="273.6">-</text>
<text class="serif" font-size="14.9" stroke="#000" stroke-width="0.3" x="1129.6" y="273.6"><tspan fill="#6E9E4F" stroke="#6E9E4F">Solve</tspan> bottlenecks</text>
<text class="serif" font-size="14.9" stroke="#000" stroke-width="0.3" x="1119" y="290.6">-</text>
<text class="serif" font-size="14.9" stroke="#000" stroke-width="0.3" x="1129.6" y="290.6">Estimate full Transformer</text>
<text class="serif" font-size="14.9" stroke="#000" stroke-width="0.3" x="1129.3" y="307.6">(Exphromer, ICML 2023)</text>
<path d="M 932.9 285.3 L 963.5 285.3" stroke="#4A72C4" stroke-width="1.3" marker-end="url(#mkb)" fill="none"/>
<path d="M 1082.1 285.3 L 1112.4 285.3" stroke="#4A72C4" stroke-width="1.3" marker-end="url(#mkb)" fill="none"/></g>
<g><rect x="935.9" y="342.7" width="343.3" height="176" fill="none" stroke="#2A2A2A" stroke-width="2.3" rx="28" stroke-dasharray="7.3 5.6"/>
<line x1="992.83" y1="377.96" x2="1059.58" y2="409.85" stroke="#6FAE96" stroke-width="2.2"/>
<line x1="1031.95" y1="377.96" x2="964.56" y2="409.85" stroke="#6FAE96" stroke-width="2.2"/>
<line x1="964.56" y1="409.85" x2="1059.58" y2="409.85" stroke="#6FAE96" stroke-width="2.2"/>
<line x1="1031.95" y1="377.96" x2="993.89" y2="484.46" stroke="#6FAE96" stroke-width="2.2"/>
<line x1="965.62" y1="452.58" x2="1060.65" y2="452.58" stroke="#6FAE96" stroke-width="2.2"/>
<line x1="965.62" y1="452.58" x2="1031.95" y2="484.46" stroke="#6FAE96" stroke-width="2.2"/>
<line x1="1060.65" y1="452.58" x2="993.89" y2="484.46" stroke="#6FAE96" stroke-width="2.2"/>
<line x1="993.89" y1="484.46" x2="1031.95" y2="484.46" stroke="#6FAE96" stroke-width="2.2"/>
<circle cx="992.83" cy="377.96" r="4.6" fill="#E4ECFA" stroke="#7C99D1" stroke-width="1.4"/>
<circle cx="1031.95" cy="377.96" r="4.6" fill="#E4ECFA" stroke="#7C99D1" stroke-width="1.4"/>
<circle cx="1059.58" cy="409.85" r="4.6" fill="#E4ECFA" stroke="#7C99D1" stroke-width="1.4"/>
<circle cx="1060.65" cy="452.58" r="4.6" fill="#E4ECFA" stroke="#7C99D1" stroke-width="1.4"/>
<circle cx="1031.95" cy="484.46" r="4.6" fill="#E4ECFA" stroke="#7C99D1" stroke-width="1.4"/>
<circle cx="993.89" cy="484.46" r="4.6" fill="#E4ECFA" stroke="#7C99D1" stroke-width="1.4"/>
<circle cx="965.62" cy="452.58" r="4.6" fill="#E4ECFA" stroke="#7C99D1" stroke-width="1.4"/>
<circle cx="964.56" cy="409.85" r="4.6" fill="#E4ECFA" stroke="#7C99D1" stroke-width="1.4"/>
<text class="sans" font-size="12.6" fill="#111" stroke="#111" stroke-width="0.3" x="985.82" y="366.05">v<tspan font-size="11.97" dy="3.78">1</tspan></text>
<text class="sans" font-size="12.6" fill="#111" stroke="#111" stroke-width="0.3" x="1025.78" y="366.05">v<tspan font-size="11.97" dy="3.78">2</tspan></text>
<text class="sans" font-size="12.6" fill="#111" stroke="#111" stroke-width="0.3" x="1067.02" y="412.82">v<tspan font-size="11.97" dy="3.78">3</tspan></text>
<text class="sans" font-size="12.6" fill="#111" stroke="#111" stroke-width="0.3" x="1068.09" y="455.34">v<tspan font-size="11.97" dy="3.78">4</tspan></text>
<text class="sans" font-size="12.6" fill="#111" stroke="#111" stroke-width="0.3" x="1028.76" y="498.28">v<tspan font-size="11.97" dy="3.78">5</tspan></text>
<text class="sans" font-size="12.6" fill="#111" stroke="#111" stroke-width="0.3" x="987.94" y="498.92">v<tspan font-size="11.97" dy="3.78">6</tspan></text>
<text class="sans" font-size="12.6" fill="#111" stroke="#111" stroke-width="0.3" x="944.36" y="454.28">v<tspan font-size="11.97" dy="3.78">7</tspan></text>
<text class="sans" font-size="12.6" fill="#111" stroke="#111" stroke-width="0.3" x="944.36" y="411.76">v<tspan font-size="11.97" dy="3.78">8</tspan></text>
<line x1="1088.89" y1="426" x2="1108.09" y2="426" stroke="#000" stroke-width="3.1"/>
<line x1="1098.49" y1="416.4" x2="1098.49" y2="435.6" stroke="#000" stroke-width="3.1"/>
<line x1="1171.4" y1="377.32" x2="1246.23" y2="409.63" stroke="#A57DBE" stroke-width="2.2"/>
<line x1="1171.4" y1="377.32" x2="1172.47" y2="483.61" stroke="#A57DBE" stroke-width="2.2"/>
<line x1="1215.41" y1="377.32" x2="1215.41" y2="483.61" stroke="#A57DBE" stroke-width="2.2"/>
<line x1="1215.41" y1="377.32" x2="1172.47" y2="483.61" stroke="#A57DBE" stroke-width="2.2"/>
<line x1="1139.3" y1="409.63" x2="1246.23" y2="409.63" stroke="#A57DBE" stroke-width="2.2"/>
<line x1="1139.3" y1="409.63" x2="1247.3" y2="452.15" stroke="#A57DBE" stroke-width="2.2"/>
<line x1="1140.37" y1="452.15" x2="1247.3" y2="452.15" stroke="#A57DBE" stroke-width="2.2"/>
<line x1="1140.37" y1="452.15" x2="1215.41" y2="483.61" stroke="#A57DBE" stroke-width="2.2"/>
<line x1="1171.4" y1="377.32" x2="1215.41" y2="377.32" stroke="#E5746A" stroke-width="2.2"/>
<line x1="1215.41" y1="377.32" x2="1246.23" y2="409.63" stroke="#E5746A" stroke-width="2.2"/>
<line x1="1246.23" y1="409.63" x2="1247.3" y2="452.15" stroke="#E5746A" stroke-width="2.2"/>
<line x1="1247.3" y1="452.15" x2="1215.41" y2="483.61" stroke="#E5746A" stroke-width="2.2"/>
<line x1="1215.41" y1="483.61" x2="1172.47" y2="483.61" stroke="#E5746A" stroke-width="2.2"/>
<line x1="1172.47" y1="483.61" x2="1140.37" y2="452.15" stroke="#E5746A" stroke-width="2.2"/>
<line x1="1140.37" y1="452.15" x2="1139.3" y2="409.63" stroke="#E5746A" stroke-width="2.2"/>
<line x1="1139.3" y1="409.63" x2="1171.4" y2="377.32" stroke="#E5746A" stroke-width="2.2"/>
<path d="M 1170.86 373.46 C 1166.91 353.59 1148.27 370.37 1166.68 375.69" fill="none" stroke="#0C0C70" stroke-width="1.5" marker-end="url(#mkn)"/>
<path d="M 1216.68 373.63 C 1224.35 354.89 1239.44 374.91 1220.36 376.62" fill="none" stroke="#0C0C70" stroke-width="1.5" marker-end="url(#mkn)"/>
<path d="M 1247.11 405.83 C 1252.78 386.39 1269.88 404.73 1251.08 408.42" fill="none" stroke="#0C0C70" stroke-width="1.5" marker-end="url(#mkn)"/>
<path d="M 1251.14 452.83 C 1270.85 457.47 1253.43 475.51 1248.77 456.93" fill="none" stroke="#0C0C70" stroke-width="1.5" marker-end="url(#mkn)"/>
<path d="M 1219.29 483.27 C 1239.54 482.65 1227.38 504.59 1218.07 487.85" fill="none" stroke="#0C0C70" stroke-width="1.5" marker-end="url(#mkn)"/>
<path d="M 1170.76 487.12 C 1160.86 504.79 1148.32 483.07 1167.47 483.71" fill="none" stroke="#0C0C70" stroke-width="1.5" marker-end="url(#mkn)"/>
<path d="M 1138.66 455.66 C 1128.76 473.33 1116.22 451.61 1135.37 452.25" fill="none" stroke="#0C0C70" stroke-width="1.5" marker-end="url(#mkn)"/>
<path d="M 1138.69 405.78 C 1134.4 385.99 1116.06 403.09 1134.55 408.08" fill="none" stroke="#0C0C70" stroke-width="1.5" marker-end="url(#mkn)"/>
<circle cx="1171.4" cy="377.32" r="3.6" fill="#E8F0FB" stroke="#7C99D1" stroke-width="1.3"/>
<circle cx="1215.41" cy="377.32" r="3.6" fill="#E8F0FB" stroke="#7C99D1" stroke-width="1.3"/>
<circle cx="1246.23" cy="409.63" r="3.6" fill="#E8F0FB" stroke="#7C99D1" stroke-width="1.3"/>
<circle cx="1247.3" cy="452.15" r="3.6" fill="#E8F0FB" stroke="#7C99D1" stroke-width="1.3"/>
<circle cx="1215.41" cy="483.61" r="3.6" fill="#E8F0FB" stroke="#7C99D1" stroke-width="1.3"/>
<circle cx="1172.47" cy="483.61" r="3.6" fill="#E8F0FB" stroke="#7C99D1" stroke-width="1.3"/>
<circle cx="1140.37" cy="452.15" r="3.6" fill="#E8F0FB" stroke="#7C99D1" stroke-width="1.3"/>
<circle cx="1139.3" cy="409.63" r="3.6" fill="#E8F0FB" stroke="#7C99D1" stroke-width="1.3"/>
<text class="sans" font-size="12.6" fill="#111" stroke="#111" stroke-width="0.3" x="1161.2" y="363.93">v<tspan font-size="11.97" dy="3.78">1</tspan></text>
<text class="sans" font-size="12.6" fill="#111" stroke="#111" stroke-width="0.3" x="1207.33" y="363.93">v<tspan font-size="11.97" dy="3.78">2</tspan></text>
<text class="sans" font-size="12.6" fill="#111" stroke="#111" stroke-width="0.3" x="1255.8" y="414.95">v<tspan font-size="11.97" dy="3.78">3</tspan></text>
<text class="sans" font-size="12.6" fill="#111" stroke="#111" stroke-width="0.3" x="1252.61" y="454.28">v<tspan font-size="11.97" dy="3.78">4</tspan></text>
<text class="sans" font-size="12.6" fill="#111" stroke="#111" stroke-width="0.3" x="1210.09" y="498.28">v<tspan font-size="11.97" dy="3.78">5</tspan></text>
<text class="sans" font-size="12.6" fill="#111" stroke="#111" stroke-width="0.3" x="1167.15" y="499.98">v<tspan font-size="11.97" dy="3.78">6</tspan></text>
<text class="sans" font-size="12.6" fill="#111" stroke="#111" stroke-width="0.3" x="1116.98" y="451.09">v<tspan font-size="11.97" dy="3.78">7</tspan></text>
<text class="sans" font-size="12.6" fill="#111" stroke="#111" stroke-width="0.3" x="1115.49" y="410.7">v<tspan font-size="11.97" dy="3.78">8</tspan></text>
<line x1="1285.1" y1="435.4" x2="1309" y2="435.4" stroke="#000" stroke-width="1.9"/>
<path d="M 1318 435.4 L 1304.8 429.6 L 1307.6 435.4 L 1304.8 441.2 Z" fill="#000"/>
<path d="M 964.56 429.83 C 915.66 425.58 885.9 391.56 883.78 336.29" fill="none" stroke="#4A72C4" stroke-width="2.3" stroke-linecap="round"/><path d="M 883.14 330.77 L 893.09 346.96 L 884.32 344.31 L 876.15 348.44 Z" fill="#4A72C4" stroke="#4A72C4" stroke-width="0.8" stroke-linejoin="round"/>
<path d="M 1263.24 330.98 C 1271.74 357.55 1260.05 374.56 1245.17 386.25" fill="none" stroke="#4A72C4" stroke-width="2.3" stroke-linecap="round"/><path d="M 1240.49 389.44 L 1248.82 371.36 L 1251.52 380.18 L 1259.75 384.38 Z" fill="#4A72C4" stroke="#4A72C4" stroke-width="0.8" stroke-linejoin="round"/></g>
<g><path d="M 1580 399.2 C 1582.17 399.42 1588.33 398.53 1593 400.5 C 1597.67 402.47 1603.33 403.92 1608 411 C 1612.67 418.08 1617.83 430.67 1621 443 C 1624.17 455.33 1626.08 473 1627 485 C 1627.92 497 1627.67 505.83 1626.5 515 C 1625.33 524.17 1623.42 533.17 1620 540 C 1616.58 546.83 1612.1 550.77 1606 556 C 1599.9 561.23 1593.55 566 1583.4 571.4 C 1573.25 576.8 1558.57 583.43 1545.1 588.4 C 1531.63 593.37 1520.32 597.48 1502.6 601.2 C 1484.88 604.92 1460.07 608.4 1438.8 610.7 C 1417.53 613 1399.8 613.92 1375 615 C 1350.2 616.08 1321.03 616.37 1290 617.2 C 1258.97 618.03 1218.8 618.53 1188.8 620 C 1158.8 621.47 1131.05 623.55 1110 626 C 1088.95 628.45 1077.5 631.03 1062.5 634.7 C 1047.5 638.37 1031.92 643.45 1020 648 C 1008.08 652.55 998.5 657 991 662 C 983.5 667 978.75 673.33 975 678 C 971.25 682.67 969.58 688 968.5 690" fill="none" stroke="#5A0F3C" stroke-width="2" stroke-dasharray="8.5 6.5"/>
<path d="M 966.9 700 L 960.6 687.6 L 966.9 690.6 L 973.2 687.6 Z" fill="#5A0F3C"/></g>
<g><rect x="1321.6" y="308.3" width="271.8" height="233.3" fill="none" stroke="#5C0F5C" stroke-width="2.3" stroke-dasharray="9 8.6"/>
<text class="serif" font-size="20.8" stroke="#000" stroke-width="0.3" x="1333.4" y="332">Attention Score</text>
<text class="serif" font-size="20.8" stroke="#000" stroke-width="0.3" x="1333.4" y="357.1">Estimator</text>
<text class="serif" font-size="20.8" stroke="#000" stroke-width="0.3" x="1332.6" y="382">(ASE)</text>
<text class="serif" font-size="22.5" stroke="#000" stroke-width="0.3" x="1500.6" y="327.9"><tspan class="serifi">X</tspan><tspan class="dmath" font-size="16.2" dy="-10.35">ℓ</tspan></text>
<path d="M 1509.6 350.75 L 1509.6 334.17" fill="none" stroke="#222" stroke-width="0.9" marker-end="url(#mk)" />
<rect x="1434.1" y="351.2" width="150.3" height="21.9" fill="#E1D5E7" stroke="#9673A6" stroke-width="0.9" rx="2.6"/><text class="serif" font-size="14.9" stroke="#000" stroke-width="0.3" text-anchor="middle" x="1509.25" y="365.5">Feed Forward Network</text>
<path d="M 1513.21 387.95 L 1513.21 374.13" fill="none" stroke="#222" stroke-width="0.9" marker-end="url(#mk)" />
<rect x="1449.9" y="388" width="129.6" height="22.1" fill="#F8CECC" stroke="#B85450" stroke-width="0.9" rx="2.6"/><text class="serif" font-size="14.9" stroke="#000" stroke-width="0.3" text-anchor="middle" x="1514.7" y="402.4">Sparse MatMul</text>
<path d="M 1514.7 424.94 L 1514.7 411.12" fill="none" stroke="#222" stroke-width="0.9" marker-end="url(#mk)" />
<rect x="1462.6" y="424.9" width="116.9" height="21.9" fill="#FFF2CC" stroke="#D6B656" stroke-width="0.9" rx="2.6"/><text class="serif" font-size="14.9" stroke="#000" stroke-width="0.3" text-anchor="middle" x="1521.05" y="439.5">Add &amp; SoftMax</text>
<rect x="1339.1" y="462.6" width="67.2" height="21.7" fill="#D5E8D4" stroke="#82B366" stroke-width="0.9" rx="2.6"/><text class="serif" font-size="14.9" stroke="#000" stroke-width="0.3" text-anchor="middle" x="1372.7" y="477.3">Normalize</text>
<rect x="1417.1" y="460.7" width="80.4" height="22.1" fill="#DAE8FC" stroke="#6C8EBF" stroke-width="0.9" rx="2.6"/><text class="serif" font-size="14.9" stroke="#000" stroke-width="0.3" text-anchor="middle" x="1457.3" y="476.1">Dot Product</text>
<circle cx="1524.48" cy="471.5" r="10.2" fill="none" stroke="#111" stroke-width="1.1"/><circle cx="1524.48" cy="471.5" r="2.1" fill="#111"/>
<path d="M 1372.48 462.57 L 1372.48 399.01 L 1449.01 399.01" fill="none" stroke="#222" stroke-width="0.9" marker-end="url(#mk)" />
<path d="M 1375.67 497.86 L 1375.67 485.1" fill="none" stroke="#222" stroke-width="0.9" marker-end="url(#mk)" />
<path d="M 1445.82 497.86 L 1445.82 483.61" fill="none" stroke="#222" stroke-width="0.9" marker-end="url(#mk)" />
<path d="M 1488.77 497.86 L 1488.77 488.29 L 1520.65 488.29 L 1520.65 482.13" fill="none" stroke="#222" stroke-width="0.9" marker-end="url(#mk)" />
<path d="M 1529.37 497.86 L 1529.37 482.13" fill="none" stroke="#222" stroke-width="0.9" marker-end="url(#mk)" />
<path d="M 1514.06 471.5 L 1498.33 471.5" fill="none" stroke="#222" stroke-width="0.9" marker-end="url(#mk)" />
<path d="M 1479.2 460.65 L 1479.2 447.47" fill="none" stroke="#222" stroke-width="0.9" marker-end="url(#mk)" />
<path d="M 1563.81 497.86 L 1563.81 447.47" fill="none" stroke="#222" stroke-width="0.9" marker-end="url(#mk)" />
<rect x="1363.34" y="498.1" width="25.51" height="22.3" fill="#F5F5F5" stroke="#8C8C8C" stroke-width="0.8" rx="3.6"/><rect x="1365.04" y="499.8" width="22.11" height="18.9" fill="none" stroke="#8C8C8C" stroke-width="0.7" rx="2.4"/><text class="sans" font-size="14.2" fill="#222" stroke="#222" stroke-width="0.3" text-anchor="middle" x="1376.1" y="514.3">V</text>
<rect x="1433.49" y="498.1" width="25.09" height="22.3" fill="#F5F5F5" stroke="#8C8C8C" stroke-width="0.8" rx="3.6"/><rect x="1435.19" y="499.8" width="21.69" height="18.9" fill="none" stroke="#8C8C8C" stroke-width="0.7" rx="2.4"/><text class="sans" font-size="14.2" fill="#222" stroke="#222" stroke-width="0.3" text-anchor="middle" x="1446.04" y="514.3">Q</text>
<rect x="1476.44" y="498.1" width="25.09" height="22.3" fill="#F5F5F5" stroke="#8C8C8C" stroke-width="0.8" rx="3.6"/><rect x="1478.14" y="499.8" width="21.69" height="18.9" fill="none" stroke="#8C8C8C" stroke-width="0.7" rx="2.4"/><text class="sans" font-size="14.2" fill="#222" stroke="#222" stroke-width="0.3" text-anchor="middle" x="1488.98" y="514.3">K</text>
<rect x="1516.62" y="498.1" width="25.09" height="22.3" fill="#F5F5F5" stroke="#8C8C8C" stroke-width="0.8" rx="3.6"/><rect x="1518.32" y="499.8" width="21.69" height="18.9" fill="none" stroke="#8C8C8C" stroke-width="0.7" rx="2.4"/><text class="sans" font-size="14.2" fill="#222" stroke="#222" stroke-width="0.3" text-anchor="middle" x="1529.16" y="514.3">E</text>
<rect x="1551.48" y="498.1" width="25.09" height="22.3" fill="#F5F5F5" stroke="#8C8C8C" stroke-width="0.8" rx="3.6"/><rect x="1553.18" y="499.8" width="21.69" height="18.9" fill="none" stroke="#8C8C8C" stroke-width="0.7" rx="2.4"/><text class="sans" font-size="14.2" fill="#222" stroke="#222" stroke-width="0.3" text-anchor="middle" x="1564.02" y="514.3">B</text>
<path d="M 1480.26 550.15 L 1480.26 536.76 M 1375.67 536.76 L 1489.19 536.76" fill="none" stroke="#222" stroke-width="0.9"/>
<path d="M 1375.67 536.76 L 1375.67 521.03" fill="none" stroke="#222" stroke-width="0.9" marker-end="url(#mk)" />
<path d="M 1449.44 536.76 L 1449.44 521.03" fill="none" stroke="#222" stroke-width="0.9" marker-end="url(#mk)" />
<path d="M 1489.19 536.76 L 1489.19 521.03" fill="none" stroke="#222" stroke-width="0.9" marker-end="url(#mk)" />
<path d="M 1543.4 550.15 L 1543.4 535.7 M 1532.98 535.7 L 1568.06 535.7" fill="none" stroke="#222" stroke-width="0.9"/>
<path d="M 1532.98 535.7 L 1532.98 521.88" fill="none" stroke="#222" stroke-width="0.9" marker-end="url(#mk)" />
<path d="M 1568.06 535.7 L 1568.06 521.88" fill="none" stroke="#222" stroke-width="0.9" marker-end="url(#mk)" />
<text class="serif" font-size="22.5" stroke="#000" stroke-width="0.3" x="1465.6" y="573.6"><tspan class="serifi">X</tspan><tspan class="dmath" font-size="15.3" dy="-9">ℓ−1</tspan></text>
<text class="dmath" font-size="22.5" stroke="#000" stroke-width="0.3" x="1536.6" y="573.2">ℰ</text>
<rect x="1604.6" y="239.1" width="176.1" height="109.3" fill="#F3ECD8" stroke="#5B7BC9" stroke-width="1"/>
<path d="M 1609.6 248 l 6.2 3.7 l -6.2 3.7 z" fill="#9A9A9A"/>
<text class="serif" font-size="14.9" stroke="#000" stroke-width="0.3" x="1618.7" y="256.6">A variant of Exphormer</text>
<path d="M 1609.6 265 l 6.2 3.7 l -6.2 3.7 z" fill="#9A9A9A"/>
<text class="serif" font-size="14.9" stroke="#000" stroke-width="0.3" x="1618.7" y="273.6">Removes MPNN</text>
<path d="M 1609.6 282 l 6.2 3.7 l -6.2 3.7 z" fill="#9A9A9A"/>
<text class="serif" font-size="14.9" stroke="#000" stroke-width="0.3" x="1618.7" y="290.6">Minimal hidden dim (4/8)</text>
<path d="M 1609.6 299 l 6.2 3.7 l -6.2 3.7 z" fill="#9A9A9A"/>
<text class="serif" font-size="14.9" stroke="#000" stroke-width="0.3" x="1618.7" y="307.6">Normalized V</text>
<path d="M 1609.6 316 l 6.2 3.7 l -6.2 3.7 z" fill="#9A9A9A"/>
<text class="serif" font-size="14.9" stroke="#000" stroke-width="0.3" x="1618.7" y="324.6">Temperature adjustment</text>
<text class="serif" font-size="14.9" stroke="#000" stroke-width="0.3" x="1618.7" y="341.6">for sharper attention</text>
<path d="M 1596.12 390.5 C 1630.14 387.31 1655.65 374.56 1670.53 355.43" fill="none" stroke="#4A72C4" stroke-width="2.3" stroke-linecap="round"/><path d="M 1674.35 350.32 L 1669.97 369.74 L 1665.49 361.67 L 1656.57 359.27 Z" fill="#4A72C4" stroke="#4A72C4" stroke-width="0.8" stroke-linejoin="round"/></g>
<g><text class="serif" font-size="22.97" stroke="#000" stroke-width="0.3" x="1114.8" y="601.9">Layer-wise Attention Score Extraction</text>
<rect x="899.1" y="728.4" width="16.83" height="16.83" fill="#1F4E9E" stroke="#C9C9D6" stroke-width="0.45"/>
<rect x="915.93" y="728.4" width="16.83" height="16.83" fill="#D4E4FB" stroke="#C9C9D6" stroke-width="0.45"/>
<rect x="932.75" y="728.4" width="16.83" height="16.83" fill="#DCE8FB" stroke="#C9C9D6" stroke-width="0.45"/>
<rect x="949.58" y="728.4" width="16.83" height="16.83" fill="#FFFFFF" stroke="#C9C9D6" stroke-width="0.45"/>
<rect x="966.4" y="728.4" width="16.83" height="16.83" fill="#FFFFFF" stroke="#C9C9D6" stroke-width="0.45"/>
<rect x="983.23" y="728.4" width="16.83" height="16.83" fill="#173A7C" stroke="#C9C9D6" stroke-width="0.45"/>
<rect x="1000.05" y="728.4" width="16.83" height="16.83" fill="#FFFFFF" stroke="#C9C9D6" stroke-width="0.45"/>
<rect x="1016.88" y="728.4" width="16.83" height="16.83" fill="#3A78F2" stroke="#C9C9D6" stroke-width="0.45"/>
<rect x="899.1" y="745.23" width="16.83" height="16.83" fill="#D4E4FB" stroke="#C9C9D6" stroke-width="0.45"/>
<rect x="915.93" y="745.23" width="16.83" height="16.83" fill="#D0D6E8" stroke="#C9C9D6" stroke-width="0.45"/>
<rect x="932.75" y="745.23" width="16.83" height="16.83" fill="#2657B8" stroke="#C9C9D6" stroke-width="0.45"/>
<rect x="949.58" y="745.23" width="16.83" height="16.83" fill="#FFFFFF" stroke="#C9C9D6" stroke-width="0.45"/>
<rect x="966.4" y="745.23" width="16.83" height="16.83" fill="#D4E4FB" stroke="#C9C9D6" stroke-width="0.45"/>
<rect x="983.23" y="745.23" width="16.83" height="16.83" fill="#0F2A5C" stroke="#C9C9D6" stroke-width="0.45"/>
<rect x="1000.05" y="745.23" width="16.83" height="16.83" fill="#FFFFFF" stroke="#C9C9D6" stroke-width="0.45"/>
<rect x="1016.88" y="745.23" width="16.83" height="16.83" fill="#DCE8FB" stroke="#C9C9D6" stroke-width="0.45"/>
<rect x="899.1" y="762.05" width="16.83" height="16.83" fill="#2E68D6" stroke="#C9C9D6" stroke-width="0.45"/>
<rect x="915.93" y="762.05" width="16.83" height="16.83" fill="#D4E4FB" stroke="#C9C9D6" stroke-width="0.45"/>
<rect x="932.75" y="762.05" width="16.83" height="16.83" fill="#D0D6E8" stroke="#C9C9D6" stroke-width="0.45"/>
<rect x="949.58" y="762.05" width="16.83" height="16.83" fill="#00008B" stroke="#C9C9D6" stroke-width="0.45"/>
<rect x="966.4" y="762.05" width="16.83" height="16.83" fill="#FFFFFF" stroke="#C9C9D6" stroke-width="0.45"/>
<rect x="983.23" y="762.05" width="16.83" height="16.83" fill="#FFFFFF" stroke="#C9C9D6" stroke-width="0.45"/>
<rect x="1000.05" y="762.05" width="16.83" height="16.83" fill="#FFFFFF" stroke="#C9C9D6" stroke-width="0.45"/>
<rect x="1016.88" y="762.05" width="16.83" height="16.83" fill="#00008B" stroke="#C9C9D6" stroke-width="0.45"/>
<rect x="899.1" y="778.88" width="16.83" height="16.83" fill="#FFFFFF" stroke="#C9C9D6" stroke-width="0.45"/>
<rect x="915.93" y="778.88" width="16.83" height="16.83" fill="#FFFFFF" stroke="#C9C9D6" stroke-width="0.45"/>
<rect x="932.75" y="778.88" width="16.83" height="16.83" fill="#D4E4FB" stroke="#C9C9D6" stroke-width="0.45"/>
<rect x="949.58" y="778.88" width="16.83" height="16.83" fill="#3273F0" stroke="#C9C9D6" stroke-width="0.45"/>
<rect x="966.4" y="778.88" width="16.83" height="16.83" fill="#000080" stroke="#C9C9D6" stroke-width="0.45"/>
<rect x="983.23" y="778.88" width="16.83" height="16.83" fill="#ABBDE8" stroke="#C9C9D6" stroke-width="0.45"/>
<rect x="1000.05" y="778.88" width="16.83" height="16.83" fill="#00008B" stroke="#C9C9D6" stroke-width="0.45"/>
<rect x="1016.88" y="778.88" width="16.83" height="16.83" fill="#D4E4FB" stroke="#C9C9D6" stroke-width="0.45"/>
<rect x="899.1" y="795.7" width="16.83" height="16.83" fill="#FFFFFF" stroke="#C9C9D6" stroke-width="0.45"/>
<rect x="915.93" y="795.7" width="16.83" height="16.83" fill="#00008B" stroke="#C9C9D6" stroke-width="0.45"/>
<rect x="932.75" y="795.7" width="16.83" height="16.83" fill="#FFFFFF" stroke="#C9C9D6" stroke-width="0.45"/>
<rect x="949.58" y="795.7" width="16.83" height="16.83" fill="#4A90F0" stroke="#C9C9D6" stroke-width="0.45"/>
<rect x="966.4" y="795.7" width="16.83" height="16.83" fill="#00009A" stroke="#C9C9D6" stroke-width="0.45"/>
<rect x="983.23" y="795.7" width="16.83" height="16.83" fill="#6BA5F5" stroke="#C9C9D6" stroke-width="0.45"/>
<rect x="1000.05" y="795.7" width="16.83" height="16.83" fill="#4A8EF0" stroke="#C9C9D6" stroke-width="0.45"/>
<rect x="1016.88" y="795.7" width="16.83" height="16.83" fill="#FFFFFF" stroke="#C9C9D6" stroke-width="0.45"/>
<rect x="899.1" y="812.52" width="16.83" height="16.83" fill="#74AAF7" stroke="#C9C9D6" stroke-width="0.45"/>
<rect x="915.93" y="812.52" width="16.83" height="16.83" fill="#2A5FC8" stroke="#C9C9D6" stroke-width="0.45"/>
<rect x="932.75" y="812.52" width="16.83" height="16.83" fill="#FFFFFF" stroke="#C9C9D6" stroke-width="0.45"/>
<rect x="949.58" y="812.52" width="16.83" height="16.83" fill="#1F4E9E" stroke="#C9C9D6" stroke-width="0.45"/>
<rect x="966.4" y="812.52" width="16.83" height="16.83" fill="#A5C8F8" stroke="#C9C9D6" stroke-width="0.45"/>
<rect x="983.23" y="812.52" width="16.83" height="16.83" fill="#D4E4FB" stroke="#C9C9D6" stroke-width="0.45"/>
<rect x="1000.05" y="812.52" width="16.83" height="16.83" fill="#00009A" stroke="#C9C9D6" stroke-width="0.45"/>
<rect x="1016.88" y="812.52" width="16.83" height="16.83" fill="#FFFFFF" stroke="#C9C9D6" stroke-width="0.45"/>
<rect x="899.1" y="829.35" width="16.83" height="16.83" fill="#FFFFFF" stroke="#C9C9D6" stroke-width="0.45"/>
<rect x="915.93" y="829.35" width="16.83" height="16.83" fill="#FFFFFF" stroke="#C9C9D6" stroke-width="0.45"/>
<rect x="932.75" y="829.35" width="16.83" height="16.83" fill="#FFFFFF" stroke="#C9C9D6" stroke-width="0.45"/>
<rect x="949.58" y="829.35" width="16.83" height="16.83" fill="#173068" stroke="#C9C9D6" stroke-width="0.45"/>
<rect x="966.4" y="829.35" width="16.83" height="16.83" fill="#2A62C8" stroke="#C9C9D6" stroke-width="0.45"/>
<rect x="983.23" y="829.35" width="16.83" height="16.83" fill="#4A8EF0" stroke="#C9C9D6" stroke-width="0.45"/>
<rect x="1000.05" y="829.35" width="16.83" height="16.83" fill="#D4E4FB" stroke="#C9C9D6" stroke-width="0.45"/>
<rect x="1016.88" y="829.35" width="16.83" height="16.83" fill="#000066" stroke="#C9C9D6" stroke-width="0.45"/>
<rect x="899.1" y="846.17" width="16.83" height="16.83" fill="#00009A" stroke="#C9C9D6" stroke-width="0.45"/>
<rect x="915.93" y="846.17" width="16.83" height="16.83" fill="#4F93F2" stroke="#C9C9D6" stroke-width="0.45"/>
<rect x="932.75" y="846.17" width="16.83" height="16.83" fill="#1F4E9E" stroke="#C9C9D6" stroke-width="0.45"/>
<rect x="949.58" y="846.17" width="16.83" height="16.83" fill="#4A8EF0" stroke="#C9C9D6" stroke-width="0.45"/>
<rect x="966.4" y="846.17" width="16.83" height="16.83" fill="#FFFFFF" stroke="#C9C9D6" stroke-width="0.45"/>
<rect x="983.23" y="846.17" width="16.83" height="16.83" fill="#FFFFFF" stroke="#C9C9D6" stroke-width="0.45"/>
<rect x="1000.05" y="846.17" width="16.83" height="16.83" fill="#A5C8F8" stroke="#C9C9D6" stroke-width="0.45"/>
<rect x="1016.88" y="846.17" width="16.83" height="16.83" fill="#D4E4FB" stroke="#C9C9D6" stroke-width="0.45"/>
<rect x="899.1" y="728.4" width="134.6" height="134.6" fill="none" stroke="#9A9AA5" stroke-width="0.6"/>
<text class="sans" font-size="13.2" fill="#111" stroke="#111" stroke-width="0.3" x="900.7" y="722.3">v<tspan font-size="12.54" dy="3.96">1</tspan></text>
<text class="sans" font-size="13.2" fill="#111" stroke="#111" stroke-width="0.3" x="882" y="739">v<tspan font-size="12.54" dy="3.96">1</tspan></text>
<text class="sans" font-size="13.2" fill="#111" stroke="#111" stroke-width="0.3" x="917.53" y="722.3">v<tspan font-size="12.54" dy="3.96">2</tspan></text>
<text class="sans" font-size="13.2" fill="#111" stroke="#111" stroke-width="0.3" x="882" y="755.83">v<tspan font-size="12.54" dy="3.96">2</tspan></text>
<text class="sans" font-size="13.2" fill="#111" stroke="#111" stroke-width="0.3" x="934.35" y="722.3">v<tspan font-size="12.54" dy="3.96">3</tspan></text>
<text class="sans" font-size="13.2" fill="#111" stroke="#111" stroke-width="0.3" x="882" y="772.65">v<tspan font-size="12.54" dy="3.96">3</tspan></text>
<text class="sans" font-size="13.2" fill="#111" stroke="#111" stroke-width="0.3" x="951.18" y="722.3">v<tspan font-size="12.54" dy="3.96">4</tspan></text>
<text class="sans" font-size="13.2" fill="#111" stroke="#111" stroke-width="0.3" x="882" y="789.48">v<tspan font-size="12.54" dy="3.96">4</tspan></text>
<text class="sans" font-size="13.2" fill="#111" stroke="#111" stroke-width="0.3" x="968" y="722.3">v<tspan font-size="12.54" dy="3.96">5</tspan></text>
<text class="sans" font-size="13.2" fill="#111" stroke="#111" stroke-width="0.3" x="882" y="806.3">v<tspan font-size="12.54" dy="3.96">5</tspan></text>
<text class="sans" font-size="13.2" fill="#111" stroke="#111" stroke-width="0.3" x="984.83" y="722.3">v<tspan font-size="12.54" dy="3.96">6</tspan></text>
<text class="sans" font-size="13.2" fill="#111" stroke="#111" stroke-width="0.3" x="882" y="823.12">v<tspan font-size="12.54" dy="3.96">6</tspan></text>
<text class="sans" font-size="13.2" fill="#111" stroke="#111" stroke-width="0.3" x="1001.65" y="722.3">v<tspan font-size="12.54" dy="3.96">7</tspan></text>
<text class="sans" font-size="13.2" fill="#111" stroke="#111" stroke-width="0.3" x="882" y="839.95">v<tspan font-size="12.54" dy="3.96">7</tspan></text>
<text class="sans" font-size="13.2" fill="#111" stroke="#111" stroke-width="0.3" x="1018.48" y="722.3">v<tspan font-size="12.54" dy="3.96">8</tspan></text>
<text class="sans" font-size="13.2" fill="#111" stroke="#111" stroke-width="0.3" x="882" y="856.77">v<tspan font-size="12.54" dy="3.96">8</tspan></text>
<text class="serif" font-size="20.75" stroke="#000" stroke-width="0.3" x="1040.1" y="754.9">Layer-wise</text>
<text class="serif" font-size="20.75" stroke="#000" stroke-width="0.3" x="1049.6" y="780">Sampling</text>
<line x1="1033.7" y1="793.1" x2="1130" y2="793.1" stroke="#000" stroke-width="3"/>
<path d="M 1142 793.1 L 1126.4 785.6 L 1129.4 793.1 L 1126.4 800.6 Z" fill="#000"/>
<path d="M 1171.1 766.24 L 1197.77 740.09" fill="none" stroke="#111" stroke-width="1.4" marker-end="url(#mkg)" />
<path d="M 1200.81 741.15 L 1201.59 838.82" fill="none" stroke="#111" stroke-width="1.4" marker-end="url(#mkg)" />
<path d="M 1247.15 740.01 L 1272.66 766.04" fill="none" stroke="#111" stroke-width="1.4" marker-end="url(#mkg)" />
<path d="M 1242.86 740.86 L 1203.2 839.12" fill="none" stroke="#111" stroke-width="1.4" marker-end="url(#mkg)" />
<path d="M 1244.35 839.02 L 1244.35 741.35" fill="none" stroke="#111" stroke-width="1.4" marker-end="url(#mkg)" />
<path d="M 1172.25 769.04 L 1271.4 769.04" fill="none" stroke="#111" stroke-width="1.4" marker-end="url(#mkg)" marker-start="url(#mkg)" />
<path d="M 1275.7 773.04 L 1276.56 806.93" fill="none" stroke="#111" stroke-width="1.4" marker-end="url(#mkg)" />
<path d="M 1168.63 807.13 L 1168.29 773.24" fill="none" stroke="#111" stroke-width="1.4" marker-end="url(#mkg)" />
<path d="M 1172.67 811.13 L 1272.47 811.13" fill="none" stroke="#111" stroke-width="1.4" marker-end="url(#mkg)" marker-start="url(#mkg)" />
<path d="M 1198.75 840.24 L 1171.69 814.05" fill="none" stroke="#111" stroke-width="1.4" marker-end="url(#mkg)" />
<path d="M 1205.31 841.45 L 1272.8 812.77" fill="none" stroke="#111" stroke-width="1.4" marker-end="url(#mkg)" />
<path d="M 1273.82 813.94 L 1247.34 840.07" fill="none" stroke="#111" stroke-width="1.4" marker-end="url(#mkg)" />
<path d="M 1200.71 733.25 C 1199.39 715.81 1181.19 728.55 1196.28 734.95" fill="none" stroke="#0C0C70" stroke-width="1.5" marker-end="url(#mkn)"/>
<path d="M 1248.24 842.75 C 1265.74 842.54 1254.63 861.78 1246.94 847.3" fill="none" stroke="#0C0C70" stroke-width="1.5" marker-end="url(#mkn)"/>
<circle cx="1200.77" cy="737.15" r="3.7" fill="#E8F0FB" stroke="#7C99D1" stroke-width="1.3"/>
<circle cx="1244.35" cy="737.15" r="3.7" fill="#E8F0FB" stroke="#7C99D1" stroke-width="1.3"/>
<circle cx="1275.6" cy="769.04" r="3.7" fill="#E8F0FB" stroke="#7C99D1" stroke-width="1.3"/>
<circle cx="1276.67" cy="811.13" r="3.7" fill="#E8F0FB" stroke="#7C99D1" stroke-width="1.3"/>
<circle cx="1244.35" cy="843.02" r="3.7" fill="#E8F0FB" stroke="#7C99D1" stroke-width="1.3"/>
<circle cx="1201.62" cy="843.02" r="3.7" fill="#E8F0FB" stroke="#7C99D1" stroke-width="1.3"/>
<circle cx="1168.67" cy="811.13" r="3.7" fill="#E8F0FB" stroke="#7C99D1" stroke-width="1.3"/>
<circle cx="1168.25" cy="769.04" r="3.7" fill="#E8F0FB" stroke="#7C99D1" stroke-width="1.3"/>
<text class="sans" font-size="12.6" fill="#111" stroke="#111" stroke-width="0.3" x="1189.93" y="722.91">v<tspan font-size="11.97" dy="3.78">1</tspan></text>
<text class="sans" font-size="12.6" fill="#111" stroke="#111" stroke-width="0.3" x="1236.7" y="722.91">v<tspan font-size="11.97" dy="3.78">2</tspan></text>
<text class="sans" font-size="12.6" fill="#111" stroke="#111" stroke-width="0.3" x="1287.3" y="772.23">v<tspan font-size="11.97" dy="3.78">3</tspan></text>
<text class="sans" font-size="12.6" fill="#111" stroke="#111" stroke-width="0.3" x="1289" y="813.26">v<tspan font-size="11.97" dy="3.78">4</tspan></text>
<text class="sans" font-size="12.6" fill="#111" stroke="#111" stroke-width="0.3" x="1239.46" y="855.77">v<tspan font-size="11.97" dy="3.78">5</tspan></text>
<text class="sans" font-size="12.6" fill="#111" stroke="#111" stroke-width="0.3" x="1196.95" y="858.96">v<tspan font-size="11.97" dy="3.78">6</tspan></text>
<text class="sans" font-size="12.6" fill="#111" stroke="#111" stroke-width="0.3" x="1145.5" y="811.13">v<tspan font-size="11.97" dy="3.78">7</tspan></text>
<text class="sans" font-size="12.6" fill="#111" stroke="#111" stroke-width="0.3" x="1144.86" y="769.68">v<tspan font-size="11.97" dy="3.78">8</tspan></text>
<text class="serif" font-size="20.95" stroke="#000" stroke-width="0.3" x="1093.6" y="880.3">Graph with regular out-degree</text>
<line x1="1303.2" y1="791.8" x2="1356" y2="791.8" stroke="#000" stroke-width="2.6"/>
<path d="M 1368.4 791.8 L 1353.2 784.2 L 1356.2 791.8 L 1353.2 799.4 Z" fill="#000"/></g>
<g><rect x="1372.9" y="663.6" width="305.3" height="234" fill="none" stroke="#5C0F5C" stroke-width="2.3" stroke-dasharray="9 8.6"/>
<text class="serif" font-size="20.8" stroke="#000" stroke-width="0.3" x="1385.4" y="691.5">Spexphormer</text>
<text class="serif" font-size="22.5" stroke="#000" stroke-width="0.3" x="1563.6" y="689.5"><tspan class="serifi">X</tspan><tspan class="dmath" font-size="16.2" dy="-10.35">ℓ</tspan></text>
<path d="M 1571.6 708.7 L 1571.8 692.5" fill="none" stroke="#222" stroke-width="0.9" marker-end="url(#mk)" />
<rect x="1493.4" y="708.7" width="150.6" height="22.1" fill="#E1D5E7" stroke="#9673A6" stroke-width="0.9" rx="2.6"/><text class="serif" font-size="14.9" stroke="#000" stroke-width="0.3" text-anchor="middle" x="1568.7" y="723.5">Feed Forward Network</text>
<path d="M 1572.99 745.51 L 1572.99 731.56" fill="none" stroke="#222" stroke-width="0.9" marker-end="url(#mk)" />
<rect x="1509.4" y="745.5" width="129.6" height="22.1" fill="#F8CECC" stroke="#B85450" stroke-width="0.9" rx="2.6"/><text class="serif" font-size="14.9" stroke="#000" stroke-width="0.3" text-anchor="middle" x="1574.2" y="760.3">Sparse MatMul</text>
<path d="M 1573.84 782.59 L 1573.84 768.47" fill="none" stroke="#222" stroke-width="0.9" marker-end="url(#mk)" />
<rect x="1521.6" y="782.6" width="117.4" height="21.9" fill="#FFF2CC" stroke="#D6B656" stroke-width="0.9" rx="2.6"/><text class="serif" font-size="14.9" stroke="#000" stroke-width="0.3" text-anchor="middle" x="1580.3" y="797.7">Add &amp; SoftMax</text>
<rect x="1476.6" y="818.3" width="80.2" height="22.4" fill="#DAE8FC" stroke="#6C8EBF" stroke-width="0.9" rx="2.6"/><text class="serif" font-size="14.9" stroke="#000" stroke-width="0.3" text-anchor="middle" x="1516.7" y="833.7">Dot Product</text>
<circle cx="1584.05" cy="828.84" r="10.2" fill="none" stroke="#111" stroke-width="1.1"/><circle cx="1584.05" cy="828.84" r="2.1" fill="#111"/>
<path d="M 1429.8 855.54 L 1429.8 756.56 L 1508.37 756.56" fill="none" stroke="#222" stroke-width="0.9" marker-end="url(#mk)" />
<path d="M 1479.97 855.54 L 1479.97 841.77" fill="none" stroke="#222" stroke-width="0.9" marker-end="url(#mk)" />
<path d="M 1546.63 855.54 L 1546.63 845.85 L 1579.46 845.85 L 1579.46 839.56" fill="none" stroke="#222" stroke-width="0.9" marker-end="url(#mk)" />
<path d="M 1588.81 855.54 L 1588.81 839.05" fill="none" stroke="#222" stroke-width="0.9" marker-end="url(#mk)" />
<path d="M 1647.82 855.54 L 1622.82 855.54 L 1622.82 805.2" fill="none" stroke="#222" stroke-width="0.9" marker-end="url(#mk)" />
<path d="M 1573.84 828.84 L 1557.86 828.84" fill="none" stroke="#222" stroke-width="0.9" marker-end="url(#mk)" />
<path d="M 1538.47 818.3 L 1538.47 805.2" fill="none" stroke="#222" stroke-width="0.9" marker-end="url(#mk)" />
<rect x="1404.63" y="855.5" width="50.68" height="22.2" fill="#F5F5F5" stroke="#8C8C8C" stroke-width="0.8" rx="3.6"/><rect x="1406.33" y="857.2" width="47.28" height="18.8" fill="none" stroke="#8C8C8C" stroke-width="0.7" rx="2.4"/><text class="sans" font-size="14.2" fill="#222" stroke="#222" stroke-width="0.3" text-anchor="middle" x="1429.97" y="871.7">V</text>
<rect x="1463.3" y="855.5" width="50.51" height="22.2" fill="#F5F5F5" stroke="#8C8C8C" stroke-width="0.8" rx="3.6"/><rect x="1465" y="857.2" width="47.11" height="18.8" fill="none" stroke="#8C8C8C" stroke-width="0.7" rx="2.4"/><text class="sans" font-size="14.2" fill="#222" stroke="#222" stroke-width="0.3" text-anchor="middle" x="1488.55" y="871.7">Q</text>
<rect x="1521.63" y="855.5" width="50.51" height="22.2" fill="#F5F5F5" stroke="#8C8C8C" stroke-width="0.8" rx="3.6"/><rect x="1523.33" y="857.2" width="47.11" height="18.8" fill="none" stroke="#8C8C8C" stroke-width="0.7" rx="2.4"/><text class="sans" font-size="14.2" fill="#222" stroke="#222" stroke-width="0.3" text-anchor="middle" x="1546.89" y="871.7">K</text>
<rect x="1580.14" y="855.5" width="50.34" height="22.2" fill="#F5F5F5" stroke="#8C8C8C" stroke-width="0.8" rx="3.6"/><rect x="1581.84" y="857.2" width="46.94" height="18.8" fill="none" stroke="#8C8C8C" stroke-width="0.7" rx="2.4"/><text class="sans" font-size="14.2" fill="#222" stroke="#222" stroke-width="0.3" text-anchor="middle" x="1605.31" y="871.7">E</text>
<rect x="1636.26" y="855.5" width="24.66" height="22.2" fill="#F5F5F5" stroke="#8C8C8C" stroke-width="0.8" rx="3.6"/><rect x="1637.96" y="857.2" width="21.26" height="18.8" fill="none" stroke="#8C8C8C" stroke-width="0.7" rx="2.4"/><text class="sans" font-size="14.2" fill="#222" stroke="#222" stroke-width="0.3" text-anchor="middle" x="1648.59" y="871.7">B</text>
<path d="M 1524.52 908.78 L 1524.52 894.66 M 1429.8 894.66 L 1548.67 894.66" fill="none" stroke="#222" stroke-width="0.9"/>
<path d="M 1429.8 894.66 L 1429.8 878.5" fill="none" stroke="#222" stroke-width="0.9" marker-end="url(#mk)" />
<path d="M 1489.32 894.66 L 1489.32 878.5" fill="none" stroke="#222" stroke-width="0.9" marker-end="url(#mk)" />
<path d="M 1548.67 894.66 L 1548.67 878.5" fill="none" stroke="#222" stroke-width="0.9" marker-end="url(#mk)" />
<path d="M 1603.1 907.93 L 1603.1 879.01" fill="none" stroke="#222" stroke-width="0.9" marker-end="url(#mk)" />
<path d="M 1603.1 893.47 L 1646.97 893.47 L 1646.97 879.01" fill="none" stroke="#222" stroke-width="0.9" marker-end="url(#mk)" />
<text class="serif" font-size="22.5" stroke="#000" stroke-width="0.3" x="1510.2" y="931.7"><tspan class="serifi">X</tspan><tspan class="dmath" font-size="15.3" dy="-9">ℓ−1</tspan></text>
<text class="dmath" font-size="22.5" stroke="#000" stroke-width="0.3" x="1596.2" y="931">ℰ</text>
<rect x="1609.5" y="602.7" width="149.3" height="41.6" fill="#F3ECD8" stroke="#5B7BC9" stroke-width="1"/>
<path d="M 1614.9 611.1 l 6.2 3.7 l -6.2 3.7 z" fill="#9A9A9A"/>
<text class="serif" font-size="14.9" stroke="#000" stroke-width="0.3" x="1625.9" y="619.7">Regular degree input</text>
<path d="M 1614.9 628.3 l 6.2 3.7 l -6.2 3.7 z" fill="#9A9A9A"/>
<text class="serif" font-size="14.9" stroke="#000" stroke-width="0.3" x="1625.9" y="636.9">Can handle batching</text>
<path d="M 1528.1 662.82 C 1545.1 641.56 1570.61 628.81 1600.37 624.98" fill="none" stroke="#4A72C4" stroke-width="2.3" stroke-linecap="round"/><path d="M 1608.03 624.13 L 1590.52 634.06 L 1593.65 624.89 L 1589.58 616.09 Z" fill="#4A72C4" stroke="#4A72C4" stroke-width="0.8" stroke-linejoin="round"/></g>
<g><defs><filter id="rough" x="-2%" y="-2%" width="104%" height="104%"><feTurbulence type="fractalNoise" baseFrequency="0.9" numOctaves="2" seed="4" result="n"/><feDisplacementMap in="SourceGraphic" in2="n" scale="2.2" xChannelSelector="R" yChannelSelector="G"/></filter></defs>
<g filter="url(#rough)"><path d="M 888.36 950.87 Q 888.2 946.3 892.74 946.35 Q 897.28 946.4 901.82 946.45 Q 906.35 946.49 910.89 946.51 Q 915.43 946.54 919.97 946.6 Q 924.51 946.65 929.05 946.57 Q 933.59 946.49 938.13 946.56 Q 942.66 946.64 947.2 946.28 Q 951.74 945.92 956.28 946.1 Q 960.82 946.27 965.36 946.46 Q 969.9 946.65 974.44 946.54 Q 978.97 946.42 983.51 946.52 Q 988.05 946.62 992.59 946.31 Q 997.13 945.99 1001.67 946.13 Q 1006.21 946.28 1010.75 946.19 Q 1015.28 946.1 1019.82 946.22 Q 1024.36 946.34 1028.9 946.35 Q 1033.44 946.36 1037.98 946.13 Q 1042.52 945.91 1047.05 945.99 Q 1051.59 946.07 1056.13 946.1 Q 1060.67 946.12 1065.21 946.38 Q 1069.75 946.63 1074.29 946.57 Q 1078.83 946.51 1083.36 946.27 Q 1087.9 946.03 1092.44 946.28 Q 1096.98 946.54 1101.52 946.27 Q 1106.06 946.01 1110.6 946.2 Q 1115.14 946.39 1119.67 946.2 Q 1124.21 946 1128.75 945.95 Q 1133.29 945.9 1137.83 946.25 Q 1142.37 946.6 1146.91 946.33 Q 1151.45 946.07 1155.98 946.07 Q 1160.52 946.07 1165.06 946.38 Q 1169.6 946.69 1174.14 946.64 Q 1178.68 946.6 1183.22 946.36 Q 1187.75 946.13 1192.29 946.4 Q 1196.83 946.67 1201.37 946.5 Q 1205.91 946.33 1210.45 946.39 Q 1214.99 946.44 1219.53 946.25 Q 1224.06 946.06 1228.6 946.36 Q 1233.14 946.65 1237.68 946.55 Q 1242.22 946.45 1246.76 946.56 Q 1251.3 946.67 1255.84 946.64 Q 1260.37 946.61 1264.91 946.38 Q 1269.45 946.14 1273.99 946.16 Q 1278.53 946.19 1283.07 946.11 Q 1287.61 946.03 1292.15 946.02 Q 1296.68 946.02 1301.22 945.98 Q 1305.76 945.95 1310.3 946.05 Q 1314.84 946.14 1319.38 946.26 Q 1323.92 946.38 1328.45 946.14 Q 1332.99 945.9 1337.53 946.17 Q 1342.07 946.44 1346.61 946.31 Q 1351.15 946.17 1355.69 946.16 Q 1360.23 946.15 1364.76 946.35 Q 1369.3 946.55 1373.84 946.42 Q 1378.38 946.28 1382.92 946.22 Q 1387.46 946.15 1392 946.22 Q 1396.54 946.28 1401.07 946.37 Q 1405.61 946.46 1410.15 946.2 Q 1414.69 945.95 1419.23 946.31 Q 1423.77 946.68 1428.31 946.3 Q 1432.85 945.92 1437.38 946.21 Q 1441.92 946.5 1446.46 946.54 Q 1451 946.58 1455.54 946.25 Q 1460.08 945.91 1464.62 946.22 Q 1469.15 946.53 1473.69 946.36 Q 1478.23 946.19 1482.77 946.28 Q 1487.31 946.36 1491.85 946.14 Q 1496.39 945.91 1500.93 945.92 Q 1505.46 945.94 1510 945.99 Q 1514.54 946.04 1519.08 946.35 Q 1523.62 946.66 1528.16 946.36 Q 1532.7 946.06 1537.24 946.28 Q 1541.77 946.5 1546.31 946.57 Q 1550.85 946.64 1555.39 946.65 Q 1559.93 946.65 1564.47 946.41 Q 1569.01 946.18 1573.55 946.18 Q 1578.08 946.18 1582.62 946.25 Q 1587.16 946.32 1591.7 946.42 Q 1596.24 946.52 1600.78 946.25 Q 1605.32 945.99 1609.85 946.24 Q 1614.39 946.5 1618.93 946.52 Q 1623.47 946.54 1628.01 946.56 Q 1632.55 946.59 1637.09 946.26 Q 1641.63 945.93 1646.16 946.29 Q 1650.7 946.66 1655.24 946.31 Q 1659.78 945.97 1664.32 946.07 Q 1668.86 946.17 1673.4 946.28 Q 1677.94 946.39 1682.47 946.51 Q 1687.01 946.63 1691.55 946.4 Q 1696.09 946.17 1700.63 946.41 Q 1705.17 946.64 1709.71 946.49 Q 1714.25 946.34 1718.78 946.24 Q 1723.32 946.15 1727.86 946.22 Q 1732.4 946.3 1732.47 950.87 Q 1732.55 955.45 1732.6 960.02 Q 1732.66 964.6 1732.7 969.17 Q 1732.74 973.75 1732.71 978.32 Q 1732.68 982.89 1732.46 987.47 Q 1732.25 992.04 1732.13 996.62 Q 1732 1001.19 1732.34 1005.77 Q 1732.67 1010.34 1732.72 1014.91 Q 1732.76 1019.49 1732.39 1024.06 Q 1732.01 1028.64 1732.19 1033.21 Q 1732.37 1037.79 1732.42 1042.36 Q 1732.48 1046.93 1732.54 1051.51 Q 1732.61 1056.08 1732.47 1060.66 Q 1732.32 1065.23 1732.23 1069.81 Q 1732.14 1074.38 1732.29 1078.95 Q 1732.44 1083.53 1732.45 1088.1 Q 1732.46 1092.68 1732.61 1097.25 Q 1732.76 1101.83 1732.41 1106.4 Q 1732.07 1110.97 1732.42 1115.55 Q 1732.77 1120.12 1732.59 1124.7 Q 1732.41 1129.27 1732.27 1133.85 Q 1732.13 1138.42 1732.41 1142.99 Q 1732.7 1147.57 1732.46 1152.14 Q 1732.21 1156.72 1732.13 1161.29 Q 1732.04 1165.87 1732.17 1170.44 Q 1732.3 1175.01 1732.23 1179.59 Q 1732.17 1184.16 1732.44 1188.74 Q 1732.71 1193.31 1732.58 1197.89 Q 1732.45 1202.46 1732.57 1207.03 Q 1732.68 1211.61 1732.4 1216.18 Q 1732.12 1220.76 1732.34 1225.33 Q 1732.56 1229.91 1732.5 1234.48 Q 1732.44 1239.05 1732.22 1243.63 Q 1732 1248.2 1732.06 1252.78 Q 1732.12 1257.35 1732.26 1261.93 Q 1732.4 1266.5 1727.86 1266.31 Q 1723.32 1266.12 1718.78 1266.33 Q 1714.25 1266.54 1709.71 1266.52 Q 1705.17 1266.51 1700.63 1266.41 Q 1696.09 1266.32 1691.55 1266.42 Q 1687.01 1266.52 1682.47 1266.59 Q 1677.94 1266.67 1673.4 1266.62 Q 1668.86 1266.58 1664.32 1266.68 Q 1659.78 1266.78 1655.24 1266.69 Q 1650.7 1266.6 1646.16 1266.35 Q 1641.63 1266.11 1637.09 1266.12 Q 1632.55 1266.13 1628.01 1266.27 Q 1623.47 1266.4 1618.93 1266.45 Q 1614.39 1266.5 1609.85 1266.56 Q 1605.32 1266.63 1600.78 1266.73 Q 1596.24 1266.83 1591.7 1266.76 Q 1587.16 1266.68 1582.62 1266.48 Q 1578.08 1266.27 1573.55 1266.24 Q 1569.01 1266.21 1564.47 1266.41 Q 1559.93 1266.61 1555.39 1266.44 Q 1550.85 1266.27 1546.31 1266.28 Q 1541.77 1266.28 1537.24 1266.31 Q 1532.7 1266.34 1528.16 1266.36 Q 1523.62 1266.37 1519.08 1266.33 Q 1514.54 1266.29 1510 1266.45 Q 1505.46 1266.61 1500.93 1266.47 Q 1496.39 1266.34 1491.85 1266.51 Q 1487.31 1266.68 1482.77 1266.59 Q 1478.23 1266.51 1473.69 1266.4 Q 1469.15 1266.28 1464.62 1266.32 Q 1460.08 1266.35 1455.54 1266.51 Q 1451 1266.66 1446.46 1266.4 Q 1441.92 1266.14 1437.38 1266.26 Q 1432.85 1266.38 1428.31 1266.41 Q 1423.77 1266.44 1419.23 1266.66 Q 1414.69 1266.89 1410.15 1266.68 Q 1405.61 1266.46 1401.07 1266.58 Q 1396.54 1266.7 1392 1266.53 Q 1387.46 1266.36 1382.92 1266.45 Q 1378.38 1266.53 1373.84 1266.39 Q 1369.3 1266.25 1364.76 1266.31 Q 1360.23 1266.38 1355.69 1266.32 Q 1351.15 1266.26 1346.61 1266.44 Q 1342.07 1266.62 1337.53 1266.5 Q 1332.99 1266.38 1328.45 1266.35 Q 1323.92 1266.31 1319.38 1266.27 Q 1314.84 1266.24 1310.3 1266.43 Q 1305.76 1266.62 1301.22 1266.42 Q 1296.68 1266.23 1292.15 1266.21 Q 1287.61 1266.2 1283.07 1266.28 Q 1278.53 1266.35 1273.99 1266.23 Q 1269.45 1266.12 1264.91 1266.13 Q 1260.37 1266.13 1255.84 1266.31 Q 1251.3 1266.49 1246.76 1266.48 Q 1242.22 1266.48 1237.68 1266.62 Q 1233.14 1266.77 1228.6 1266.5 Q 1224.06 1266.23 1219.53 1266.19 Q 1214.99 1266.15 1210.45 1266.33 Q 1205.91 1266.52 1201.37 1266.43 Q 1196.83 1266.35 1192.29 1266.34 Q 1187.75 1266.32 1183.22 1266.32 Q 1178.68 1266.32 1174.14 1266.54 Q 1169.6 1266.76 1165.06 1266.52 Q 1160.52 1266.28 1155.98 1266.36 Q 1151.45 1266.44 1146.91 1266.4 Q 1142.37 1266.37 1137.83 1266.47 Q 1133.29 1266.56 1128.75 1266.48 Q 1124.21 1266.4 1119.67 1266.34 Q 1115.14 1266.28 1110.6 1266.34 Q 1106.06 1266.39 1101.52 1266.36 Q 1096.98 1266.32 1092.44 1266.6 Q 1087.9 1266.88 1083.36 1266.82 Q 1078.83 1266.77 1074.29 1266.66 Q 1069.75 1266.55 1065.21 1266.46 Q 1060.67 1266.38 1056.13 1266.55 Q 1051.59 1266.72 1047.05 1266.54 Q 1042.52 1266.35 1037.98 1266.37 Q 1033.44 1266.4 1028.9 1266.63 Q 1024.36 1266.87 1019.82 1266.69 Q 1015.28 1266.52 1010.75 1266.62 Q 1006.21 1266.72 1001.67 1266.79 Q 997.13 1266.86 992.59 1266.82 Q 988.05 1266.79 983.51 1266.72 Q 978.97 1266.65 974.44 1266.7 Q 969.9 1266.75 965.36 1266.75 Q 960.82 1266.75 956.28 1266.81 Q 951.74 1266.87 947.2 1266.7 Q 942.66 1266.53 938.13 1266.56 Q 933.59 1266.6 929.05 1266.5 Q 924.51 1266.41 919.97 1266.42 Q 915.43 1266.43 910.89 1266.57 Q 906.35 1266.71 901.82 1266.44 Q 897.28 1266.18 892.74 1266.34 Q 888.2 1266.5 888 1261.93 Q 887.8 1257.35 887.96 1252.78 Q 888.12 1248.2 888.07 1243.63 Q 888.02 1239.05 888.08 1234.48 Q 888.13 1229.91 888.01 1225.33 Q 887.89 1220.76 888.18 1216.18 Q 888.47 1211.61 888.28 1207.03 Q 888.1 1202.46 887.96 1197.89 Q 887.83 1193.31 888.06 1188.74 Q 888.29 1184.16 888.08 1179.59 Q 887.88 1175.01 888.06 1170.44 Q 888.24 1165.87 888.15 1161.29 Q 888.07 1156.72 888.17 1152.14 Q 888.26 1147.57 888.42 1142.99 Q 888.57 1138.42 888.51 1133.85 Q 888.45 1129.27 888.3 1124.7 Q 888.14 1120.12 888.29 1115.55 Q 888.45 1110.97 888.38 1106.4 Q 888.31 1101.83 888.2 1097.25 Q 888.1 1092.68 888 1088.1 Q 887.91 1083.53 888.1 1078.95 Q 888.28 1074.38 888.26 1069.81 Q 888.25 1065.23 888.41 1060.66 Q 888.57 1056.08 888.57 1051.51 Q 888.57 1046.93 888.43 1042.36 Q 888.29 1037.79 888.18 1033.21 Q 888.08 1028.64 888.3 1024.06 Q 888.51 1019.49 888.16 1014.91 Q 887.8 1010.34 887.84 1005.77 Q 887.89 1001.19 888.07 996.62 Q 888.25 992.04 888.27 987.47 Q 888.29 982.89 888.1 978.32 Q 887.91 973.75 888.11 969.17 Q 888.3 964.6 888.41 960.02 Q 888.51 955.45 888.36 950.87 Z" fill="none" stroke="#050505" stroke-width="4.1" stroke-linejoin="round"/><circle cx="888.2" cy="946.3" r="2.54" fill="#050505"/><circle cx="1732.4" cy="946.3" r="2.54" fill="#050505"/><circle cx="1732.4" cy="1266.5" r="2.54" fill="#050505"/><circle cx="888.2" cy="1266.5" r="2.54" fill="#050505"/></g>
<text class="serif" font-size="28.9" fill="#39485A" stroke="#39485A" stroke-width="0.3" x="921.3" y="977.7">Recipe for Spexphormer:</text>
<text class="serif" font-size="28.9" fill="#39485A" stroke="#39485A" stroke-width="0.3" x="935.6" y="1017.6">1.</text>
<text class="serif" font-size="28.9" fill="#39485A" stroke="#39485A" stroke-width="0.3" x="966.4" y="1017.6">Train an ASE model with a minimal hidden dimension (4 or 8)</text>
<text class="serif" font-size="28.9" fill="#39485A" stroke="#39485A" stroke-width="0.3" x="935.6" y="1056.8">2.</text>
<text class="serif" font-size="28.9" fill="#39485A" stroke="#39485A" stroke-width="0.3" x="966.4" y="1056.8">Save the attention scores</text>
<text class="serif" font-size="28.9" fill="#39485A" stroke="#39485A" stroke-width="0.3" x="935.6" y="1096.3">3.</text>
<text class="serif" font-size="28.9" fill="#39485A" stroke="#39485A" stroke-width="0.3" x="966.4" y="1096.3">Sample a fixed number of neighbors per node using the saved</text>
<text class="serif" font-size="28.9" fill="#39485A" stroke="#39485A" stroke-width="0.3" x="966.4" y="1135.9">attention scores (quickly, with reservoir sampling)</text>
<text class="serif" font-size="28.9" fill="#39485A" stroke="#39485A" stroke-width="0.3" x="935.6" y="1175">4.</text>
<text class="serif" font-size="28.9" fill="#39485A" stroke="#39485A" stroke-width="0.3" x="966.4" y="1175">Use the sampled, regularized graph to train Spexphormer</text>
<text class="serif" font-size="28.9" fill="#39485A" stroke="#39485A" stroke-width="0.3" x="935.6" y="1214.2">5.</text>
<text class="serif" font-size="28.9" fill="#39485A" stroke="#39485A" stroke-width="0.3" x="966.4" y="1214.2">If the graph is still too large, efficiently batch the data</text>
<text class="serif" font-size="28.9" fill="#39485A" stroke="#39485A" stroke-width="0.3" x="935.6" y="1253.7">6.</text>
<text class="serif" font-size="28.9" fill="#39485A" stroke="#39485A" stroke-width="0.3" x="966.4" y="1253.7">Enjoy your Spexphormer!</text></g>
<g><rect x="896.3" y="1297.4" width="199.9" height="98.9" fill="#6C7B8E" rx="19"/><text class="serif" font-size="20" fill="#3E4A5A" stroke="#3E4A5A" stroke-width="0.6" text-anchor="middle" x="996.75" y="1353.75" opacity="0.45">Reservoir Sampling</text><text class="serif" font-size="20" fill="#fff" stroke="#fff" stroke-width="0.55" text-anchor="middle" x="996.25" y="1353.05">Reservoir Sampling</text>
<rect x="896.3" y="1439.2" width="199.9" height="98.9" fill="#6C7B8E" rx="19"/><text class="serif" font-size="20" fill="#3E4A5A" stroke="#3E4A5A" stroke-width="0.6" text-anchor="middle" x="996.75" y="1495.55" opacity="0.45">Batching Technique</text><text class="serif" font-size="20" fill="#fff" stroke="#fff" stroke-width="0.55" text-anchor="middle" x="996.25" y="1494.85">Batching Technique</text>
<rect x="896.3" y="1581.4" width="199.9" height="99" fill="#6C7B8E" rx="19"/><text class="serif" font-size="20" fill="#3E4A5A" stroke="#3E4A5A" stroke-width="0.6" text-anchor="middle" x="996.75" y="1637.8" opacity="0.45">Memory/Time Tradeoff</text><text class="serif" font-size="20" fill="#fff" stroke="#fff" stroke-width="0.55" text-anchor="middle" x="996.25" y="1637.1">Memory/Time Tradeoff</text>
<rect x="1528.9" y="1297.4" width="199.9" height="98.9" fill="#6C7B8E" rx="19"/><text class="serif" font-size="20" fill="#3E4A5A" stroke="#3E4A5A" stroke-width="0.6" text-anchor="middle" x="1629.35" y="1353.75" opacity="0.45">Normalized V Vectors</text><text class="serif" font-size="20" fill="#fff" stroke="#fff" stroke-width="0.55" text-anchor="middle" x="1628.85" y="1353.05">Normalized V Vectors</text>
<rect x="1528.9" y="1439.2" width="199.9" height="98.9" fill="#6C7B8E" rx="19"/><text class="serif" font-size="20" fill="#3E4A5A" stroke="#3E4A5A" stroke-width="0.6" text-anchor="middle" x="1629.35" y="1483.35" opacity="0.45">Temperature</text><text class="serif" font-size="20" fill="#fff" stroke="#fff" stroke-width="0.55" text-anchor="middle" x="1628.85" y="1482.65">Temperature</text><text class="serif" font-size="20" fill="#3E4A5A" stroke="#3E4A5A" stroke-width="0.6" text-anchor="middle" x="1629.35" y="1507.75" opacity="0.45">Mechanism</text><text class="serif" font-size="20" fill="#fff" stroke="#fff" stroke-width="0.55" text-anchor="middle" x="1628.85" y="1507.05">Mechanism</text>
<rect x="1528.9" y="1581.4" width="199.9" height="99" fill="#6C7B8E" rx="19"/><text class="serif" font-size="20" fill="#3E4A5A" stroke="#3E4A5A" stroke-width="0.6" text-anchor="middle" x="1629.35" y="1625.6" opacity="0.45">More Meaningful</text><text class="serif" font-size="20" fill="#fff" stroke="#fff" stroke-width="0.55" text-anchor="middle" x="1628.85" y="1624.9">More Meaningful</text><text class="serif" font-size="20" fill="#3E4A5A" stroke="#3E4A5A" stroke-width="0.6" text-anchor="middle" x="1629.35" y="1650" opacity="0.45">Attention Scores</text><text class="serif" font-size="20" fill="#fff" stroke="#fff" stroke-width="0.55" text-anchor="middle" x="1628.85" y="1649.3">Attention Scores</text>
<rect x="1223.7" y="1288.1" width="199.5" height="99.7" fill="#6C7B8E" rx="19"/><text class="serif" font-size="20" fill="#3E4A5A" stroke="#3E4A5A" stroke-width="0.6" text-anchor="middle" x="1323.95" y="1333.85" opacity="0.45">Regular Degree Graph</text><text class="serif" font-size="20" fill="#fff" stroke="#fff" stroke-width="0.55" text-anchor="middle" x="1323.45" y="1333.15">Regular Degree Graph</text><text class="serif" font-size="20" fill="#3E4A5A" stroke="#3E4A5A" stroke-width="0.6" text-anchor="middle" x="1323.95" y="1358.25" opacity="0.45">Transformer</text><text class="serif" font-size="20" fill="#fff" stroke="#fff" stroke-width="0.55" text-anchor="middle" x="1323.45" y="1357.55">Transformer</text>
<rect x="1160.6" y="1415.2" width="119.9" height="49.2" fill="#678B45" stroke="#5E7FB8" stroke-width="1" rx="17"/><text class="serif" font-size="15" fill="#3E4A5A" stroke="#3E4A5A" stroke-width="0.6" text-anchor="middle" x="1221.05" y="1445.15" opacity="0.45">Faster</text><text class="serif" font-size="15" fill="#fff" stroke="#fff" stroke-width="0.55" text-anchor="middle" x="1220.55" y="1444.45">Faster</text>
<rect x="1369.8" y="1414.4" width="119.9" height="49.2" fill="#678B45" stroke="#5E7FB8" stroke-width="1" rx="17"/><text class="serif" font-size="15" fill="#3E4A5A" stroke="#3E4A5A" stroke-width="0.6" text-anchor="middle" x="1430.25" y="1444.35" opacity="0.45">Memory Efficient</text><text class="serif" font-size="15" fill="#fff" stroke="#fff" stroke-width="0.55" text-anchor="middle" x="1429.75" y="1443.65">Memory Efficient</text>
<line x1="996.4" y1="1399.2" x2="996.4" y2="1427.4" stroke="#4472C4" stroke-width="1.5"/>
<path d="M 996.4 1436.4 l -6.6 -12.6 l 13.2 0 z" fill="#4472C4"/>
<line x1="996.4" y1="1541.2" x2="996.4" y2="1569.6" stroke="#4472C4" stroke-width="1.5"/>
<path d="M 996.4 1578.6 l -6.6 -12.6 l 13.2 0 z" fill="#4472C4"/>
<line x1="1627.4" y1="1399.2" x2="1627.4" y2="1427.4" stroke="#4472C4" stroke-width="1.5"/>
<path d="M 1627.4 1436.4 l -6.6 -12.6 l 13.2 0 z" fill="#4472C4"/>
<line x1="1627.4" y1="1541.2" x2="1627.4" y2="1569.6" stroke="#4472C4" stroke-width="1.5"/>
<path d="M 1627.4 1578.6 l -6.6 -12.6 l 13.2 0 z" fill="#4472C4"/>
<line x1="1245.6" y1="1391.2" x2="1231.3" y2="1405.57" stroke="#4472C4" stroke-width="1.4"/><path d="M 1224.6 1412.3 L 1228.04 1402.32 L 1234.56 1408.81 Z" fill="#4472C4"/>
<line x1="1399.2" y1="1391.2" x2="1413.58" y2="1405.58" stroke="#4472C4" stroke-width="1.4"/><path d="M 1420.3 1412.3 L 1410.33 1408.84 L 1416.84 1402.33 Z" fill="#4472C4"/>
<g><path d="M1371.04 1647.93L1361.3 1659.54M1371.04 1647.93L1374.95 1632.19M1371.04 1647.93L1385.46 1655.75M1371.04 1647.93L1386.4 1640.85M1315.34 1526.12L1314.07 1511.81M1315.34 1526.12L1301.68 1532.47M1315.34 1526.12L1330.3 1530.73M1315.34 1526.12L1297.44 1513.58M1325.05 1633.25L1313.05 1625.07M1325.05 1633.25L1342.02 1623.08M1325.05 1633.25L1330.27 1614.02M1279.72 1672.61L1280.94 1657.86M1279.72 1672.61L1261.44 1665.11M1279.72 1672.61L1297.39 1656.43M1279.72 1672.61L1267.58 1651.13M1304.5 1668.87L1302.56 1682.23M1304.5 1668.87L1297.39 1656.43M1304.5 1668.87L1315.98 1655.56M1304.5 1668.87L1326.09 1678.1M1367.18 1509.51L1379.19 1515.74M1367.18 1509.51L1366.23 1494.72M1367.18 1509.51L1380.68 1502.19M1367.18 1509.51L1352.06 1517.4M1314.07 1511.81L1321.45 1498.58M1314.07 1511.81L1306.89 1497.32M1314.07 1511.81L1297.44 1513.58M1313.81 1587.42L1324.86 1595.36M1313.81 1587.42L1315.78 1572.07M1313.81 1587.42L1327.88 1580.76M1313.81 1587.42L1300.54 1598.88M1407.47 1619.07L1417.55 1608.57M1407.47 1619.07L1402.34 1604.02M1407.47 1619.07L1401.3 1634.76M1407.47 1619.07L1390.56 1623.91M1335.9 1506.12L1321.45 1498.58M1335.9 1506.12L1352.06 1517.4M1335.9 1506.12L1350.44 1492.32M1335.9 1506.12L1330.16 1486.77M1298.68 1627.77L1313.05 1625.07M1298.68 1627.77L1290.21 1611.18M1298.68 1627.77L1312.84 1609.83M1237.73 1616.01L1224.22 1613.45M1237.73 1616.01L1246.18 1604.71M1237.73 1616.01L1232.12 1602.34M1237.73 1616.01L1248.05 1627.84M1326.09 1678.1L1336.18 1664.92M1326.09 1678.1L1344.69 1679.73M1326.09 1678.1L1302.56 1682.23M1401.3 1634.76L1397.99 1648.81M1401.3 1634.76L1390.56 1623.91M1401.3 1634.76L1386.4 1640.85M1239.05 1638.06L1248.05 1627.84M1239.05 1638.06L1251.76 1644.6M1239.05 1638.06L1237.73 1616.01M1239.05 1638.06L1265.11 1633.96M1297.39 1656.43L1280.94 1657.86M1297.39 1656.43L1315.98 1655.56M1297.39 1656.43L1279.63 1642.1M1330.27 1614.02L1342.02 1623.08M1330.27 1614.02L1312.84 1609.83M1330.27 1614.02L1338.81 1597.6M1330.27 1614.02L1324.86 1595.36M1251.76 1644.6L1265.11 1633.96M1251.76 1644.6L1267.58 1651.13M1251.76 1644.6L1248.05 1627.84M1315.78 1572.07L1327.88 1580.76M1315.78 1572.07L1322.82 1557.4M1315.78 1572.07L1324.86 1595.36M1267.58 1651.13L1280.94 1657.86M1267.58 1651.13L1279.63 1642.1M1267.58 1651.13L1261.44 1665.11M1390.56 1623.91L1389.7 1608.8M1390.56 1623.91L1386.4 1640.85M1353.12 1615.28L1342.02 1623.08M1353.12 1615.28L1370.91 1609.53M1353.12 1615.28L1338.81 1597.6M1353.12 1615.28L1330.27 1614.02M1286.61 1500.73L1272.09 1497.77M1286.61 1500.73L1294.29 1487.75M1286.61 1500.73L1282.6 1515.9M1286.61 1500.73L1297.44 1513.58M1385.46 1655.75L1397.99 1648.81M1385.46 1655.75L1375.8 1666.8M1385.46 1655.75L1386.4 1640.85M1352.06 1517.4L1343.69 1528.15M1352.06 1517.4L1350.44 1492.32M1232.12 1602.34L1224.22 1613.45M1232.12 1602.34L1246.18 1604.71M1232.12 1602.34L1222.75 1589.11M1374.95 1632.19L1386.4 1640.85M1374.95 1632.19L1390.56 1623.91M1271.9 1611.58L1259.98 1621.23M1271.9 1611.58L1290.21 1611.18M1271.9 1611.58L1246.18 1604.71M1324.86 1595.36L1338.81 1597.6M1324.86 1595.36L1327.88 1580.76M1324.86 1595.36L1312.84 1609.83M1402.34 1604.02L1389.7 1608.8M1402.34 1604.02L1413.96 1593.62M1402.34 1604.02L1417.55 1608.57M1350.44 1492.32L1366.23 1494.72M1350.44 1492.32L1330.16 1486.77M1350.44 1492.32L1367.18 1509.51M1259.26 1502.9L1272.09 1497.77M1259.26 1502.9L1267.59 1520.74M1259.26 1502.9L1245.21 1520.65M1259.26 1502.9L1282.6 1515.9M1297.44 1513.58L1282.6 1515.9M1297.44 1513.58L1306.89 1497.32M1375.8 1666.8L1361.3 1659.54M1375.8 1666.8L1358.29 1673.88M1375.8 1666.8L1371.04 1647.93M1302.56 1682.23L1279.72 1672.61M1302.56 1682.23L1297.39 1656.43M1315.98 1655.56L1336.18 1664.92M1300.54 1598.88L1290.21 1611.18M1300.54 1598.88L1312.84 1609.83M1300.54 1598.88L1324.86 1595.36M1330.3 1530.73L1343.69 1528.15M1330.3 1530.73L1314.07 1511.81M1330.3 1530.73L1335.9 1506.12M1301.68 1532.47L1297.44 1513.58M1301.68 1532.47L1314.07 1511.81M1301.68 1532.47L1282.6 1515.9M1419.43 1577.69L1413.96 1593.62M1336.18 1664.92L1344.69 1679.73M1336.18 1664.92L1351.07 1649.59M1379.19 1515.74L1380.68 1502.19M1379.19 1515.74L1397.45 1520.67M1379.19 1515.74L1366.23 1494.72M1389.7 1608.8L1370.91 1609.53M1389.7 1608.8L1407.47 1619.07M1358.29 1673.88L1361.3 1659.54M1358.29 1673.88L1344.69 1679.73M1358.29 1673.88L1336.18 1664.92M1351.07 1649.59L1361.3 1659.54M1351.07 1649.59L1371.04 1647.93M1351.07 1649.59L1358.29 1673.88M1306.89 1497.32L1321.45 1498.58M1306.89 1497.32L1294.29 1487.75M1306.89 1497.32L1316.77 1483.35M1397.45 1520.67L1409.08 1534.62M1397.45 1520.67L1380.68 1502.19M1279.63 1642.1L1280.94 1657.86M1279.63 1642.1L1265.11 1633.96M1290.21 1611.18L1312.84 1609.83M1245.21 1520.65L1234.04 1534.08M1245.21 1520.65L1267.59 1520.74M1316.77 1483.35L1330.16 1486.77M1316.77 1483.35L1321.45 1498.58M1316.77 1483.35L1294.29 1487.75M1342.02 1623.08L1338.81 1597.6M1370.91 1609.53L1390.56 1623.91M1322.82 1557.4L1327.88 1580.76M1267.59 1520.74L1282.6 1515.9M1267.59 1520.74L1272.09 1497.77M1259.98 1621.23L1248.05 1627.84M1259.98 1621.23L1265.11 1633.96M1259.98 1621.23L1246.18 1604.71M1330.16 1486.77L1321.45 1498.58M1413.96 1593.62L1417.55 1608.57M1413.96 1593.62L1407.47 1619.07M1312.84 1609.83L1313.05 1625.07M1282.6 1515.9L1272.09 1497.77M1294.29 1487.75L1272.09 1497.77M1344.69 1679.73L1361.3 1659.54M1313.05 1625.07L1330.27 1614.02M1261.44 1665.11L1280.94 1657.86M1261.44 1665.11L1251.76 1644.6M1265.11 1633.96L1267.58 1651.13M1338.81 1597.6L1327.88 1580.76M1417.55 1608.57L1389.7 1608.8M1386.4 1640.85L1397.99 1648.81M1222.75 1589.11L1221.06 1572.99M1222.75 1589.11L1224.22 1613.45M1222.75 1589.11L1246.18 1604.71M1366.23 1494.72L1380.68 1502.19M1246.18 1604.71L1248.05 1627.84M1397.99 1648.81L1390.56 1623.91M1343.69 1528.15L1335.9 1506.12M1343.69 1528.15L1315.34 1526.12M1224.22 1613.45L1246.18 1604.71" fill="none" stroke="#000" stroke-width="0.95"/>
<circle cx="1371.04" cy="1647.93" r="3.8" fill="#000"/><circle cx="1315.34" cy="1526.12" r="3.8" fill="#000"/><circle cx="1325.05" cy="1633.25" r="3.8" fill="#000"/><circle cx="1279.72" cy="1672.61" r="2.1" fill="#000"/><circle cx="1304.5" cy="1668.87" r="2.1" fill="#000"/><circle cx="1367.18" cy="1509.51" r="2.1" fill="#000"/><circle cx="1314.07" cy="1511.81" r="1.7" fill="#000"/><circle cx="1313.81" cy="1587.42" r="3.3" fill="#000"/><circle cx="1407.47" cy="1619.07" r="3.8" fill="#000"/><circle cx="1335.9" cy="1506.12" r="1.7" fill="#000"/><circle cx="1298.68" cy="1627.77" r="3.8" fill="#000"/><circle cx="1237.73" cy="1616.01" r="1.7" fill="#000"/><circle cx="1326.09" cy="1678.1" r="3.8" fill="#000"/><circle cx="1401.3" cy="1634.76" r="2.9" fill="#000"/><circle cx="1239.05" cy="1638.06" r="1.7" fill="#000"/><circle cx="1297.39" cy="1656.43" r="3.8" fill="#000"/><circle cx="1330.27" cy="1614.02" r="2.5" fill="#000"/><circle cx="1251.76" cy="1644.6" r="2.9" fill="#000"/><circle cx="1315.78" cy="1572.07" r="2.5" fill="#000"/><circle cx="1267.58" cy="1651.13" r="3.8" fill="#000"/><circle cx="1390.56" cy="1623.91" r="3.8" fill="#000"/><circle cx="1353.12" cy="1615.28" r="3.3" fill="#000"/><circle cx="1286.61" cy="1500.73" r="3.3" fill="#000"/><circle cx="1385.46" cy="1655.75" r="3.3" fill="#000"/><circle cx="1352.06" cy="1517.4" r="2.5" fill="#000"/><circle cx="1232.12" cy="1602.34" r="1.7" fill="#000"/><circle cx="1374.95" cy="1632.19" r="3.8" fill="#000"/><circle cx="1271.9" cy="1611.58" r="1.7" fill="#000"/><circle cx="1324.86" cy="1595.36" r="3.3" fill="#000"/><circle cx="1402.34" cy="1604.02" r="1.7" fill="#000"/><circle cx="1350.44" cy="1492.32" r="2.5" fill="#000"/><circle cx="1259.26" cy="1502.9" r="3.3" fill="#000"/><circle cx="1297.44" cy="1513.58" r="2.9" fill="#000"/><circle cx="1375.8" cy="1666.8" r="3.8" fill="#000"/><circle cx="1302.56" cy="1682.23" r="1.7" fill="#000"/><circle cx="1315.98" cy="1655.56" r="2.1" fill="#000"/><circle cx="1300.54" cy="1598.88" r="2.5" fill="#000"/><circle cx="1330.3" cy="1530.73" r="2.5" fill="#000"/><circle cx="1301.68" cy="1532.47" r="2.9" fill="#000"/><circle cx="1419.43" cy="1577.69" r="3.8" fill="#000"/><circle cx="1336.18" cy="1664.92" r="2.1" fill="#000"/><circle cx="1379.19" cy="1515.74" r="2.9" fill="#000"/><circle cx="1389.7" cy="1608.8" r="3.3" fill="#000"/><circle cx="1358.29" cy="1673.88" r="1.7" fill="#000"/><circle cx="1351.07" cy="1649.59" r="1.7" fill="#000"/><circle cx="1306.89" cy="1497.32" r="2.1" fill="#000"/><circle cx="1397.45" cy="1520.67" r="3.3" fill="#000"/><circle cx="1279.63" cy="1642.1" r="2.9" fill="#000"/><circle cx="1290.21" cy="1611.18" r="1.7" fill="#000"/><circle cx="1245.21" cy="1520.65" r="2.1" fill="#000"/><circle cx="1316.77" cy="1483.35" r="1.7" fill="#000"/><circle cx="1342.02" cy="1623.08" r="2.5" fill="#000"/><circle cx="1370.91" cy="1609.53" r="1.7" fill="#000"/><circle cx="1322.82" cy="1557.4" r="2.9" fill="#000"/><circle cx="1267.59" cy="1520.74" r="2.1" fill="#000"/><circle cx="1259.98" cy="1621.23" r="3.8" fill="#000"/><circle cx="1330.16" cy="1486.77" r="2.9" fill="#000"/><circle cx="1413.96" cy="1593.62" r="2.1" fill="#000"/><circle cx="1312.84" cy="1609.83" r="3.3" fill="#000"/><circle cx="1282.6" cy="1515.9" r="2.9" fill="#000"/><circle cx="1294.29" cy="1487.75" r="3.8" fill="#000"/><circle cx="1344.69" cy="1679.73" r="2.5" fill="#000"/><circle cx="1313.05" cy="1625.07" r="2.1" fill="#000"/><circle cx="1261.44" cy="1665.11" r="2.1" fill="#000"/><circle cx="1265.11" cy="1633.96" r="1.7" fill="#000"/><circle cx="1338.81" cy="1597.6" r="2.1" fill="#000"/><circle cx="1272.09" cy="1497.77" r="1.7" fill="#000"/><circle cx="1417.55" cy="1608.57" r="2.1" fill="#000"/><circle cx="1386.4" cy="1640.85" r="1.7" fill="#000"/><circle cx="1222.75" cy="1589.11" r="1.7" fill="#000"/><circle cx="1248.05" cy="1627.84" r="3.3" fill="#000"/><circle cx="1409.08" cy="1534.62" r="2.1" fill="#000"/><circle cx="1366.23" cy="1494.72" r="3.8" fill="#000"/><circle cx="1246.18" cy="1604.71" r="3.8" fill="#000"/><circle cx="1280.94" cy="1657.86" r="3.8" fill="#000"/><circle cx="1321.45" cy="1498.58" r="2.9" fill="#000"/><circle cx="1221.06" cy="1572.99" r="3.8" fill="#000"/><circle cx="1361.3" cy="1659.54" r="3.8" fill="#000"/><circle cx="1327.88" cy="1580.76" r="2.5" fill="#000"/><circle cx="1397.99" cy="1648.81" r="2.9" fill="#000"/><circle cx="1234.04" cy="1534.08" r="3.3" fill="#000"/><circle cx="1343.69" cy="1528.15" r="3.8" fill="#000"/><circle cx="1380.68" cy="1502.19" r="3.8" fill="#000"/><circle cx="1224.22" cy="1613.45" r="3.3" fill="#000"/><circle cx="1425.09" cy="1586.47" r="3" fill="#000"/><circle cx="1426.23" cy="1596.59" r="1.9" fill="#000"/><circle cx="1424.6" cy="1606.55" r="1.9" fill="#000"/><circle cx="1421.01" cy="1615.99" r="1.9" fill="#000"/><circle cx="1417.34" cy="1625.3" r="1.2" fill="#000"/><circle cx="1414.16" cy="1634.95" r="1.2" fill="#000"/><circle cx="1407.5" cy="1642.64" r="3" fill="#000"/><circle cx="1401.02" cy="1650.21" r="1.9" fill="#000"/><circle cx="1394.36" cy="1657.57" r="2.5" fill="#000"/><circle cx="1387.99" cy="1665.43" r="2.5" fill="#000"/><circle cx="1379.99" cy="1671.55" r="1.9" fill="#000"/><circle cx="1370.7" cy="1675.56" r="2.5" fill="#000"/><circle cx="1361.57" cy="1679.49" r="1.5" fill="#000"/><circle cx="1352.79" cy="1684.61" r="1.2" fill="#000"/><circle cx="1342.82" cy="1686.14" r="3" fill="#000"/><circle cx="1333.03" cy="1688.32" r="1.2" fill="#000"/><circle cx="1323.02" cy="1689.57" r="3" fill="#000"/><circle cx="1312.97" cy="1688.74" r="3" fill="#000"/><circle cx="1303.23" cy="1686.17" r="2.5" fill="#000"/><circle cx="1293.27" cy="1685.06" r="3" fill="#000"/><circle cx="1283.9" cy="1681.54" r="1.5" fill="#000"/><circle cx="1274.76" cy="1677.55" r="1.9" fill="#000"/><circle cx="1266.21" cy="1672.44" r="3" fill="#000"/><circle cx="1257.03" cy="1668.12" r="1.9" fill="#000"/><circle cx="1249.24" cy="1661.69" r="1.2" fill="#000"/><circle cx="1242.17" cy="1654.48" r="1.5" fill="#000"/><circle cx="1237.28" cy="1645.55" r="1.9" fill="#000"/><circle cx="1231.75" cy="1637.32" r="2.5" fill="#000"/><circle cx="1227.09" cy="1628.57" r="1.5" fill="#000"/><circle cx="1222.61" cy="1619.66" r="1.9" fill="#000"/><circle cx="1219.24" cy="1610.25" r="1.2" fill="#000"/><circle cx="1217.94" cy="1600.33" r="2.5" fill="#000"/><circle cx="1214.7" cy="1590.59" r="2.5" fill="#000"/><circle cx="1216.48" cy="1580.51" r="1.2" fill="#000"/><circle cx="1215.23" cy="1570.34" r="2.5" fill="#000"/><circle cx="1219.31" cy="1560.87" r="1.2" fill="#000"/><circle cx="1229.17" cy="1532.79" r="1.2" fill="#000"/><circle cx="1234.87" cy="1524.61" r="1.9" fill="#000"/><circle cx="1240.94" cy="1516.75" r="2.5" fill="#000"/><circle cx="1246.53" cy="1508.32" r="1.9" fill="#000"/><circle cx="1254.44" cy="1502.09" r="1.5" fill="#000"/><circle cx="1262.9" cy="1496.77" r="3" fill="#000"/><circle cx="1270.78" cy="1490.47" r="1.9" fill="#000"/><circle cx="1279.59" cy="1485.51" r="1.2" fill="#000"/><circle cx="1289.45" cy="1483.17" r="2.5" fill="#000"/><circle cx="1299.11" cy="1480.52" r="1.5" fill="#000"/><circle cx="1309.05" cy="1479.36" r="1.9" fill="#000"/><circle cx="1319.02" cy="1479.42" r="3" fill="#000"/><circle cx="1329.01" cy="1478.55" r="3" fill="#000"/><circle cx="1338.96" cy="1479.7" r="2.5" fill="#000"/><circle cx="1348.92" cy="1481.26" r="1.2" fill="#000"/><circle cx="1358.05" cy="1485.59" r="3" fill="#000"/><circle cx="1367.66" cy="1488.59" r="1.2" fill="#000"/><circle cx="1376.58" cy="1493.29" r="1.5" fill="#000"/><circle cx="1385.13" cy="1498.68" r="2.5" fill="#000"/><circle cx="1392.45" cy="1505.65" r="1.5" fill="#000"/><circle cx="1398.39" cy="1513.82" r="1.9" fill="#000"/><circle cx="1405.6" cy="1520.79" r="2.5" fill="#000"/><circle cx="1411.9" cy="1528.69" r="2.5" fill="#000"/><circle cx="1422.27" cy="1556.88" r="3" fill="#000"/><circle cx="1426" cy="1566.36" r="1.9" fill="#000"/><circle cx="1425.9" cy="1576.5" r="2.5" fill="#000"/><circle cx="1419.53" cy="1591.54" r="1.6" fill="#000"/><circle cx="1416.21" cy="1602.58" r="1.6" fill="#000"/><circle cx="1415.09" cy="1614.07" r="1" fill="#000"/><circle cx="1409.75" cy="1624.26" r="1" fill="#000"/><circle cx="1391.14" cy="1652.83" r="1.3" fill="#000"/><circle cx="1382.19" cy="1659.97" r="1.6" fill="#000"/><circle cx="1363.08" cy="1672.38" r="1.6" fill="#000"/><circle cx="1352.28" cy="1676.1" r="1" fill="#000"/><circle cx="1318.72" cy="1681.37" r="1" fill="#000"/><circle cx="1307.37" cy="1680.49" r="1" fill="#000"/><circle cx="1296.02" cy="1678.95" r="1.6" fill="#000"/><circle cx="1285.08" cy="1675.48" r="1" fill="#000"/><circle cx="1275.17" cy="1669.69" r="1.3" fill="#000"/><circle cx="1257.18" cy="1656.05" r="1.6" fill="#000"/><circle cx="1234.99" cy="1630.52" r="1" fill="#000"/><circle cx="1230.58" cy="1620.03" r="1" fill="#000"/><circle cx="1223.42" cy="1598.37" r="1.6" fill="#000"/><circle cx="1250.85" cy="1514.16" r="1.3" fill="#000"/><circle cx="1278.98" cy="1494.75" r="1.6" fill="#000"/><circle cx="1289.99" cy="1491.7" r="1" fill="#000"/><circle cx="1300.89" cy="1488.87" r="1.3" fill="#000"/><circle cx="1311.9" cy="1486.04" r="1.6" fill="#000"/><circle cx="1323.26" cy="1486.33" r="1.6" fill="#000"/><circle cx="1345.81" cy="1488.69" r="1.6" fill="#000"/><circle cx="1356.23" cy="1493.31" r="1.6" fill="#000"/><circle cx="1385.19" cy="1510.52" r="1.3" fill="#000"/><circle cx="1401.1" cy="1526.72" r="1" fill="#000"/><circle cx="1307.03" cy="1592.12" r="1.3" fill="#000"/><circle cx="1296.3" cy="1602.18" r="1.6" fill="#000"/><circle cx="1289.81" cy="1605.91" r="2" fill="#000"/><circle cx="1282.78" cy="1608.65" r="1.3" fill="#000"/><circle cx="1260.21" cy="1610.31" r="1.3" fill="#000"/><circle cx="1252.81" cy="1608.65" r="1" fill="#000"/><circle cx="1239.29" cy="1602.18" r="2" fill="#000"/><circle cx="1233.5" cy="1597.55" r="2" fill="#000"/><circle cx="1228.56" cy="1592.12" r="1" fill="#000"/><circle cx="1221.67" cy="1579.43" r="2" fill="#000"/><circle cx="1311.01" cy="1544.72" r="1.3" fill="#000"/><circle cx="1421.23" cy="1572.49" r="1" fill="#000"/><circle cx="1416.54" cy="1586.03" r="1.6" fill="#000"/><circle cx="1407.62" cy="1597.55" r="1" fill="#000"/><circle cx="1395.34" cy="1605.91" r="1.3" fill="#000"/><circle cx="1380.91" cy="1610.31" r="1.6" fill="#000"/><circle cx="1365.74" cy="1610.31" r="1" fill="#000"/><circle cx="1358.34" cy="1608.65" r="1.3" fill="#000"/><circle cx="1351.31" cy="1605.91" r="1.6" fill="#000"/><circle cx="1344.82" cy="1602.18" r="1.3" fill="#000"/><circle cx="1334.09" cy="1592.12" r="1" fill="#000"/><circle cx="1330.11" cy="1586.03" r="1.3" fill="#000"/><circle cx="1330.11" cy="1544.72" r="1.3" fill="#000"/><circle cx="1274.5" cy="1615.3" r="1.6" fill="#000"/><circle cx="1274.5" cy="1636.3" r="1.3" fill="#000"/><circle cx="1279.63" cy="1619.48" r="1" fill="#000"/><circle cx="1284.77" cy="1623.16" r="1.6" fill="#000"/><circle cx="1284.77" cy="1644.16" r="1.6" fill="#000"/><circle cx="1289.9" cy="1626.36" r="1.6" fill="#000"/><circle cx="1289.9" cy="1647.36" r="1.6" fill="#000"/><circle cx="1295.04" cy="1650.06" r="1.3" fill="#000"/><circle cx="1300.17" cy="1652.27" r="1" fill="#000"/><circle cx="1305.31" cy="1632.99" r="1.3" fill="#000"/><circle cx="1305.31" cy="1653.99" r="1" fill="#000"/><circle cx="1310.45" cy="1634.22" r="1" fill="#000"/><circle cx="1310.45" cy="1655.22" r="1.3" fill="#000"/><circle cx="1315.59" cy="1634.95" r="1.6" fill="#000"/><circle cx="1320.72" cy="1635.2" r="1" fill="#000"/><circle cx="1320.72" cy="1656.2" r="1.3" fill="#000"/><circle cx="1325.86" cy="1655.95" r="1.6" fill="#000"/><circle cx="1331" cy="1634.22" r="1.3" fill="#000"/><circle cx="1331" cy="1655.22" r="1" fill="#000"/><circle cx="1336.14" cy="1632.99" r="1.6" fill="#000"/><circle cx="1336.14" cy="1653.99" r="1.6" fill="#000"/><circle cx="1341.29" cy="1631.27" r="1.6" fill="#000"/><circle cx="1341.29" cy="1652.27" r="1.6" fill="#000"/><circle cx="1346.43" cy="1629.06" r="1" fill="#000"/><circle cx="1346.43" cy="1650.06" r="1" fill="#000"/><circle cx="1351.57" cy="1626.36" r="1.3" fill="#000"/><circle cx="1356.71" cy="1623.16" r="1.6" fill="#000"/><circle cx="1356.71" cy="1644.16" r="1" fill="#000"/><circle cx="1361.86" cy="1619.48" r="1" fill="#000"/><circle cx="1361.86" cy="1640.48" r="1.3" fill="#000"/><circle cx="1367" cy="1615.3" r="1.3" fill="#000"/><circle cx="1367" cy="1636.3" r="1.6" fill="#000"/>
<ellipse cx="1267.79" cy="1565.37" rx="39.1" ry="36.4" fill="none" stroke="#000" stroke-width="8.9"/>
<circle cx="1296.29" cy="1565.37" r="1.35" fill="#000"/>
<circle cx="1295.7" cy="1570.78" r="1.35" fill="#000"/>
<circle cx="1293.96" cy="1575.95" r="1.35" fill="#000"/>
<circle cx="1291.14" cy="1580.65" r="1.35" fill="#000"/>
<circle cx="1287.36" cy="1584.69" r="1.35" fill="#000"/>
<circle cx="1282.79" cy="1587.89" r="1.35" fill="#000"/>
<circle cx="1277.64" cy="1590.1" r="1.35" fill="#000"/>
<circle cx="1272.12" cy="1591.23" r="1.35" fill="#000"/>
<circle cx="1266.47" cy="1591.23" r="1.35" fill="#000"/>
<circle cx="1260.95" cy="1590.1" r="1.35" fill="#000"/>
<circle cx="1260.95" cy="1540.64" r="1.35" fill="#000"/>
<circle cx="1266.47" cy="1539.51" r="1.35" fill="#000"/>
<circle cx="1272.12" cy="1539.51" r="1.35" fill="#000"/>
<circle cx="1277.64" cy="1540.64" r="1.35" fill="#000"/>
<circle cx="1282.79" cy="1542.86" r="1.35" fill="#000"/>
<circle cx="1287.36" cy="1546.05" r="1.35" fill="#000"/>
<circle cx="1291.14" cy="1550.09" r="1.35" fill="#000"/>
<circle cx="1293.96" cy="1554.8" r="1.35" fill="#000"/>
<circle cx="1295.7" cy="1559.97" r="1.35" fill="#000"/>
<path d="M1241.79 1551.37L1240.29 1566.37M1241.79 1551.37L1248.79 1552.37M1240.29 1566.37L1248.79 1552.37M1240.29 1566.37L1246.79 1571.37M1248.79 1552.37L1246.79 1571.37M1246.79 1571.37L1253.79 1584.37M1246.79 1571.37L1242.79 1579.37M1240.29 1566.37L1242.79 1579.37M1253.79 1584.37L1242.79 1579.37M1253.79 1584.37L1259.79 1586.37" fill="none" stroke="#000" stroke-width="0.9"/>
<circle cx="1241.79" cy="1551.37" r="2.6" fill="#000"/>
<circle cx="1240.29" cy="1566.37" r="2.8" fill="#000"/>
<circle cx="1248.79" cy="1552.37" r="2" fill="#000"/>
<circle cx="1246.79" cy="1571.37" r="2.2" fill="#000"/>
<circle cx="1253.79" cy="1584.37" r="2.6" fill="#000"/>
<circle cx="1242.79" cy="1579.37" r="1.8" fill="#000"/>
<circle cx="1259.79" cy="1586.37" r="2.6" fill="#000"/>
<ellipse cx="1373.33" cy="1565.37" rx="39.1" ry="36.4" fill="none" stroke="#000" stroke-width="8.9"/>
<circle cx="1380.17" cy="1590.1" r="1.35" fill="#000"/>
<circle cx="1374.65" cy="1591.23" r="1.35" fill="#000"/>
<circle cx="1369" cy="1591.23" r="1.35" fill="#000"/>
<circle cx="1363.48" cy="1590.1" r="1.35" fill="#000"/>
<circle cx="1358.33" cy="1587.89" r="1.35" fill="#000"/>
<circle cx="1353.76" cy="1584.69" r="1.35" fill="#000"/>
<circle cx="1349.98" cy="1580.65" r="1.35" fill="#000"/>
<circle cx="1347.16" cy="1575.95" r="1.35" fill="#000"/>
<circle cx="1345.42" cy="1570.78" r="1.35" fill="#000"/>
<circle cx="1344.83" cy="1565.37" r="1.35" fill="#000"/>
<circle cx="1345.42" cy="1559.97" r="1.35" fill="#000"/>
<circle cx="1347.16" cy="1554.8" r="1.35" fill="#000"/>
<circle cx="1349.98" cy="1550.09" r="1.35" fill="#000"/>
<circle cx="1353.76" cy="1546.05" r="1.35" fill="#000"/>
<circle cx="1358.33" cy="1542.86" r="1.35" fill="#000"/>
<circle cx="1363.48" cy="1540.64" r="1.35" fill="#000"/>
<circle cx="1369" cy="1539.51" r="1.35" fill="#000"/>
<circle cx="1374.65" cy="1539.51" r="1.35" fill="#000"/>
<circle cx="1380.17" cy="1540.64" r="1.35" fill="#000"/>
<path d="M1399.33 1551.37L1400.83 1566.37M1399.33 1551.37L1392.33 1552.37M1400.83 1566.37L1392.33 1552.37M1400.83 1566.37L1394.33 1571.37M1392.33 1552.37L1394.33 1571.37M1394.33 1571.37L1387.33 1584.37M1394.33 1571.37L1398.33 1579.37M1400.83 1566.37L1398.33 1579.37M1387.33 1584.37L1398.33 1579.37M1387.33 1584.37L1381.33 1586.37" fill="none" stroke="#000" stroke-width="0.9"/>
<circle cx="1399.33" cy="1551.37" r="2.6" fill="#000"/>
<circle cx="1400.83" cy="1566.37" r="2.8" fill="#000"/>
<circle cx="1392.33" cy="1552.37" r="2" fill="#000"/>
<circle cx="1394.33" cy="1571.37" r="2.2" fill="#000"/>
<circle cx="1387.33" cy="1584.37" r="2.6" fill="#000"/>
<circle cx="1398.33" cy="1579.37" r="1.8" fill="#000"/>
<circle cx="1381.33" cy="1586.37" r="2.6" fill="#000"/>
<path d="M 1300 1538.6 L 1342 1538.6 L 1346 1554 C 1336 1546.8 1306 1546.8 1296 1554 Z" fill="#000"/>
<path d="M 1244 1529 C 1232 1533 1224 1535.5 1218 1536.6 C 1211 1538 1211.5 1550 1219 1551 C 1225 1552 1229 1554 1233 1562 Z" fill="#000"/>
<path d="M 1398 1529 C 1410 1533 1418 1535.5 1424 1536.6 C 1431 1538 1430.5 1550 1423 1551 C 1417 1552 1413 1554 1409 1562 Z" fill="#000"/>
<circle cx="1274.5" cy="1564.5" r="14.6" fill="#000"/>
<circle cx="1280.1" cy="1558.2" r="3.5" fill="#E9ECF6"/>
<circle cx="1366.7" cy="1564.5" r="14.6" fill="#000"/>
<circle cx="1372.3" cy="1558.2" r="3.5" fill="#E9ECF6"/>
<circle cx="1320.8" cy="1554.5" r="1.9" fill="#000"/>
<circle cx="1320.8" cy="1563.5" r="2.1" fill="#000"/>
<circle cx="1320.8" cy="1572" r="2.2" fill="#000"/>
<circle cx="1314.5" cy="1568" r="1.2" fill="#000"/>
<circle cx="1327" cy="1568" r="1.2" fill="#000"/>
<circle cx="1315.5" cy="1559" r="1.1" fill="#000"/>
<circle cx="1326" cy="1559" r="1.1" fill="#000"/>
<path d="M 1274.5 1625.8 Q 1320.7 1665.6 1367 1625.8" fill="none" stroke="#000" stroke-width="10.6" stroke-linecap="round"/></g></g></g>
<g id="right"><rect x="1808.8" y="250.2" width="741.9" height="1227" fill="#fff"/>
<path d="M 1809.06 257.25 Q 1808.8 250.2 1815.93 250.36 Q 1823.07 250.53 1830.2 250.27 Q 1837.33 250.01 1844.47 249.96 Q 1851.6 249.91 1858.74 250.23 Q 1865.87 250.55 1873 250.17 Q 1880.14 249.78 1887.27 249.98 Q 1894.4 250.17 1901.54 250.22 Q 1908.67 250.26 1915.8 250.29 Q 1922.94 250.32 1930.07 250.07 Q 1937.21 249.81 1944.34 250.08 Q 1951.47 250.34 1958.61 250.27 Q 1965.74 250.2 1972.87 250.39 Q 1980.01 250.59 1987.14 250.13 Q 1994.27 249.68 2001.41 250.19 Q 2008.54 250.7 2015.68 250.27 Q 2022.81 249.84 2029.94 250.19 Q 2037.08 250.54 2044.21 250.38 Q 2051.34 250.21 2058.48 250.39 Q 2065.61 250.57 2072.75 250.21 Q 2079.88 249.85 2087.01 249.93 Q 2094.15 250 2101.28 249.87 Q 2108.41 249.75 2115.55 250.13 Q 2122.68 250.51 2129.81 250.37 Q 2136.95 250.24 2144.08 250.06 Q 2151.22 249.88 2158.35 249.87 Q 2165.48 249.86 2172.62 249.8 Q 2179.75 249.74 2186.88 249.8 Q 2194.02 249.87 2201.15 250.07 Q 2208.28 250.27 2215.42 250.2 Q 2222.55 250.13 2229.69 250.28 Q 2236.82 250.42 2243.95 250.08 Q 2251.09 249.73 2258.22 250.15 Q 2265.35 250.57 2272.49 250.65 Q 2279.62 250.73 2286.75 250.6 Q 2293.89 250.46 2301.02 250.47 Q 2308.16 250.47 2315.29 250.53 Q 2322.42 250.58 2329.56 250.17 Q 2336.69 249.75 2343.82 249.96 Q 2350.96 250.16 2358.09 249.95 Q 2365.22 249.74 2372.36 250.12 Q 2379.49 250.51 2386.63 250.38 Q 2393.76 250.24 2400.89 250 Q 2408.03 249.77 2415.16 249.95 Q 2422.29 250.14 2429.43 250.32 Q 2436.56 250.5 2443.7 250.38 Q 2450.83 250.26 2457.96 250.02 Q 2465.1 249.78 2472.23 250.23 Q 2479.36 250.68 2486.5 250.2 Q 2493.63 249.71 2500.76 250.14 Q 2507.9 250.58 2515.03 250.65 Q 2522.17 250.72 2529.3 250.6 Q 2536.43 250.48 2543.57 250.34 Q 2550.7 250.2 2550.45 257.25 Q 2550.21 264.3 2550.44 271.36 Q 2550.67 278.41 2550.84 285.46 Q 2551.01 292.51 2550.87 299.56 Q 2550.73 306.61 2550.58 313.67 Q 2550.44 320.72 2550.42 327.77 Q 2550.4 334.82 2550.62 341.87 Q 2550.83 348.92 2550.52 355.98 Q 2550.21 363.03 2550.71 370.08 Q 2551.21 377.13 2550.96 384.18 Q 2550.7 391.23 2550.96 398.29 Q 2551.21 405.34 2551.03 412.39 Q 2550.86 419.44 2550.51 426.49 Q 2550.16 433.54 2550.64 440.6 Q 2551.12 447.65 2550.64 454.7 Q 2550.17 461.75 2550.21 468.8 Q 2550.25 475.86 2550.37 482.91 Q 2550.49 489.96 2550.84 497.01 Q 2551.19 504.06 2550.96 511.11 Q 2550.73 518.17 2550.61 525.22 Q 2550.49 532.27 2550.82 539.32 Q 2551.15 546.37 2551.03 553.42 Q 2550.92 560.48 2551.04 567.53 Q 2551.15 574.58 2550.74 581.63 Q 2550.32 588.68 2550.28 595.73 Q 2550.24 602.79 2550.24 609.84 Q 2550.23 616.89 2550.33 623.94 Q 2550.42 630.99 2550.52 638.04 Q 2550.62 645.1 2550.9 652.15 Q 2551.18 659.2 2550.95 666.25 Q 2550.72 673.3 2550.57 680.36 Q 2550.41 687.41 2550.42 694.46 Q 2550.42 701.51 2550.82 708.56 Q 2551.22 715.61 2551.23 722.67 Q 2551.24 729.72 2551.2 736.77 Q 2551.15 743.82 2550.69 750.87 Q 2550.23 757.92 2550.68 764.98 Q 2551.13 772.03 2550.97 779.08 Q 2550.82 786.13 2550.77 793.18 Q 2550.73 800.23 2550.5 807.29 Q 2550.28 814.34 2550.69 821.39 Q 2551.1 828.44 2551.03 835.49 Q 2550.96 842.54 2550.68 849.6 Q 2550.4 856.65 2550.78 863.7 Q 2551.16 870.75 2551.11 877.8 Q 2551.07 884.86 2551.15 891.91 Q 2551.22 898.96 2550.71 906.01 Q 2550.2 913.06 2550.59 920.11 Q 2550.99 927.17 2550.85 934.22 Q 2550.7 941.27 2550.77 948.32 Q 2550.83 955.37 2550.5 962.42 Q 2550.17 969.48 2550.32 976.53 Q 2550.47 983.58 2550.53 990.63 Q 2550.59 997.68 2550.65 1004.73 Q 2550.71 1011.79 2550.83 1018.84 Q 2550.96 1025.89 2550.64 1032.94 Q 2550.33 1039.99 2550.73 1047.04 Q 2551.14 1054.1 2550.85 1061.15 Q 2550.57 1068.2 2550.75 1075.25 Q 2550.93 1082.3 2550.94 1089.36 Q 2550.95 1096.41 2550.85 1103.46 Q 2550.75 1110.51 2550.9 1117.56 Q 2551.04 1124.61 2550.82 1131.67 Q 2550.6 1138.72 2550.89 1145.77 Q 2551.17 1152.82 2551.2 1159.87 Q 2551.23 1166.92 2551.16 1173.98 Q 2551.09 1181.03 2551.12 1188.08 Q 2551.15 1195.13 2550.72 1202.18 Q 2550.28 1209.23 2550.49 1216.29 Q 2550.69 1223.34 2550.6 1230.39 Q 2550.5 1237.44 2550.45 1244.49 Q 2550.39 1251.54 2550.73 1258.6 Q 2551.07 1265.65 2550.64 1272.7 Q 2550.2 1279.75 2550.52 1286.8 Q 2550.83 1293.86 2550.79 1300.91 Q 2550.74 1307.96 2550.73 1315.01 Q 2550.71 1322.06 2550.6 1329.11 Q 2550.49 1336.17 2550.44 1343.22 Q 2550.4 1350.27 2550.72 1357.32 Q 2551.04 1364.37 2550.69 1371.42 Q 2550.34 1378.48 2550.56 1385.53 Q 2550.78 1392.58 2550.88 1399.63 Q 2550.97 1406.68 2550.64 1413.73 Q 2550.3 1420.79 2550.3 1427.84 Q 2550.29 1434.89 2550.3 1441.94 Q 2550.31 1448.99 2550.6 1456.04 Q 2550.89 1463.1 2550.8 1470.15 Q 2550.7 1477.2 2543.57 1476.97 Q 2536.43 1476.74 2529.3 1476.82 Q 2522.17 1476.9 2515.03 1476.79 Q 2507.9 1476.68 2500.76 1476.8 Q 2493.63 1476.92 2486.5 1476.78 Q 2479.36 1476.65 2472.23 1476.94 Q 2465.1 1477.22 2457.96 1477.07 Q 2450.83 1476.93 2443.7 1476.91 Q 2436.56 1476.89 2429.43 1477.03 Q 2422.29 1477.17 2415.16 1477.18 Q 2408.03 1477.2 2400.89 1477.25 Q 2393.76 1477.31 2386.63 1477.05 Q 2379.49 1476.79 2372.36 1477.06 Q 2365.22 1477.33 2358.09 1477.13 Q 2350.96 1476.93 2343.82 1477.03 Q 2336.69 1477.13 2329.56 1477.05 Q 2322.42 1476.97 2315.29 1477.19 Q 2308.16 1477.41 2301.02 1477.54 Q 2293.89 1477.66 2286.75 1477.34 Q 2279.62 1477.01 2272.49 1477.3 Q 2265.35 1477.59 2258.22 1477.47 Q 2251.09 1477.35 2243.95 1477.12 Q 2236.82 1476.89 2229.69 1477.29 Q 2222.55 1477.7 2215.42 1477.22 Q 2208.28 1476.75 2201.15 1476.93 Q 2194.02 1477.1 2186.88 1477.12 Q 2179.75 1477.13 2172.62 1477.07 Q 2165.48 1477.01 2158.35 1477.35 Q 2151.22 1477.69 2144.08 1477.71 Q 2136.95 1477.73 2129.81 1477.34 Q 2122.68 1476.96 2115.55 1477.03 Q 2108.41 1477.1 2101.28 1477.08 Q 2094.15 1477.05 2087.01 1476.95 Q 2079.88 1476.84 2072.75 1477.15 Q 2065.61 1477.45 2058.48 1477.51 Q 2051.34 1477.57 2044.21 1477.13 Q 2037.08 1476.68 2029.94 1477.18 Q 2022.81 1477.68 2015.68 1477.43 Q 2008.54 1477.18 2001.41 1477.12 Q 1994.27 1477.06 1987.14 1476.88 Q 1980.01 1476.7 1972.87 1477.18 Q 1965.74 1477.65 1958.61 1477.32 Q 1951.47 1476.98 1944.34 1477.32 Q 1937.21 1477.66 1930.07 1477.46 Q 1922.94 1477.25 1915.8 1477.16 Q 1908.67 1477.07 1901.54 1476.94 Q 1894.4 1476.82 1887.27 1477.26 Q 1880.14 1477.7 1873 1477.31 Q 1865.87 1476.93 1858.74 1477.26 Q 1851.6 1477.59 1844.47 1477.45 Q 1837.33 1477.3 1830.2 1476.99 Q 1823.07 1476.67 1815.93 1476.94 Q 1808.8 1477.2 1808.99 1470.15 Q 1809.19 1463.1 1808.76 1456.04 Q 1808.33 1448.99 1808.29 1441.94 Q 1808.26 1434.89 1808.27 1427.84 Q 1808.28 1420.79 1808.7 1413.73 Q 1809.11 1406.68 1808.7 1399.63 Q 1808.29 1392.58 1808.7 1385.53 Q 1809.11 1378.48 1809.13 1371.42 Q 1809.14 1364.37 1809.14 1357.32 Q 1809.15 1350.27 1809.21 1343.22 Q 1809.28 1336.17 1809.11 1329.11 Q 1808.95 1322.06 1809.05 1315.01 Q 1809.16 1307.96 1809 1300.91 Q 1808.85 1293.86 1808.92 1286.8 Q 1808.99 1279.75 1808.66 1272.7 Q 1808.33 1265.65 1808.59 1258.6 Q 1808.86 1251.54 1809.1 1244.49 Q 1809.34 1237.44 1809.01 1230.39 Q 1808.68 1223.34 1808.86 1216.29 Q 1809.04 1209.23 1808.74 1202.18 Q 1808.45 1195.13 1808.61 1188.08 Q 1808.78 1181.03 1808.81 1173.98 Q 1808.85 1166.92 1808.97 1159.87 Q 1809.1 1152.82 1808.85 1145.77 Q 1808.6 1138.72 1808.69 1131.67 Q 1808.77 1124.61 1808.61 1117.56 Q 1808.46 1110.51 1808.67 1103.46 Q 1808.89 1096.41 1809.08 1089.36 Q 1809.28 1082.3 1808.98 1075.25 Q 1808.68 1068.2 1808.83 1061.15 Q 1808.98 1054.1 1808.92 1047.04 Q 1808.86 1039.99 1808.66 1032.94 Q 1808.47 1025.89 1808.74 1018.84 Q 1809.02 1011.79 1808.75 1004.73 Q 1808.48 997.68 1808.7 990.63 Q 1808.93 983.58 1809.13 976.53 Q 1809.34 969.48 1808.97 962.42 Q 1808.59 955.37 1808.79 948.32 Q 1808.99 941.27 1808.8 934.22 Q 1808.62 927.17 1808.79 920.11 Q 1808.96 913.06 1808.71 906.01 Q 1808.46 898.96 1808.63 891.91 Q 1808.8 884.86 1808.96 877.8 Q 1809.11 870.75 1808.8 863.7 Q 1808.48 856.65 1808.56 849.6 Q 1808.64 842.54 1808.57 835.49 Q 1808.5 828.44 1808.46 821.39 Q 1808.42 814.34 1808.71 807.29 Q 1808.99 800.23 1809.08 793.18 Q 1809.16 786.13 1809 779.08 Q 1808.83 772.03 1808.79 764.98 Q 1808.74 757.92 1808.66 750.87 Q 1808.58 743.82 1808.55 736.77 Q 1808.51 729.72 1808.9 722.67 Q 1809.29 715.61 1809.03 708.56 Q 1808.78 701.51 1808.89 694.46 Q 1809 687.41 1808.78 680.36 Q 1808.56 673.3 1808.5 666.25 Q 1808.44 659.2 1808.35 652.15 Q 1808.26 645.1 1808.42 638.04 Q 1808.58 630.99 1808.64 623.94 Q 1808.71 616.89 1808.77 609.84 Q 1808.82 602.79 1808.88 595.73 Q 1808.93 588.68 1808.97 581.63 Q 1809.01 574.58 1809.11 567.53 Q 1809.21 560.48 1809.17 553.42 Q 1809.13 546.37 1809.07 539.32 Q 1809.01 532.27 1809.07 525.22 Q 1809.14 518.17 1808.99 511.11 Q 1808.85 504.06 1808.81 497.01 Q 1808.77 489.96 1809.01 482.91 Q 1809.26 475.86 1809.24 468.8 Q 1809.23 461.75 1808.95 454.7 Q 1808.67 447.65 1808.94 440.6 Q 1809.2 433.54 1808.96 426.49 Q 1808.72 419.44 1808.9 412.39 Q 1809.08 405.34 1808.68 398.29 Q 1808.28 391.23 1808.59 384.18 Q 1808.9 377.13 1809.1 370.08 Q 1809.29 363.03 1809.01 355.98 Q 1808.73 348.92 1808.97 341.87 Q 1809.21 334.82 1809.1 327.77 Q 1809 320.72 1808.64 313.67 Q 1808.27 306.61 1808.3 299.56 Q 1808.33 292.51 1808.47 285.46 Q 1808.61 278.41 1808.97 271.36 Q 1809.32 264.3 1809.06 257.25 Z" fill="none" stroke="#51145C" stroke-width="3.3" stroke-linejoin="round"/><circle cx="1808.8" cy="250.2" r="2.05" fill="#51145C"/><circle cx="2550.7" cy="250.2" r="2.05" fill="#51145C"/><circle cx="2550.7" cy="1477.2" r="2.05" fill="#51145C"/><circle cx="1808.8" cy="1477.2" r="2.05" fill="#51145C"/>
<g><text class="serif" font-size="36" stroke="#000" stroke-width="0.3" x="2129.8" y="295.6">Results</text>
<text class="serif" font-size="24.98" stroke="#000" stroke-width="0.3" x="1912.4" y="334.9">Comparison to Exphormer Variants &amp; Some Baselines</text>
<rect x="1883.5" y="358.5" width="14.8" height="13.6" fill="#767374"/>
<text class="sans" font-size="11.55" fill="#444" stroke="#444" stroke-width="0.3" x="1911.9" y="369.4">NodeFormer</text>
<rect x="2003.7" y="358.5" width="14.8" height="13.6" fill="#A223E6"/>
<text class="sans" font-size="11.55" fill="#444" stroke="#444" stroke-width="0.3" x="2032.5" y="369.4">GraphGPS</text>
<rect x="2115.5" y="358.5" width="14.8" height="13.6" fill="#E65050"/>
<text class="sans" font-size="11.55" fill="#444" stroke="#444" stroke-width="0.3" x="2143.9" y="369.4">Exphormer+MPNN</text>
<rect x="2268.4" y="358.5" width="14.8" height="13.6" fill="#340C9A"/>
<text class="sans" font-size="11.55" fill="#444" stroke="#444" stroke-width="0.3" x="2296.7" y="369.4">Exphormer</text>
<rect x="2380.3" y="358.5" width="14.8" height="13.6" fill="#4A60E6"/>
<text class="sans" font-size="11.55" fill="#444" stroke="#444" stroke-width="0.3" x="2408.7" y="369.4">Spexphormer</text>
<g><rect x="1856.1" y="394.2" width="143.2" height="131" fill="#fff"/>
<line x1="1856.1" y1="492.45" x2="1999.3" y2="492.45" stroke="#E8E8E8" stroke-width="0.9"/>
<line x1="1856.1" y1="459.7" x2="1999.3" y2="459.7" stroke="#E8E8E8" stroke-width="0.9"/>
<line x1="1856.1" y1="426.95" x2="1999.3" y2="426.95" stroke="#E8E8E8" stroke-width="0.9"/>
<rect x="1863" y="477.71" width="23.2" height="47.49" fill="#767374"/>
<rect x="1889.6" y="425.64" width="23.2" height="99.56" fill="#A223E6"/>
<rect x="1916.2" y="418.76" width="23.2" height="106.44" fill="#E65050"/>
<rect x="1942.8" y="415.81" width="23.2" height="109.39" fill="#340C9A"/>
<rect x="1969.4" y="416.8" width="23.2" height="108.4" fill="#4A60E6"/>
<rect x="1856.1" y="394.2" width="143.2" height="131" fill="none" stroke="#E0E0E0" stroke-width="0.9"/>
<text class="sans" font-size="11.3" fill="#404040" stroke="#404040" stroke-width="0.3" text-anchor="end" x="1851.5" y="529.21">92</text>
<text class="sans" font-size="11.3" fill="#404040" stroke="#404040" stroke-width="0.3" text-anchor="end" x="1851.5" y="496.46">93</text>
<text class="sans" font-size="11.3" fill="#404040" stroke="#404040" stroke-width="0.3" text-anchor="end" x="1851.5" y="463.71">94</text>
<text class="sans" font-size="11.3" fill="#404040" stroke="#404040" stroke-width="0.3" text-anchor="end" x="1851.5" y="430.96">95</text>
<text class="sans" font-size="11.3" fill="#404040" stroke="#404040" stroke-width="0.3" text-anchor="end" x="1851.5" y="398.21">96</text>
<text class="sans" font-size="13.3" fill="#404040" stroke="#404040" stroke-width="0.3" text-anchor="middle" x="1927.7" y="391.1">Photo</text>
<text class="sans" font-size="11" fill="#404040" stroke="#404040" stroke-width="0.3" text-anchor="middle" transform="translate(1835.7 459.7) rotate(-90)">Accuracy</text></g>
<g><rect x="2033" y="394.2" width="142.9" height="131" fill="#fff"/>
<line x1="2033" y1="508.83" x2="2175.9" y2="508.83" stroke="#E8E8E8" stroke-width="0.9"/>
<line x1="2033" y1="476.08" x2="2175.9" y2="476.08" stroke="#E8E8E8" stroke-width="0.9"/>
<line x1="2033" y1="443.33" x2="2175.9" y2="443.33" stroke="#E8E8E8" stroke-width="0.9"/>
<line x1="2033" y1="410.57" x2="2175.9" y2="410.57" stroke="#E8E8E8" stroke-width="0.9"/>
<rect x="2039.9" y="492.94" width="23.2" height="32.26" fill="#767374"/>
<rect x="2066.5" y="424" width="23.2" height="101.2" fill="#A223E6"/>
<rect x="2093.1" y="417.45" width="23.2" height="107.75" fill="#E65050"/>
<rect x="2119.7" y="424.66" width="23.2" height="100.54" fill="#340C9A"/>
<rect x="2146.3" y="425.8" width="23.2" height="99.4" fill="#4A60E6"/>
<rect x="2033" y="394.2" width="142.9" height="131" fill="none" stroke="#E0E0E0" stroke-width="0.9"/>
<text class="sans" font-size="11.3" fill="#404040" stroke="#404040" stroke-width="0.3" text-anchor="end" x="2028.4" y="512.84">86</text>
<text class="sans" font-size="11.3" fill="#404040" stroke="#404040" stroke-width="0.3" text-anchor="end" x="2028.4" y="480.09">88</text>
<text class="sans" font-size="11.3" fill="#404040" stroke="#404040" stroke-width="0.3" text-anchor="end" x="2028.4" y="447.34">90</text>
<text class="sans" font-size="11.3" fill="#404040" stroke="#404040" stroke-width="0.3" text-anchor="end" x="2028.4" y="414.59">92</text>
<text class="sans" font-size="13.3" fill="#404040" stroke="#404040" stroke-width="0.3" text-anchor="middle" x="2104.45" y="391.1">Computer</text>
<text class="sans" font-size="11" fill="#404040" stroke="#404040" stroke-width="0.3" text-anchor="middle" transform="translate(2012.8 459.7) rotate(-90)">Accuracy</text></g>
<g><rect x="2209.8" y="394.2" width="143.3" height="131" fill="#fff"/>
<line x1="2209.8" y1="499" x2="2353.1" y2="499" stroke="#E8E8E8" stroke-width="0.9"/>
<line x1="2209.8" y1="472.8" x2="2353.1" y2="472.8" stroke="#E8E8E8" stroke-width="0.9"/>
<line x1="2209.8" y1="446.6" x2="2353.1" y2="446.6" stroke="#E8E8E8" stroke-width="0.9"/>
<line x1="2209.8" y1="420.4" x2="2353.1" y2="420.4" stroke="#E8E8E8" stroke-width="0.9"/>
<rect x="2216.7" y="435.2" width="23.2" height="90" fill="#767374"/>
<rect x="2243.3" y="432.45" width="23.2" height="92.75" fill="#A223E6"/>
<rect x="2269.9" y="411.75" width="23.2" height="113.45" fill="#E65050"/>
<rect x="2296.5" y="407.69" width="23.2" height="117.51" fill="#340C9A"/>
<rect x="2323.1" y="413.2" width="23.2" height="112" fill="#4A60E6"/>
<rect x="2209.8" y="394.2" width="143.3" height="131" fill="none" stroke="#E0E0E0" stroke-width="0.9"/>
<text class="sans" font-size="11.3" fill="#404040" stroke="#404040" stroke-width="0.3" text-anchor="end" x="2205.2" y="529.21">30</text>
<text class="sans" font-size="11.3" fill="#404040" stroke="#404040" stroke-width="0.3" text-anchor="end" x="2205.2" y="503.01">32</text>
<text class="sans" font-size="11.3" fill="#404040" stroke="#404040" stroke-width="0.3" text-anchor="end" x="2205.2" y="476.81">34</text>
<text class="sans" font-size="11.3" fill="#404040" stroke="#404040" stroke-width="0.3" text-anchor="end" x="2205.2" y="450.61">36</text>
<text class="sans" font-size="11.3" fill="#404040" stroke="#404040" stroke-width="0.3" text-anchor="end" x="2205.2" y="424.41">38</text>
<text class="sans" font-size="11.3" fill="#404040" stroke="#404040" stroke-width="0.3" text-anchor="end" x="2205.2" y="398.21">40</text>
<text class="sans" font-size="13.3" fill="#404040" stroke="#404040" stroke-width="0.3" text-anchor="middle" x="2281.45" y="391.1">Actor</text>
<text class="sans" font-size="11" fill="#404040" stroke="#404040" stroke-width="0.3" text-anchor="middle" transform="translate(2189.5 459.7) rotate(-90)">Accuracy</text></g>
<g><rect x="2386.6" y="394.2" width="142.9" height="131" fill="#fff"/>
<line x1="2386.6" y1="512.1" x2="2529.5" y2="512.1" stroke="#E8E8E8" stroke-width="0.9"/>
<line x1="2386.6" y1="485.9" x2="2529.5" y2="485.9" stroke="#E8E8E8" stroke-width="0.9"/>
<line x1="2386.6" y1="459.7" x2="2529.5" y2="459.7" stroke="#E8E8E8" stroke-width="0.9"/>
<line x1="2386.6" y1="433.5" x2="2529.5" y2="433.5" stroke="#E8E8E8" stroke-width="0.9"/>
<line x1="2386.6" y1="407.3" x2="2529.5" y2="407.3" stroke="#E8E8E8" stroke-width="0.9"/>
<rect x="2393.5" y="484.85" width="23.2" height="40.35" fill="#767374"/>
<rect x="2420.1" y="411.49" width="23.2" height="113.71" fill="#A223E6"/>
<rect x="2446.7" y="410.71" width="23.2" height="114.49" fill="#E65050"/>
<rect x="2473.3" y="413.85" width="23.2" height="111.35" fill="#340C9A"/>
<rect x="2499.9" y="416.47" width="23.2" height="108.73" fill="#4A60E6"/>
<rect x="2386.6" y="394.2" width="142.9" height="131" fill="none" stroke="#E0E0E0" stroke-width="0.9"/>
<text class="sans" font-size="11.3" fill="#404040" stroke="#404040" stroke-width="0.3" text-anchor="end" x="2382" y="516.11">76</text>
<text class="sans" font-size="11.3" fill="#404040" stroke="#404040" stroke-width="0.3" text-anchor="end" x="2382" y="489.91">78</text>
<text class="sans" font-size="11.3" fill="#404040" stroke="#404040" stroke-width="0.3" text-anchor="end" x="2382" y="463.71">80</text>
<text class="sans" font-size="11.3" fill="#404040" stroke="#404040" stroke-width="0.3" text-anchor="end" x="2382" y="437.51">82</text>
<text class="sans" font-size="11.3" fill="#404040" stroke="#404040" stroke-width="0.3" text-anchor="end" x="2382" y="411.31">84</text>
<text class="sans" font-size="13.3" fill="#404040" stroke="#404040" stroke-width="0.3" text-anchor="middle" x="2458.05" y="391.1">Tolokers</text>
<text class="sans" font-size="11" fill="#404040" stroke="#404040" stroke-width="0.3" text-anchor="middle" transform="translate(2366.7 459.7) rotate(-90)">ROC-AUC</text></g>
<text class="serif" font-size="12.99" stroke="#000" stroke-width="0.3" x="1954.3" y="554.5">Spexphormer gets competitive results with Exphormer, with less than 10% of the attention edges.</text></g>
<g><text class="serif" font-size="24.9" stroke="#000" stroke-width="0.3" x="1908.2" y="602.1">Large Dataset Results</text>
<line x1="1833.2" y1="632.5" x2="2200.1" y2="632.5" stroke="#111" stroke-width="1"/>
<line x1="1833.2" y1="653.2" x2="2200.1" y2="653.2" stroke="#333" stroke-width="0.7"/>
<line x1="1833.2" y1="785.5" x2="2200.1" y2="785.5" stroke="#333" stroke-width="0.7"/>
<line x1="1833.2" y1="834.5" x2="2200.1" y2="834.5" stroke="#444" stroke-width="1.2"/>
<text class="serifb" font-size="12.7" stroke="#000" stroke-width="0.3" x="1841.1" y="646.2">Model</text>
<text class="serifb" font-size="12.7" stroke="#000" stroke-width="0.3" text-anchor="middle" x="1989.9" y="646.2">ogbn-proteins</text>
<text class="serifb" font-size="12.7" stroke="#000" stroke-width="0.3" text-anchor="middle" x="2076.2" y="646.2">Amazon2M</text>
<text class="serifb" font-size="12.7" stroke="#000" stroke-width="0.3" text-anchor="middle" x="2158.7" y="646.2">Pokec*</text>
<text class="serif" font-size="12.9" stroke="#000" stroke-width="0.3" x="1841.1" y="667.2">MLP</text>
<text class="serif" font-size="12.9" stroke="#000" stroke-width="0.3" text-anchor="middle" x="1989.9" y="667.2">72.04 ± 0.48</text>
<text class="serif" font-size="12.9" stroke="#000" stroke-width="0.3" text-anchor="middle" x="2076.2" y="667.2">63.46 ± 0.10</text>
<text class="serif" font-size="12.9" stroke="#000" stroke-width="0.3" text-anchor="middle" x="2158.7" y="667.2">60.15 ± 0.03</text>
<text class="serif" font-size="12.9" stroke="#000" stroke-width="0.3" x="1841.1" y="681.3">GCN</text>
<text class="serif" font-size="12.9" stroke="#000" stroke-width="0.3" text-anchor="middle" x="1989.9" y="681.3">72.51 ± 0.35</text>
<text class="serif" font-size="12.9" stroke="#000" stroke-width="0.3" text-anchor="middle" x="2076.2" y="681.3">83.90 ± 0.10</text>
<text class="serif" font-size="12.9" stroke="#000" stroke-width="0.3" text-anchor="middle" x="2158.7" y="681.3">62.31 ± 1.13</text>
<text class="serif" font-size="12.9" stroke="#000" stroke-width="0.3" x="1841.1" y="695.2">SGC</text>
<text class="serif" font-size="12.9" stroke="#000" stroke-width="0.3" text-anchor="middle" x="1989.9" y="695.2">70.31 ± 0.23</text>
<text class="serif" font-size="12.9" stroke="#000" stroke-width="0.3" text-anchor="middle" x="2076.2" y="695.2">81.21 ± 0.12</text>
<text class="serif" font-size="12.9" stroke="#000" stroke-width="0.3" text-anchor="middle" x="2158.7" y="695.2">52.03 ± 0.84</text>
<text class="serif" font-size="12.9" stroke="#000" stroke-width="0.3" x="1841.1" y="709.2">GCN-NS<tspan font-size="10.32" letter-spacing="0.75">AMPLER</tspan></text>
<text class="serif" font-size="12.9" stroke="#000" stroke-width="0.3" text-anchor="middle" x="1989.9" y="709.2">73.51 ± 1.31</text>
<text class="serif" font-size="12.9" stroke="#000" stroke-width="0.3" text-anchor="middle" x="2076.2" y="709.2">83.84 ± 0.42</text>
<text class="serif" font-size="12.9" stroke="#000" stroke-width="0.3" text-anchor="middle" x="2158.7" y="709.2">63.75 ± 0.77</text>
<text class="serif" font-size="12.9" stroke="#000" stroke-width="0.3" x="1841.1" y="723.1">GAT-NS<tspan font-size="10.32" letter-spacing="0.75">AMPLER</tspan></text>
<text class="serif" font-size="12.9" stroke="#000" stroke-width="0.3" text-anchor="middle" x="1989.9" y="723.1">74.63 ± 1.24</text>
<text class="serif" font-size="12.9" stroke="#000" stroke-width="0.3" text-anchor="middle" x="2076.2" y="723.1">85.17 ± 0.32</text>
<text class="serif" font-size="12.9" stroke="#000" stroke-width="0.3" text-anchor="middle" x="2158.7" y="723.1">62.32 ± 0.65</text>
<text class="serif" font-size="12.9" stroke="#000" stroke-width="0.3" x="1841.1" y="737">SIGN</text>
<text class="serif" font-size="12.9" stroke="#000" stroke-width="0.3" text-anchor="middle" x="1989.9" y="737">71.24 ± 0.46</text>
<text class="serif" font-size="12.9" stroke="#000" stroke-width="0.3" text-anchor="middle" x="2076.2" y="737">80.98 ± 0.31</text>
<text class="serif" font-size="12.9" stroke="#000" stroke-width="0.3" text-anchor="middle" x="2158.7" y="737">68.01 ± 0.25</text>
<text class="serif" font-size="12.9" stroke="#000" stroke-width="0.3" x="1841.1" y="751">N<tspan font-size="10.32" letter-spacing="0.75">ODE</tspan>F<tspan font-size="10.32" letter-spacing="0.75">ORMER</tspan></text>
<text class="serif" font-size="12.9" stroke="#000" stroke-width="0.3" text-anchor="middle" x="1989.9" y="751">77.45 ± 1.15</text>
<text class="serif" font-size="12.9" stroke="#000" stroke-width="0.3" text-anchor="middle" x="2076.2" y="751">87.85 ± 0.24</text>
<text class="serif" font-size="12.9" stroke="#000" stroke-width="0.3" text-anchor="middle" x="2158.7" y="751">70.32 ± 0.45</text>
<text class="serif" font-size="12.9" stroke="#000" stroke-width="0.3" x="1841.1" y="764.9">SGF<tspan font-size="10.32" letter-spacing="0.75">ORMER</tspan></text>
<text class="serif" font-size="12.9" stroke="#000" stroke-width="0.3" text-anchor="middle" x="1989.9" y="764.9">79.53 ± 0.38</text>
<text class="serif" font-size="12.9" stroke="#000" stroke-width="0.3" text-anchor="middle" x="2076.2" y="764.9">89.09 ± 0.10</text>
<text class="serif" font-size="12.9" stroke="#000" stroke-width="0.3" text-anchor="middle" x="2158.7" y="764.9">73.76 ± 0.24</text>
<text class="serif" font-size="12.9" stroke="#000" stroke-width="0.3" x="1841.1" y="778.9">S<tspan font-size="10.32" letter-spacing="0.75">PEXPHORMER</tspan></text>
<text class="serif" font-size="12.9" stroke="#000" stroke-width="0.3" text-anchor="middle" x="1989.9" y="778.9"><tspan class="serifb">80.65 </tspan>±<tspan class="serifb"> 0.07</tspan></text>
<text class="serif" font-size="12.9" stroke="#000" stroke-width="0.3" text-anchor="middle" x="2076.2" y="778.9"><tspan class="serifb">90.40 </tspan>±<tspan class="serifb"> 0.03</tspan></text>
<text class="serif" font-size="12.9" stroke="#000" stroke-width="0.3" text-anchor="middle" x="2158.7" y="778.9"><tspan class="serifb">74.73 </tspan>±<tspan class="serifb">0.04</tspan></text>
<text class="serif" font-size="12.6" stroke="#000" stroke-width="0.3" text-anchor="middle" x="2016.5" y="799">Dataset Information</text>
<text class="serif" font-size="12.6" stroke="#000" stroke-width="0.3" x="1841.1" y="812.9">Number of Nodes</text>
<text class="serif" font-size="12.6" stroke="#000" stroke-width="0.3" text-anchor="middle" x="1989.9" y="812.9">132K</text>
<text class="serif" font-size="12.6" stroke="#000" stroke-width="0.3" text-anchor="middle" x="2076.2" y="812.9">2.4M</text>
<text class="serif" font-size="12.6" stroke="#000" stroke-width="0.3" text-anchor="middle" x="2158.7" y="812.9">1.6M</text>
<text class="serif" font-size="12.6" stroke="#000" stroke-width="0.3" x="1841.1" y="827">Number of Edges</text>
<text class="serif" font-size="12.6" stroke="#000" stroke-width="0.3" text-anchor="middle" x="1989.9" y="827">79M</text>
<text class="serif" font-size="12.6" stroke="#000" stroke-width="0.3" text-anchor="middle" x="2076.2" y="827">123M</text>
<text class="serif" font-size="12.6" stroke="#000" stroke-width="0.3" text-anchor="middle" x="2158.7" y="827">31M</text></g>
<g><text class="serif" font-size="24.9" stroke="#000" stroke-width="0.3" x="2281.2" y="602.1">Memory Comparison</text>
<rect x="2265.1" y="630.8" width="279.6" height="177.8" fill="#fff"/>
<line x1="2265.1" y1="786.88" x2="2544.7" y2="786.88" stroke="#DADADA" stroke-width="0.8"/>
<line x1="2265.1" y1="765.17" x2="2544.7" y2="765.17" stroke="#DADADA" stroke-width="0.8"/>
<line x1="2265.1" y1="743.45" x2="2544.7" y2="743.45" stroke="#DADADA" stroke-width="0.8"/>
<line x1="2265.1" y1="721.74" x2="2544.7" y2="721.74" stroke="#DADADA" stroke-width="0.8"/>
<line x1="2265.1" y1="700.02" x2="2544.7" y2="700.02" stroke="#DADADA" stroke-width="0.8"/>
<line x1="2265.1" y1="678.31" x2="2544.7" y2="678.31" stroke="#DADADA" stroke-width="0.8"/>
<line x1="2265.1" y1="656.59" x2="2544.7" y2="656.59" stroke="#DADADA" stroke-width="0.8"/>
<line x1="2265.1" y1="634.88" x2="2544.7" y2="634.88" stroke="#DADADA" stroke-width="0.8"/>
<line x1="2291.09" y1="630.8" x2="2291.09" y2="808.6" stroke="#DADADA" stroke-width="0.8"/>
<line x1="2323.54" y1="630.8" x2="2323.54" y2="808.6" stroke="#DADADA" stroke-width="0.8"/>
<line x1="2355.99" y1="630.8" x2="2355.99" y2="808.6" stroke="#DADADA" stroke-width="0.8"/>
<line x1="2388.1" y1="630.8" x2="2388.1" y2="808.6" stroke="#DADADA" stroke-width="0.8"/>
<line x1="2420.55" y1="630.8" x2="2420.55" y2="808.6" stroke="#DADADA" stroke-width="0.8"/>
<line x1="2453" y1="630.8" x2="2453" y2="808.6" stroke="#DADADA" stroke-width="0.8"/>
<line x1="2485.45" y1="630.8" x2="2485.45" y2="808.6" stroke="#DADADA" stroke-width="0.8"/>
<line x1="2517.91" y1="630.8" x2="2517.91" y2="808.6" stroke="#DADADA" stroke-width="0.8"/>
<rect x="2277.76" y="803.82" width="6.47" height="4.78" fill="#4A60E6"/>
<rect x="2284.52" y="804.26" width="6.47" height="4.34" fill="#340C9A"/>
<rect x="2291.29" y="803.39" width="6.47" height="5.21" fill="#E65050"/>
<rect x="2298.06" y="801.65" width="6.47" height="6.95" fill="#A223E6"/>
<rect x="2310.21" y="803.82" width="6.47" height="4.78" fill="#4A60E6"/>
<rect x="2316.97" y="803.82" width="6.47" height="4.78" fill="#340C9A"/>
<rect x="2323.74" y="797.74" width="6.47" height="10.86" fill="#E65050"/>
<rect x="2330.51" y="793.83" width="6.47" height="14.77" fill="#A223E6"/>
<rect x="2342.66" y="803.82" width="6.47" height="4.78" fill="#4A60E6"/>
<rect x="2349.43" y="803.39" width="6.47" height="5.21" fill="#340C9A"/>
<rect x="2356.19" y="802.09" width="6.47" height="6.51" fill="#E65050"/>
<rect x="2362.96" y="799.05" width="6.47" height="9.55" fill="#A223E6"/>
<rect x="2374.77" y="801.65" width="6.47" height="6.95" fill="#4A60E6"/>
<rect x="2381.53" y="802.95" width="6.47" height="5.65" fill="#340C9A"/>
<rect x="2388.3" y="789.49" width="6.47" height="19.11" fill="#E65050"/>
<rect x="2395.07" y="786.02" width="6.47" height="22.58" fill="#A223E6"/>
<rect x="2407.22" y="800.78" width="6.47" height="7.82" fill="#4A60E6"/>
<rect x="2413.98" y="799.91" width="6.47" height="8.69" fill="#340C9A"/>
<rect x="2420.75" y="794.27" width="6.47" height="14.33" fill="#E65050"/>
<rect x="2427.52" y="782.98" width="6.47" height="25.62" fill="#A223E6"/>
<rect x="2439.67" y="802.52" width="6.47" height="6.08" fill="#4A60E6"/>
<rect x="2446.44" y="802.52" width="6.47" height="6.08" fill="#340C9A"/>
<rect x="2453.2" y="788.62" width="6.47" height="19.98" fill="#E65050"/>
<rect x="2459.97" y="780.8" width="6.47" height="27.8" fill="#A223E6"/>
<rect x="2472.12" y="796.44" width="6.47" height="12.16" fill="#4A60E6"/>
<rect x="2478.89" y="795.14" width="6.47" height="13.46" fill="#340C9A"/>
<rect x="2485.65" y="779.07" width="6.47" height="29.53" fill="#E65050"/>
<rect x="2492.42" y="758.66" width="6.47" height="49.94" fill="#A223E6"/>
<rect x="2504.57" y="794.7" width="6.47" height="13.9" fill="#4A60E6"/>
<rect x="2511.34" y="776.03" width="6.47" height="32.57" fill="#340C9A"/>
<rect x="2518.11" y="691.34" width="6.47" height="117.26" fill="#E65050"/>
<rect x="2524.87" y="640.09" width="6.47" height="168.51" fill="#A223E6"/>
<rect x="2265.1" y="630.8" width="279.6" height="177.8" fill="none" stroke="#D4D4D4" stroke-width="0.9"/>
<text class="sans" font-size="10.6" fill="#404040" stroke="#404040" stroke-width="0.3" text-anchor="end" x="2258.9" y="812.5">0</text>
<text class="sans" font-size="10.6" fill="#404040" stroke="#404040" stroke-width="0.3" text-anchor="end" x="2258.9" y="790.78">5</text>
<text class="sans" font-size="10.6" fill="#404040" stroke="#404040" stroke-width="0.3" text-anchor="end" x="2258.9" y="769.07">10</text>
<text class="sans" font-size="10.6" fill="#404040" stroke="#404040" stroke-width="0.3" text-anchor="end" x="2258.9" y="747.35">15</text>
<text class="sans" font-size="10.6" fill="#404040" stroke="#404040" stroke-width="0.3" text-anchor="end" x="2258.9" y="725.64">20</text>
<text class="sans" font-size="10.6" fill="#404040" stroke="#404040" stroke-width="0.3" text-anchor="end" x="2258.9" y="703.92">25</text>
<text class="sans" font-size="10.6" fill="#404040" stroke="#404040" stroke-width="0.3" text-anchor="end" x="2258.9" y="682.21">30</text>
<text class="sans" font-size="10.6" fill="#404040" stroke="#404040" stroke-width="0.3" text-anchor="end" x="2258.9" y="660.49">35</text>
<text class="sans" font-size="10.6" fill="#404040" stroke="#404040" stroke-width="0.3" text-anchor="end" x="2258.9" y="638.78">40</text>
<text class="sans" font-size="13" fill="#404040" stroke="#404040" stroke-width="0.3" text-anchor="middle" transform="translate(2241.2 720.5) rotate(-90)">Memory Usage (GB)</text>
<text class="sans" font-size="10.8" fill="#404040" stroke="#404040" stroke-width="0.3" text-anchor="middle" transform="translate(2291.29 823.63) rotate(-29)" y="3.89">Actor</text>
<text class="sans" font-size="10.8" fill="#404040" stroke="#404040" stroke-width="0.3" text-anchor="middle" transform="translate(2323.74 824.36) rotate(-29)" y="3.89">Photo</text>
<text class="sans" font-size="10.8" fill="#404040" stroke="#404040" stroke-width="0.3" text-anchor="middle" transform="translate(2356.19 833.09) rotate(-29)" y="3.89">Minesweeper</text>
<text class="sans" font-size="10.8" fill="#404040" stroke="#404040" stroke-width="0.3" text-anchor="middle" transform="translate(2388.3 827.27) rotate(-29)" y="3.89">Tolokers</text>
<text class="sans" font-size="10.8" fill="#404040" stroke="#404040" stroke-width="0.3" text-anchor="middle" transform="translate(2420.75 821.16) rotate(-29)" y="3.89">CS</text>
<text class="sans" font-size="10.8" fill="#404040" stroke="#404040" stroke-width="0.3" text-anchor="middle" transform="translate(2453.2 829.02) rotate(-29)" y="3.89">Computer</text>
<text class="sans" font-size="10.8" fill="#404040" stroke="#404040" stroke-width="0.3" text-anchor="middle" transform="translate(2485.65 826.54) rotate(-29)" y="3.89">Physics</text>
<text class="sans" font-size="10.8" fill="#404040" stroke="#404040" stroke-width="0.3" text-anchor="middle" transform="translate(2518.11 829.75) rotate(-29)" y="3.89">ogbn-arxiv</text>
<rect x="2270.92" y="636.64" width="170.89" height="68.36" fill="#fff" stroke="#E2E2E2" stroke-width="0.8" rx="1.5" fill-opacity="0.85"/>
<rect x="2276.1" y="641.67" width="21.75" height="7.2" fill="#4A60E6"/>
<text class="sans" font-size="11.4" fill="#404040" stroke="#404040" stroke-width="0.3" x="2307.52" y="649.27">Attention Score Estimator</text>
<rect x="2276.1" y="657.9" width="21.75" height="7.2" fill="#340C9A"/>
<text class="sans" font-size="11.4" fill="#404040" stroke="#404040" stroke-width="0.3" x="2307.52" y="665.5">Spexphormer</text>
<rect x="2276.1" y="674.47" width="21.75" height="7.2" fill="#E65050"/>
<text class="sans" font-size="11.4" fill="#404040" stroke="#404040" stroke-width="0.3" x="2307.52" y="682.07">Exphormer w Degree 6</text>
<rect x="2276.1" y="690.7" width="21.75" height="7.2" fill="#A223E6"/>
<text class="sans" font-size="11.4" fill="#404040" stroke="#404040" stroke-width="0.3" x="2307.52" y="698.3">Exphormer w Degree 30</text></g>
<g><text class="serif" font-size="24.98" stroke="#000" stroke-width="0.3" x="2010.3" y="889.7">Memory and Runtime Scalability</text>
<g><clipPath id="cpm"><rect x="1871.49" y="935.57" width="287.23" height="214.04"/></clipPath>
<rect x="1871.49" y="935.57" width="287.23" height="214.04" fill="#fff"/>
<line x1="1871.49" y1="1144.78" x2="2158.72" y2="1144.78" stroke="#E6E6E6" stroke-width="0.8"/>
<line x1="1871.49" y1="1106.53" x2="2158.72" y2="1106.53" stroke="#E6E6E6" stroke-width="0.8"/>
<line x1="1871.49" y1="1068.28" x2="2158.72" y2="1068.28" stroke="#E6E6E6" stroke-width="0.8"/>
<line x1="1871.49" y1="1030.03" x2="2158.72" y2="1030.03" stroke="#E6E6E6" stroke-width="0.8"/>
<line x1="1871.49" y1="991.77" x2="2158.72" y2="991.77" stroke="#E6E6E6" stroke-width="0.8"/>
<line x1="1871.49" y1="953.52" x2="2158.72" y2="953.52" stroke="#E6E6E6" stroke-width="0.8"/>
<line x1="1907.39" y1="935.57" x2="1907.39" y2="1149.61" stroke="#E6E6E6" stroke-width="0.8"/>
<line x1="1943.29" y1="935.57" x2="1943.29" y2="1149.61" stroke="#E6E6E6" stroke-width="0.8"/>
<line x1="1979.2" y1="935.57" x2="1979.2" y2="1149.61" stroke="#E6E6E6" stroke-width="0.8"/>
<line x1="2015.1" y1="935.57" x2="2015.1" y2="1149.61" stroke="#E6E6E6" stroke-width="0.8"/>
<line x1="2051.01" y1="935.57" x2="2051.01" y2="1149.61" stroke="#E6E6E6" stroke-width="0.8"/>
<line x1="2086.91" y1="935.57" x2="2086.91" y2="1149.61" stroke="#E6E6E6" stroke-width="0.8"/>
<line x1="2122.82" y1="935.57" x2="2122.82" y2="1149.61" stroke="#E6E6E6" stroke-width="0.8"/>
<g clip-path="url(#cpm)"><polygon points="1871.49,1135.22 1885.85,1130.78 1900.21,1126.34 1914.57,1121.91 1928.93,1117.47 1943.29,1113.03 1957.66,1108.37 1972.02,1103.7 1986.38,1099.03 2000.74,1094.37 2015.1,1089.7 2029.46,1084.27 2043.83,1078.84 2058.19,1073.4 2072.55,1067.97 2086.91,1062.54 2101.27,1056.5 2115.63,1050.45 2130,1044.41 2144.36,1038.37 2158.72,1032.32 2158.72,1035.38 2144.36,1041.27 2130,1047.16 2115.63,1053.05 2101.27,1058.94 2086.91,1064.84 2072.55,1070.11 2058.19,1075.39 2043.83,1080.67 2029.46,1085.95 2015.1,1091.23 2000.74,1095.74 1986.38,1100.26 1972.02,1104.77 1957.66,1109.28 1943.29,1113.8 1928.93,1118.08 1914.57,1122.37 1900.21,1126.65 1885.85,1130.93 1871.49,1135.22" fill="#A37B6E" fill-opacity="0.2"/><polygon points="1871.49,1137.13 1885.85,1132.69 1900.21,1128.26 1914.57,1122.9 1928.93,1116.63 1943.29,1110.35 1957.66,1103.32 1972.02,1096.28 1986.38,1088.47 2000.74,1079.91 2015.1,1071.34 2029.46,1061.39 2043.83,1051.45 2058.19,1040.58 2072.55,1028.8 2086.91,1017.02 2101.27,1003.56 2115.63,990.09 2130,976.01 2144.36,961.33 2158.72,946.64 2158.72,952.76 2144.36,967.14 2130,981.52 2115.63,995.29 2101.27,1008.45 2086.91,1021.61 2072.55,1033.09 2058.19,1044.56 2043.83,1055.12 2029.46,1064.76 2015.1,1074.4 2000.74,1082.66 1986.38,1090.92 1972.02,1098.42 1957.66,1105.15 1943.29,1111.88 1928.93,1117.85 1914.57,1123.82 1900.21,1128.87 1885.85,1133 1871.49,1137.13" fill="#EE95D0" fill-opacity="0.2"/><polyline points="1871.49,1139.81 1885.85,1138.93 1900.21,1138.05 1914.57,1137.17 1928.93,1136.29 1943.29,1135.41 1957.66,1134.53 1972.02,1133.65 1986.38,1132.77 2000.74,1131.89 2015.1,1131.01 2029.46,1130.13 2043.83,1129.25 2058.19,1128.37 2072.55,1127.49 2086.91,1126.61 2101.27,1125.73 2115.63,1124.85 2130,1123.97 2144.36,1123.09 2158.72,1122.21" fill="none" stroke="#5B8DC9" stroke-width="0.75"/><polyline points="1871.49,1136.37 1885.85,1134.74 1900.21,1133.11 1914.57,1131.49 1928.93,1129.86 1943.29,1128.24 1957.66,1126.61 1972.02,1124.99 1986.38,1123.36 2000.74,1121.73 2015.1,1120.11 2029.46,1118.48 2043.83,1116.86 2058.19,1115.23 2072.55,1113.61 2086.91,1111.98 2101.27,1110.35 2115.63,1108.73 2130,1107.1 2144.36,1105.48 2158.72,1103.85" fill="none" stroke="#F2A15C" stroke-width="0.75"/><polyline points="1871.49,1128.72 1885.85,1125.66 1900.21,1122.6 1914.57,1119.54 1928.93,1116.48 1943.29,1113.42 1957.66,1110.28 1972.02,1107.14 1986.38,1104.01 2000.74,1100.87 2015.1,1097.73 2029.46,1094.6 2043.83,1091.46 2058.19,1088.32 2072.55,1085.19 2086.91,1082.05 2101.27,1079.06 2115.63,1076.08 2130,1073.1 2144.36,1070.11 2158.72,1067.13" fill="none" stroke="#6DB56D" stroke-width="0.75"/><polyline points="1871.49,1136.37 1885.85,1134.45 1900.21,1132.54 1914.57,1130.63 1928.93,1128.72 1943.29,1126.8 1957.66,1125.04 1972.02,1123.28 1986.38,1121.52 2000.74,1119.76 2015.1,1118.01 2029.46,1116.32 2043.83,1114.64 2058.19,1112.96 2072.55,1111.27 2086.91,1109.59 2101.27,1107.83 2115.63,1106.07 2130,1104.31 2144.36,1102.55 2158.72,1100.79" fill="none" stroke="#E0605F" stroke-width="0.75" stroke-dasharray="2.8 1.3"/><polyline points="1871.49,1134.07 1885.85,1129.63 1900.21,1125.2 1914.57,1120.76 1928.93,1116.32 1943.29,1111.88 1957.66,1108.29 1972.02,1104.69 1986.38,1101.1 2000.74,1097.5 2015.1,1093.91 2029.46,1090.08 2043.83,1086.26 2058.19,1082.43 2072.55,1078.61 2086.91,1074.78 2101.27,1070.96 2115.63,1067.13 2130,1063.31 2144.36,1059.48 2158.72,1055.65" fill="none" stroke="#A78BD6" stroke-width="0.75" stroke-dasharray="2.8 1.3"/><polyline points="1871.49,1135.22 1885.85,1130.86 1900.21,1126.5 1914.57,1122.14 1928.93,1117.78 1943.29,1113.42 1957.66,1108.82 1972.02,1104.23 1986.38,1099.64 2000.74,1095.05 2015.1,1090.46 2029.46,1085.11 2043.83,1079.75 2058.19,1074.4 2072.55,1069.04 2086.91,1063.69 2101.27,1057.72 2115.63,1051.75 2130,1045.79 2144.36,1039.82 2158.72,1033.85" fill="none" stroke="#A37B6E" stroke-width="0.75" stroke-dasharray="2.8 1.3"/><polyline points="1871.49,1137.13 1885.85,1132.85 1900.21,1128.56 1914.57,1123.36 1928.93,1117.24 1943.29,1111.12 1957.66,1104.23 1972.02,1097.35 1986.38,1089.7 2000.74,1081.28 2015.1,1072.87 2029.46,1063.08 2043.83,1053.28 2058.19,1042.57 2072.55,1030.94 2086.91,1019.32 2101.27,1006 2115.63,992.69 2130,978.77 2144.36,964.23 2158.72,949.7" fill="none" stroke="#EE95D0" stroke-width="0.75" stroke-dasharray="2.8 1.3"/></g>
<rect x="1871.49" y="935.57" width="287.23" height="214.04" fill="none" stroke="#DDDDDD" stroke-width="0.9"/>
<text class="dejavu" font-size="11" fill="#2a2a2a" stroke="#2a2a2a" stroke-width="0.3" text-anchor="end" x="1866.49" y="1148.78">0</text>
<text class="dejavu" font-size="11" fill="#2a2a2a" stroke="#2a2a2a" stroke-width="0.3" text-anchor="end" x="1866.49" y="1110.53">1</text>
<text class="dejavu" font-size="11" fill="#2a2a2a" stroke="#2a2a2a" stroke-width="0.3" text-anchor="end" x="1866.49" y="1072.28">2</text>
<text class="dejavu" font-size="11" fill="#2a2a2a" stroke="#2a2a2a" stroke-width="0.3" text-anchor="end" x="1866.49" y="1034.03">3</text>
<text class="dejavu" font-size="11" fill="#2a2a2a" stroke="#2a2a2a" stroke-width="0.3" text-anchor="end" x="1866.49" y="995.77">4</text>
<text class="dejavu" font-size="11" fill="#2a2a2a" stroke="#2a2a2a" stroke-width="0.3" text-anchor="end" x="1866.49" y="957.52">5</text>
<text class="dejavu" font-size="11" fill="#2a2a2a" stroke="#2a2a2a" stroke-width="0.3" text-anchor="middle" x="1871.49" y="1161.01">10</text>
<text class="dejavu" font-size="11" fill="#2a2a2a" stroke="#2a2a2a" stroke-width="0.3" text-anchor="middle" x="1907.39" y="1161.01">15</text>
<text class="dejavu" font-size="11" fill="#2a2a2a" stroke="#2a2a2a" stroke-width="0.3" text-anchor="middle" x="1943.29" y="1161.01">20</text>
<text class="dejavu" font-size="11" fill="#2a2a2a" stroke="#2a2a2a" stroke-width="0.3" text-anchor="middle" x="1979.2" y="1161.01">25</text>
<text class="dejavu" font-size="11" fill="#2a2a2a" stroke="#2a2a2a" stroke-width="0.3" text-anchor="middle" x="2015.1" y="1161.01">30</text>
<text class="dejavu" font-size="11" fill="#2a2a2a" stroke="#2a2a2a" stroke-width="0.3" text-anchor="middle" x="2051.01" y="1161.01">35</text>
<text class="dejavu" font-size="11" fill="#2a2a2a" stroke="#2a2a2a" stroke-width="0.3" text-anchor="middle" x="2086.91" y="1161.01">40</text>
<text class="dejavu" font-size="11" fill="#2a2a2a" stroke="#2a2a2a" stroke-width="0.3" text-anchor="middle" x="2122.82" y="1161.01">45</text>
<text class="dejavu" font-size="11" fill="#2a2a2a" stroke="#2a2a2a" stroke-width="0.3" text-anchor="middle" x="2158.72" y="1161.01">50</text>
<text class="dejavu" font-size="11.3" fill="#2a2a2a" stroke="#2a2a2a" stroke-width="0.3" text-anchor="middle" x="2015.1" y="1173.81">Number of Nodes (×1000)</text>
<text class="dejavu" font-size="11.3" fill="#2a2a2a" stroke="#2a2a2a" stroke-width="0.3" text-anchor="middle" transform="translate(1857.4 1042.59) rotate(-90)">Memory Usage (GB)</text>
<rect x="1876.67" y="940.75" width="140.85" height="121.87" fill="#fff" stroke="#E4E4E4" stroke-width="0.8" rx="1.5" fill-opacity="0.8"/>
<line x1="1880.97" y1="949.38" x2="1901.87" y2="949.38" stroke="#5B8DC9" stroke-width="0.8"/>
<text class="dejavu" font-size="10.4" fill="#2a2a2a" stroke="#2a2a2a" stroke-width="0.3" x="1909.87" y="953.08">Spexphormer, d=5</text>
<line x1="1880.97" y1="964.57" x2="1901.87" y2="964.57" stroke="#F2A15C" stroke-width="0.8"/>
<text class="dejavu" font-size="10.4" fill="#2a2a2a" stroke="#2a2a2a" stroke-width="0.3" x="1909.87" y="968.27">Spexphormer, d=10</text>
<line x1="1880.97" y1="979.76" x2="1901.87" y2="979.76" stroke="#6DB56D" stroke-width="0.8"/>
<text class="dejavu" font-size="10.4" fill="#2a2a2a" stroke="#2a2a2a" stroke-width="0.3" x="1909.87" y="983.46">Spexphormer, d=20</text>
<line x1="1880.97" y1="996.68" x2="1901.87" y2="996.68" stroke="#E0605F" stroke-width="0.8" stroke-dasharray="2.8 1.3"/>
<text class="dejavu" font-size="10.4" fill="#2a2a2a" stroke="#2a2a2a" stroke-width="0.3" x="1909.87" y="1000.38">GCN, <tspan font-style="italic">p</tspan> = </text>
<text class="dejavu" font-size="7" fill="#2a2a2a" stroke="#2a2a2a" stroke-width="0.3" text-anchor="middle" x="1967.87" y="996.08">20</text>
<line x1="1962.37" y1="997.58" x2="1973.37" y2="997.58" stroke="#2a2a2a" stroke-width="0.5"/>
<text class="dejavu" font-size="7" fill="#2a2a2a" stroke="#2a2a2a" stroke-width="0.3" text-anchor="middle" x="1967.87" y="1004.08" font-style="italic">n</text>
<line x1="1880.97" y1="1016.7" x2="1901.87" y2="1016.7" stroke="#A78BD6" stroke-width="0.8" stroke-dasharray="2.8 1.3"/>
<text class="dejavu" font-size="10.4" fill="#2a2a2a" stroke="#2a2a2a" stroke-width="0.3" x="1909.87" y="1020.4">GCN, <tspan font-style="italic">p</tspan> = </text>
<text class="dejavu" font-size="7" fill="#2a2a2a" stroke="#2a2a2a" stroke-width="0.3" text-anchor="middle" x="1973.37" y="1015.8">4log <tspan font-style="italic">n</tspan></text>
<line x1="1962.37" y1="1017.6" x2="1984.37" y2="1017.6" stroke="#2a2a2a" stroke-width="0.5"/>
<text class="dejavu" font-size="7" fill="#2a2a2a" stroke="#2a2a2a" stroke-width="0.3" text-anchor="middle" x="1973.37" y="1024.1" font-style="italic">n</text>
<line x1="1880.97" y1="1035" x2="1901.87" y2="1035" stroke="#A37B6E" stroke-width="0.8" stroke-dasharray="2.8 1.3"/>
<text class="dejavu" font-size="10.4" fill="#2a2a2a" stroke="#2a2a2a" stroke-width="0.3" x="1909.87" y="1038.7">GCN, <tspan font-style="italic">p</tspan> = </text>
<text class="dejavu" font-size="7" fill="#2a2a2a" stroke="#2a2a2a" stroke-width="0.3" text-anchor="middle" x="1970.37" y="1034.1">1</text>
<line x1="1962.37" y1="1035.9" x2="1978.37" y2="1035.9" stroke="#2a2a2a" stroke-width="0.5"/>
<text class="dejavu" font-size="7" fill="#2a2a2a" stroke="#2a2a2a" stroke-width="0.3" text-anchor="middle" x="1970.37" y="1042.8">4√<tspan font-style="italic">n</tspan></text>
<line x1="1880.97" y1="1053.29" x2="1901.87" y2="1053.29" stroke="#EE95D0" stroke-width="0.8" stroke-dasharray="2.8 1.3"/>
<text class="dejavu" font-size="10.4" fill="#2a2a2a" stroke="#2a2a2a" stroke-width="0.3" x="1909.87" y="1056.99">GCN, <tspan font-style="italic">p</tspan> = 0.002</text></g>
<g><clipPath id="cpr"><rect x="2232.94" y="934.19" width="286.89" height="214.04"/></clipPath>
<rect x="2232.94" y="934.19" width="286.89" height="214.04" fill="#fff"/>
<line x1="2232.94" y1="1144.09" x2="2519.83" y2="1144.09" stroke="#E6E6E6" stroke-width="0.8"/>
<line x1="2232.94" y1="1118.89" x2="2519.83" y2="1118.89" stroke="#E6E6E6" stroke-width="0.8"/>
<line x1="2232.94" y1="1093.69" x2="2519.83" y2="1093.69" stroke="#E6E6E6" stroke-width="0.8"/>
<line x1="2232.94" y1="1068.49" x2="2519.83" y2="1068.49" stroke="#E6E6E6" stroke-width="0.8"/>
<line x1="2232.94" y1="1043.28" x2="2519.83" y2="1043.28" stroke="#E6E6E6" stroke-width="0.8"/>
<line x1="2232.94" y1="1018.08" x2="2519.83" y2="1018.08" stroke="#E6E6E6" stroke-width="0.8"/>
<line x1="2232.94" y1="992.88" x2="2519.83" y2="992.88" stroke="#E6E6E6" stroke-width="0.8"/>
<line x1="2232.94" y1="967.68" x2="2519.83" y2="967.68" stroke="#E6E6E6" stroke-width="0.8"/>
<line x1="2232.94" y1="942.48" x2="2519.83" y2="942.48" stroke="#E6E6E6" stroke-width="0.8"/>
<line x1="2268.81" y1="934.19" x2="2268.81" y2="1148.23" stroke="#E6E6E6" stroke-width="0.8"/>
<line x1="2304.67" y1="934.19" x2="2304.67" y2="1148.23" stroke="#E6E6E6" stroke-width="0.8"/>
<line x1="2340.53" y1="934.19" x2="2340.53" y2="1148.23" stroke="#E6E6E6" stroke-width="0.8"/>
<line x1="2376.39" y1="934.19" x2="2376.39" y2="1148.23" stroke="#E6E6E6" stroke-width="0.8"/>
<line x1="2412.25" y1="934.19" x2="2412.25" y2="1148.23" stroke="#E6E6E6" stroke-width="0.8"/>
<line x1="2448.11" y1="934.19" x2="2448.11" y2="1148.23" stroke="#E6E6E6" stroke-width="0.8"/>
<line x1="2483.97" y1="934.19" x2="2483.97" y2="1148.23" stroke="#E6E6E6" stroke-width="0.8"/>
<g clip-path="url(#cpr)"><polygon points="2232.94,1133.51 2247.29,1132.8 2261.63,1132.09 2275.98,1131.39 2290.32,1130.68 2304.67,1129.98 2319.01,1129.37 2333.36,1128.77 2347.7,1128.16 2362.04,1127.56 2376.39,1126.95 2390.73,1126.25 2405.08,1125.54 2419.42,1124.84 2433.77,1124.13 2448.11,1123.43 2462.46,1122.62 2476.8,1121.81 2491.14,1121.01 2505.49,1120.2 2519.83,1119.39 2519.83,1124.43 2505.49,1125.24 2491.14,1126.05 2476.8,1126.85 2462.46,1127.66 2448.11,1128.47 2433.77,1129.17 2419.42,1129.88 2405.08,1130.58 2390.73,1131.29 2376.39,1131.99 2362.04,1132.6 2347.7,1133.2 2333.36,1133.81 2319.01,1134.41 2304.67,1135.02 2290.32,1135.72 2275.98,1136.43 2261.63,1137.14 2247.29,1137.84 2232.94,1138.55" fill="#5B8DC9" fill-opacity="0.2"/><polygon points="2232.94,1131.49 2247.29,1130.38 2261.63,1129.27 2275.98,1128.16 2290.32,1127.05 2304.67,1125.95 2319.01,1124.43 2333.36,1122.92 2347.7,1121.41 2362.04,1119.9 2376.39,1118.39 2390.73,1116.97 2405.08,1115.56 2419.42,1114.15 2433.77,1112.74 2448.11,1111.33 2462.46,1110.12 2476.8,1108.91 2491.14,1107.7 2505.49,1106.49 2519.83,1105.28 2519.83,1110.32 2505.49,1111.53 2491.14,1112.74 2476.8,1113.95 2462.46,1115.16 2448.11,1116.37 2433.77,1117.78 2419.42,1119.19 2405.08,1120.6 2390.73,1122.01 2376.39,1123.43 2362.04,1124.94 2347.7,1126.45 2333.36,1127.96 2319.01,1129.47 2304.67,1130.99 2290.32,1132.09 2275.98,1133.2 2261.63,1134.31 2247.29,1135.42 2232.94,1136.53" fill="#F2A15C" fill-opacity="0.2"/><polygon points="2232.94,1123.93 2247.29,1121.71 2261.63,1119.49 2275.98,1117.28 2290.32,1115.06 2304.67,1112.84 2319.01,1110.42 2333.36,1108 2347.7,1105.58 2362.04,1103.16 2376.39,1100.74 2390.73,1098.32 2405.08,1095.9 2419.42,1093.49 2433.77,1091.07 2448.11,1088.65 2462.46,1086.03 2476.8,1083.4 2491.14,1080.78 2505.49,1078.16 2519.83,1075.54 2519.83,1083.61 2505.49,1086.23 2491.14,1088.85 2476.8,1091.47 2462.46,1094.09 2448.11,1096.71 2433.77,1099.13 2419.42,1101.55 2405.08,1103.97 2390.73,1106.39 2376.39,1108.81 2362.04,1111.23 2347.7,1113.65 2333.36,1116.07 2319.01,1118.49 2304.67,1120.91 2290.32,1123.12 2275.98,1125.34 2261.63,1127.56 2247.29,1129.78 2232.94,1131.99" fill="#6DB56D" fill-opacity="0.2"/><polygon points="2232.94,1124.43 2247.29,1122.82 2261.63,1121.21 2275.98,1119.59 2290.32,1117.98 2304.67,1116.37 2319.01,1114.86 2333.36,1113.34 2347.7,1111.83 2362.04,1110.32 2376.39,1108.81 2390.73,1106.59 2405.08,1104.37 2419.42,1102.66 2433.77,1101.45 2448.11,1100.24 2462.46,1097.62 2476.8,1095 2491.14,1093.38 2505.49,1092.78 2519.83,1092.17 2519.83,1101.25 2505.49,1101.85 2491.14,1102.46 2476.8,1104.07 2462.46,1106.69 2448.11,1109.31 2433.77,1110.52 2419.42,1111.73 2405.08,1113.45 2390.73,1115.66 2376.39,1117.88 2362.04,1119.39 2347.7,1120.91 2333.36,1122.42 2319.01,1123.93 2304.67,1125.44 2290.32,1127.05 2275.98,1128.67 2261.63,1130.28 2247.29,1131.89 2232.94,1133.51" fill="#E0605F" fill-opacity="0.2"/><polygon points="2232.94,1118.89 2247.29,1115.54 2261.63,1112.2 2275.98,1108.85 2290.32,1105.5 2304.67,1102.15 2319.01,1098.61 2333.36,1095.06 2347.7,1091.51 2362.04,1087.96 2376.39,1084.41 2390.73,1080.66 2405.08,1076.91 2419.42,1073.16 2433.77,1069.41 2448.11,1065.66 2462.46,1061.61 2476.8,1057.56 2491.14,1053.51 2505.49,1049.45 2519.83,1045.4 2519.83,1060.32 2505.49,1064.13 2491.14,1067.94 2476.8,1071.75 2462.46,1075.56 2448.11,1079.37 2433.77,1082.88 2419.42,1086.39 2405.08,1089.9 2390.73,1093.4 2376.39,1096.91 2362.04,1100.22 2347.7,1103.53 2333.36,1106.83 2319.01,1110.14 2304.67,1113.45 2290.32,1116.55 2275.98,1119.66 2261.63,1122.76 2247.29,1125.86 2232.94,1128.97" fill="#A78BD6" fill-opacity="0.2"/><polygon points="2232.94,1124.94 2247.29,1121.01 2261.63,1117.07 2275.98,1113.14 2290.32,1109.21 2304.67,1105.28 2319.01,1100.54 2333.36,1095.8 2347.7,1091.07 2362.04,1086.33 2376.39,1081.59 2390.73,1075.84 2405.08,1070.1 2419.42,1064.35 2433.77,1058.61 2448.11,1052.86 2462.46,1045.3 2476.8,1037.74 2491.14,1031.09 2505.49,1025.34 2519.83,1019.59 2519.83,1037.74 2505.49,1042.88 2491.14,1048.02 2476.8,1054.07 2462.46,1061.03 2448.11,1067.98 2433.77,1073.12 2419.42,1078.26 2405.08,1083.4 2390.73,1088.55 2376.39,1093.69 2362.04,1097.82 2347.7,1101.95 2333.36,1106.09 2319.01,1110.22 2304.67,1114.35 2290.32,1117.68 2275.98,1121.01 2261.63,1124.33 2247.29,1127.66 2232.94,1130.99" fill="#A37B6E" fill-opacity="0.2"/><polygon points="2232.94,1127.96 2247.29,1124.23 2261.63,1120.5 2275.98,1115.97 2290.32,1110.62 2304.67,1105.28 2319.01,1097.92 2333.36,1090.56 2347.7,1082.6 2362.04,1074.03 2376.39,1065.46 2390.73,1054.88 2405.08,1044.29 2419.42,1033.1 2433.77,1021.31 2448.11,1009.51 2462.46,996.91 2476.8,984.31 2491.14,971.51 2505.49,958.5 2519.83,945.5 2519.83,967.68 2505.49,979.67 2491.14,991.67 2476.8,1003.46 2462.46,1015.06 2448.11,1026.65 2433.77,1037.44 2419.42,1048.22 2405.08,1058.4 2390.73,1067.98 2376.39,1077.56 2362.04,1085.12 2347.7,1092.68 2333.36,1099.63 2319.01,1105.99 2304.67,1112.34 2290.32,1116.67 2275.98,1121.01 2261.63,1124.53 2247.29,1127.26 2232.94,1129.98" fill="#EE95D0" fill-opacity="0.2"/><polyline points="2232.94,1136.03 2247.29,1135.32 2261.63,1134.62 2275.98,1133.91 2290.32,1133.2 2304.67,1132.5 2319.01,1131.89 2333.36,1131.29 2347.7,1130.68 2362.04,1130.08 2376.39,1129.47 2390.73,1128.77 2405.08,1128.06 2419.42,1127.36 2433.77,1126.65 2448.11,1125.95 2462.46,1125.14 2476.8,1124.33 2491.14,1123.53 2505.49,1122.72 2519.83,1121.91" fill="none" stroke="#5B8DC9" stroke-width="0.75"/><polyline points="2232.94,1134.01 2247.29,1132.9 2261.63,1131.79 2275.98,1130.68 2290.32,1129.57 2304.67,1128.47 2319.01,1126.95 2333.36,1125.44 2347.7,1123.93 2362.04,1122.42 2376.39,1120.91 2390.73,1119.49 2405.08,1118.08 2419.42,1116.67 2433.77,1115.26 2448.11,1113.85 2462.46,1112.64 2476.8,1111.43 2491.14,1110.22 2505.49,1109.01 2519.83,1107.8" fill="none" stroke="#F2A15C" stroke-width="0.75"/><polyline points="2232.94,1127.96 2247.29,1125.74 2261.63,1123.53 2275.98,1121.31 2290.32,1119.09 2304.67,1116.87 2319.01,1114.45 2333.36,1112.03 2347.7,1109.61 2362.04,1107.2 2376.39,1104.78 2390.73,1102.36 2405.08,1099.94 2419.42,1097.52 2433.77,1095.1 2448.11,1092.68 2462.46,1090.06 2476.8,1087.44 2491.14,1084.82 2505.49,1082.19 2519.83,1079.57" fill="none" stroke="#6DB56D" stroke-width="0.75"/><polyline points="2232.94,1128.97 2247.29,1127.36 2261.63,1125.74 2275.98,1124.13 2290.32,1122.52 2304.67,1120.91 2319.01,1119.39 2333.36,1117.88 2347.7,1116.37 2362.04,1114.86 2376.39,1113.34 2390.73,1111.13 2405.08,1108.91 2419.42,1107.2 2433.77,1105.99 2448.11,1104.78 2462.46,1102.15 2476.8,1099.53 2491.14,1097.92 2505.49,1097.32 2519.83,1096.71" fill="none" stroke="#E0605F" stroke-width="0.75" stroke-dasharray="2.8 1.3"/><polyline points="2232.94,1123.93 2247.29,1120.7 2261.63,1117.48 2275.98,1114.25 2290.32,1111.03 2304.67,1107.8 2319.01,1104.37 2333.36,1100.95 2347.7,1097.52 2362.04,1094.09 2376.39,1090.66 2390.73,1087.03 2405.08,1083.4 2419.42,1079.78 2433.77,1076.15 2448.11,1072.52 2462.46,1068.59 2476.8,1064.65 2491.14,1060.72 2505.49,1056.79 2519.83,1052.86" fill="none" stroke="#A78BD6" stroke-width="0.75" stroke-dasharray="2.8 1.3"/><polyline points="2232.94,1127.96 2247.29,1124.33 2261.63,1120.7 2275.98,1117.07 2290.32,1113.45 2304.67,1109.82 2319.01,1105.38 2333.36,1100.95 2347.7,1096.51 2362.04,1092.07 2376.39,1087.64 2390.73,1082.19 2405.08,1076.75 2419.42,1071.31 2433.77,1065.86 2448.11,1060.42 2462.46,1053.16 2476.8,1045.9 2491.14,1039.55 2505.49,1034.11 2519.83,1028.67" fill="none" stroke="#A37B6E" stroke-width="0.75" stroke-dasharray="2.8 1.3"/><polyline points="2232.94,1128.97 2247.29,1125.74 2261.63,1122.52 2275.98,1118.49 2290.32,1113.65 2304.67,1108.81 2319.01,1101.95 2333.36,1095.1 2347.7,1087.64 2362.04,1079.57 2376.39,1071.51 2390.73,1061.43 2405.08,1051.35 2419.42,1040.66 2433.77,1029.37 2448.11,1018.08 2462.46,1005.98 2476.8,993.89 2491.14,981.59 2505.49,969.09 2519.83,956.59" fill="none" stroke="#EE95D0" stroke-width="0.75" stroke-dasharray="2.8 1.3"/></g>
<rect x="2232.94" y="934.19" width="286.89" height="214.04" fill="none" stroke="#DDDDDD" stroke-width="0.9"/>
<text class="dejavu" font-size="11" fill="#2a2a2a" stroke="#2a2a2a" stroke-width="0.3" text-anchor="end" x="2227.94" y="1148.09">0.0</text>
<text class="dejavu" font-size="11" fill="#2a2a2a" stroke="#2a2a2a" stroke-width="0.3" text-anchor="end" x="2227.94" y="1122.89">2.5</text>
<text class="dejavu" font-size="11" fill="#2a2a2a" stroke="#2a2a2a" stroke-width="0.3" text-anchor="end" x="2227.94" y="1097.69">5.0</text>
<text class="dejavu" font-size="11" fill="#2a2a2a" stroke="#2a2a2a" stroke-width="0.3" text-anchor="end" x="2227.94" y="1072.49">7.5</text>
<text class="dejavu" font-size="11" fill="#2a2a2a" stroke="#2a2a2a" stroke-width="0.3" text-anchor="end" x="2227.94" y="1047.28">10.0</text>
<text class="dejavu" font-size="11" fill="#2a2a2a" stroke="#2a2a2a" stroke-width="0.3" text-anchor="end" x="2227.94" y="1022.08">12.5</text>
<text class="dejavu" font-size="11" fill="#2a2a2a" stroke="#2a2a2a" stroke-width="0.3" text-anchor="end" x="2227.94" y="996.88">15.0</text>
<text class="dejavu" font-size="11" fill="#2a2a2a" stroke="#2a2a2a" stroke-width="0.3" text-anchor="end" x="2227.94" y="971.68">17.5</text>
<text class="dejavu" font-size="11" fill="#2a2a2a" stroke="#2a2a2a" stroke-width="0.3" text-anchor="end" x="2227.94" y="946.48">20.0</text>
<text class="dejavu" font-size="11" fill="#2a2a2a" stroke="#2a2a2a" stroke-width="0.3" text-anchor="middle" x="2232.94" y="1159.63">10</text>
<text class="dejavu" font-size="11" fill="#2a2a2a" stroke="#2a2a2a" stroke-width="0.3" text-anchor="middle" x="2268.81" y="1159.63">15</text>
<text class="dejavu" font-size="11" fill="#2a2a2a" stroke="#2a2a2a" stroke-width="0.3" text-anchor="middle" x="2304.67" y="1159.63">20</text>
<text class="dejavu" font-size="11" fill="#2a2a2a" stroke="#2a2a2a" stroke-width="0.3" text-anchor="middle" x="2340.53" y="1159.63">25</text>
<text class="dejavu" font-size="11" fill="#2a2a2a" stroke="#2a2a2a" stroke-width="0.3" text-anchor="middle" x="2376.39" y="1159.63">30</text>
<text class="dejavu" font-size="11" fill="#2a2a2a" stroke="#2a2a2a" stroke-width="0.3" text-anchor="middle" x="2412.25" y="1159.63">35</text>
<text class="dejavu" font-size="11" fill="#2a2a2a" stroke="#2a2a2a" stroke-width="0.3" text-anchor="middle" x="2448.11" y="1159.63">40</text>
<text class="dejavu" font-size="11" fill="#2a2a2a" stroke="#2a2a2a" stroke-width="0.3" text-anchor="middle" x="2483.97" y="1159.63">45</text>
<text class="dejavu" font-size="11" fill="#2a2a2a" stroke="#2a2a2a" stroke-width="0.3" text-anchor="middle" x="2519.83" y="1159.63">50</text>
<text class="dejavu" font-size="11.3" fill="#2a2a2a" stroke="#2a2a2a" stroke-width="0.3" text-anchor="middle" x="2376.39" y="1172.43">Number of Nodes (×1000)</text>
<text class="dejavu" font-size="11.3" fill="#2a2a2a" stroke="#2a2a2a" stroke-width="0.3" text-anchor="middle" transform="translate(2202.6 1041.21) rotate(-90)">Runtime (ms)</text>
<rect x="2238.12" y="939.37" width="140.85" height="122.21" fill="#fff" stroke="#E4E4E4" stroke-width="0.8" rx="1.5" fill-opacity="0.8"/>
<line x1="2242.42" y1="948" x2="2263.32" y2="948" stroke="#5B8DC9" stroke-width="0.8"/>
<text class="dejavu" font-size="10.4" fill="#2a2a2a" stroke="#2a2a2a" stroke-width="0.3" x="2271.32" y="951.7">Spexphormer, d=5</text>
<line x1="2242.42" y1="963.19" x2="2263.32" y2="963.19" stroke="#F2A15C" stroke-width="0.8"/>
<text class="dejavu" font-size="10.4" fill="#2a2a2a" stroke="#2a2a2a" stroke-width="0.3" x="2271.32" y="966.89">Spexphormer, d=10</text>
<line x1="2242.42" y1="978.38" x2="2263.32" y2="978.38" stroke="#6DB56D" stroke-width="0.8"/>
<text class="dejavu" font-size="10.4" fill="#2a2a2a" stroke="#2a2a2a" stroke-width="0.3" x="2271.32" y="982.08">Spexphormer, d=20</text>
<line x1="2242.42" y1="995.3" x2="2263.32" y2="995.3" stroke="#E0605F" stroke-width="0.8" stroke-dasharray="2.8 1.3"/>
<text class="dejavu" font-size="10.4" fill="#2a2a2a" stroke="#2a2a2a" stroke-width="0.3" x="2271.32" y="999">GCN, <tspan font-style="italic">p</tspan> = </text>
<text class="dejavu" font-size="7" fill="#2a2a2a" stroke="#2a2a2a" stroke-width="0.3" text-anchor="middle" x="2329.32" y="994.7">20</text>
<line x1="2323.82" y1="996.2" x2="2334.82" y2="996.2" stroke="#2a2a2a" stroke-width="0.5"/>
<text class="dejavu" font-size="7" fill="#2a2a2a" stroke="#2a2a2a" stroke-width="0.3" text-anchor="middle" x="2329.32" y="1002.7" font-style="italic">n</text>
<line x1="2242.42" y1="1015.32" x2="2263.32" y2="1015.32" stroke="#A78BD6" stroke-width="0.8" stroke-dasharray="2.8 1.3"/>
<text class="dejavu" font-size="10.4" fill="#2a2a2a" stroke="#2a2a2a" stroke-width="0.3" x="2271.32" y="1019.02">GCN, <tspan font-style="italic">p</tspan> = </text>
<text class="dejavu" font-size="7" fill="#2a2a2a" stroke="#2a2a2a" stroke-width="0.3" text-anchor="middle" x="2334.82" y="1014.42">4log <tspan font-style="italic">n</tspan></text>
<line x1="2323.82" y1="1016.22" x2="2345.82" y2="1016.22" stroke="#2a2a2a" stroke-width="0.5"/>
<text class="dejavu" font-size="7" fill="#2a2a2a" stroke="#2a2a2a" stroke-width="0.3" text-anchor="middle" x="2334.82" y="1022.72" font-style="italic">n</text>
<line x1="2242.42" y1="1033.62" x2="2263.32" y2="1033.62" stroke="#A37B6E" stroke-width="0.8" stroke-dasharray="2.8 1.3"/>
<text class="dejavu" font-size="10.4" fill="#2a2a2a" stroke="#2a2a2a" stroke-width="0.3" x="2271.32" y="1037.32">GCN, <tspan font-style="italic">p</tspan> = </text>
<text class="dejavu" font-size="7" fill="#2a2a2a" stroke="#2a2a2a" stroke-width="0.3" text-anchor="middle" x="2331.82" y="1032.72">1</text>
<line x1="2323.82" y1="1034.52" x2="2339.82" y2="1034.52" stroke="#2a2a2a" stroke-width="0.5"/>
<text class="dejavu" font-size="7" fill="#2a2a2a" stroke="#2a2a2a" stroke-width="0.3" text-anchor="middle" x="2331.82" y="1041.42">4√<tspan font-style="italic">n</tspan></text>
<line x1="2242.42" y1="1051.91" x2="2263.32" y2="1051.91" stroke="#EE95D0" stroke-width="0.8" stroke-dasharray="2.8 1.3"/>
<text class="dejavu" font-size="10.4" fill="#2a2a2a" stroke="#2a2a2a" stroke-width="0.3" x="2271.32" y="1055.61">GCN, <tspan font-style="italic">p</tspan> = 0.002</text></g>
<text class="serif" font-size="12.99" stroke="#000" stroke-width="0.3" x="1981.3" y="1207.7">Runtime &amp; Memory comparison on a forward pass with a simple GCN model.</text>
<text class="serif" font-size="12.99" stroke="#000" stroke-width="0.3" x="1889.4" y="1223.9">Downsampling edges makes model efficient. Original graphs from ER(n, p), d: sampling degree for Spexphormer</text></g>
<g><text class="serif" font-size="24.9" stroke="#000" stroke-width="0.3" x="2097.4" y="1262.5">Ablation Studies</text>
<rect x="1831.78" y="1284.9" width="15.5" height="15.5" fill="#AAAAAA"/>
<text class="sans" font-size="13.8" fill="#404040" stroke="#404040" stroke-width="0.3" x="1864.58" y="1297.8">ASE Result</text>
<rect x="1969.19" y="1284.9" width="15.5" height="15.5" fill="#E65050"/>
<text class="sans" font-size="13.8" fill="#404040" stroke="#404040" stroke-width="0.3" x="2001.64" y="1297.8">Spexphormer Uniform Sampling</text>
<rect x="2232.25" y="1284.9" width="15.5" height="15.5" fill="#340C9A"/>
<text class="sans" font-size="13.8" fill="#404040" stroke="#404040" stroke-width="0.3" x="2265.05" y="1297.8">Spexphormer Top-k</text>
<rect x="2419.37" y="1284.9" width="15.5" height="15.5" fill="#4A60E6"/>
<text class="sans" font-size="13.8" fill="#404040" stroke="#404040" stroke-width="0.3" x="2452.17" y="1297.8">Spexphormer</text>
<g><rect x="1876.32" y="1319.43" width="133.26" height="133.6" fill="#fff"/>
<line x1="1876.32" y1="1446.35" x2="2009.58" y2="1446.35" stroke="#E8E8E8" stroke-width="0.9"/>
<line x1="1876.32" y1="1412.95" x2="2009.58" y2="1412.95" stroke="#E8E8E8" stroke-width="0.9"/>
<line x1="1876.32" y1="1379.55" x2="2009.58" y2="1379.55" stroke="#E8E8E8" stroke-width="0.9"/>
<line x1="1876.32" y1="1346.15" x2="2009.58" y2="1346.15" stroke="#E8E8E8" stroke-width="0.9"/>
<rect x="1882.88" y="1409.88" width="29.34" height="43.15" fill="#AAAAAA"/>
<rect x="1913.26" y="1390.91" width="29.34" height="62.13" fill="#E65050"/>
<rect x="1943.64" y="1355.5" width="29.34" height="97.53" fill="#340C9A"/>
<rect x="1974.02" y="1331.45" width="29.34" height="121.58" fill="#4A60E6"/>
<rect x="1876.32" y="1319.43" width="133.26" height="133.6" fill="none" stroke="#E0E0E0" stroke-width="0.9"/>
<text class="sans" font-size="14.4" fill="#404040" stroke="#404040" stroke-width="0.3" text-anchor="end" x="1871.72" y="1451.46">82.5</text>
<text class="sans" font-size="14.4" fill="#404040" stroke="#404040" stroke-width="0.3" text-anchor="end" x="1871.72" y="1418.06">85.0</text>
<text class="sans" font-size="14.4" fill="#404040" stroke="#404040" stroke-width="0.3" text-anchor="end" x="1871.72" y="1384.66">87.5</text>
<text class="sans" font-size="14.4" fill="#404040" stroke="#404040" stroke-width="0.3" text-anchor="end" x="1871.72" y="1351.26">90.0</text>
<text class="sans" font-size="15.4" fill="#404040" stroke="#404040" stroke-width="0.3" text-anchor="middle" x="1942.95" y="1316.2">Computer</text>
<text class="sans" font-size="12.8" fill="#404040" stroke="#404040" stroke-width="0.3" text-anchor="middle" transform="translate(1840.33 1386.23) rotate(-90)">Accuracy</text></g>
<g><rect x="2049.63" y="1319.43" width="133.6" height="133.6" fill="#fff"/>
<line x1="2049.63" y1="1408.5" x2="2183.23" y2="1408.5" stroke="#E8E8E8" stroke-width="0.9"/>
<line x1="2049.63" y1="1363.96" x2="2183.23" y2="1363.96" stroke="#E8E8E8" stroke-width="0.9"/>
<rect x="2056.19" y="1415.4" width="29.34" height="37.63" fill="#AAAAAA"/>
<rect x="2086.57" y="1359.51" width="29.34" height="93.52" fill="#E65050"/>
<rect x="2116.95" y="1340.14" width="29.34" height="112.9" fill="#340C9A"/>
<rect x="2147.33" y="1334.57" width="29.34" height="118.46" fill="#4A60E6"/>
<rect x="2049.63" y="1319.43" width="133.6" height="133.6" fill="none" stroke="#E0E0E0" stroke-width="0.9"/>
<text class="sans" font-size="14.4" fill="#404040" stroke="#404040" stroke-width="0.3" text-anchor="end" x="2045.03" y="1458.14">90</text>
<text class="sans" font-size="14.4" fill="#404040" stroke="#404040" stroke-width="0.3" text-anchor="end" x="2045.03" y="1413.61">92</text>
<text class="sans" font-size="14.4" fill="#404040" stroke="#404040" stroke-width="0.3" text-anchor="end" x="2045.03" y="1369.07">94</text>
<text class="sans" font-size="14.4" fill="#404040" stroke="#404040" stroke-width="0.3" text-anchor="end" x="2045.03" y="1324.54">96</text>
<text class="sans" font-size="15.4" fill="#404040" stroke="#404040" stroke-width="0.3" text-anchor="middle" x="2116.43" y="1316.2">Photo</text>
<text class="sans" font-size="12.8" fill="#404040" stroke="#404040" stroke-width="0.3" text-anchor="middle" transform="translate(2025.03 1386.23) rotate(-90)">Accuracy</text></g>
<g><rect x="2223.28" y="1319.43" width="133.26" height="133.6" fill="#fff"/>
<line x1="2223.28" y1="1436.33" x2="2356.54" y2="1436.33" stroke="#E8E8E8" stroke-width="0.9"/>
<line x1="2223.28" y1="1402.93" x2="2356.54" y2="1402.93" stroke="#E8E8E8" stroke-width="0.9"/>
<line x1="2223.28" y1="1369.53" x2="2356.54" y2="1369.53" stroke="#E8E8E8" stroke-width="0.9"/>
<line x1="2223.28" y1="1336.13" x2="2356.54" y2="1336.13" stroke="#E8E8E8" stroke-width="0.9"/>
<rect x="2229.84" y="1408.44" width="29.34" height="44.59" fill="#AAAAAA"/>
<rect x="2260.22" y="1433.99" width="29.34" height="19.04" fill="#E65050"/>
<rect x="2290.6" y="1370.7" width="29.34" height="82.33" fill="#340C9A"/>
<rect x="2320.98" y="1324.44" width="29.34" height="128.59" fill="#4A60E6"/>
<rect x="2223.28" y="1319.43" width="133.26" height="133.6" fill="none" stroke="#E0E0E0" stroke-width="0.9"/>
<text class="sans" font-size="14.4" fill="#404040" stroke="#404040" stroke-width="0.3" text-anchor="end" x="2218.68" y="1441.44">84</text>
<text class="sans" font-size="14.4" fill="#404040" stroke="#404040" stroke-width="0.3" text-anchor="end" x="2218.68" y="1408.04">86</text>
<text class="sans" font-size="14.4" fill="#404040" stroke="#404040" stroke-width="0.3" text-anchor="end" x="2218.68" y="1374.64">88</text>
<text class="sans" font-size="14.4" fill="#404040" stroke="#404040" stroke-width="0.3" text-anchor="end" x="2218.68" y="1341.24">90</text>
<text class="sans" font-size="15.4" fill="#404040" stroke="#404040" stroke-width="0.3" text-anchor="middle" x="2289.91" y="1316.2">Minesweeper</text>
<text class="sans" font-size="12.8" fill="#404040" stroke="#404040" stroke-width="0.3" text-anchor="middle" transform="translate(2198.68 1386.23) rotate(-90)">AUC</text></g>
<g><rect x="2396.58" y="1319.43" width="133.6" height="133.6" fill="#fff"/>
<line x1="2396.58" y1="1414.86" x2="2530.19" y2="1414.86" stroke="#E8E8E8" stroke-width="0.9"/>
<line x1="2396.58" y1="1376.69" x2="2530.19" y2="1376.69" stroke="#E8E8E8" stroke-width="0.9"/>
<line x1="2396.58" y1="1338.51" x2="2530.19" y2="1338.51" stroke="#E8E8E8" stroke-width="0.9"/>
<rect x="2403.14" y="1412" width="29.34" height="41.04" fill="#AAAAAA"/>
<rect x="2433.52" y="1366.19" width="29.34" height="86.84" fill="#E65050"/>
<rect x="2463.91" y="1398.83" width="29.34" height="54.21" fill="#340C9A"/>
<rect x="2494.29" y="1351.3" width="29.34" height="101.73" fill="#4A60E6"/>
<rect x="2396.58" y="1319.43" width="133.6" height="133.6" fill="none" stroke="#E0E0E0" stroke-width="0.9"/>
<text class="sans" font-size="14.4" fill="#404040" stroke="#404040" stroke-width="0.3" text-anchor="end" x="2391.98" y="1458.14">78</text>
<text class="sans" font-size="14.4" fill="#404040" stroke="#404040" stroke-width="0.3" text-anchor="end" x="2391.98" y="1419.97">80</text>
<text class="sans" font-size="14.4" fill="#404040" stroke="#404040" stroke-width="0.3" text-anchor="end" x="2391.98" y="1381.8">82</text>
<text class="sans" font-size="14.4" fill="#404040" stroke="#404040" stroke-width="0.3" text-anchor="end" x="2391.98" y="1343.63">84</text>
<text class="sans" font-size="15.4" fill="#404040" stroke="#404040" stroke-width="0.3" text-anchor="middle" x="2463.39" y="1316.2">Tolokers</text>
<text class="sans" font-size="12.8" fill="#404040" stroke="#404040" stroke-width="0.3" text-anchor="middle" transform="translate(2371.99 1386.23) rotate(-90)">AUC</text></g></g>
<g><rect x="1809.3" y="1497.9" width="497.2" height="155.4" fill="#fff"/>
<path d="M 1809.19 1504.96 Q 1809.3 1497.9 1816.4 1497.76 Q 1823.51 1497.62 1830.61 1497.76 Q 1837.71 1497.9 1844.81 1497.72 Q 1851.92 1497.53 1859.02 1497.89 Q 1866.12 1498.25 1873.23 1497.93 Q 1880.33 1497.6 1887.43 1497.78 Q 1894.53 1497.96 1901.64 1498.16 Q 1908.74 1498.37 1915.84 1498.08 Q 1922.95 1497.79 1930.05 1498.1 Q 1937.15 1498.41 1944.25 1498.28 Q 1951.36 1498.15 1958.46 1498.05 Q 1965.56 1497.95 1972.67 1498 Q 1979.77 1498.04 1986.87 1498.02 Q 1993.97 1497.99 2001.08 1497.87 Q 2008.18 1497.75 2015.28 1498.1 Q 2022.39 1498.45 2029.49 1498.12 Q 2036.59 1497.79 2043.69 1498.11 Q 2050.8 1498.43 2057.9 1498.36 Q 2065 1498.29 2072.11 1497.83 Q 2079.21 1497.38 2086.31 1497.51 Q 2093.41 1497.63 2100.52 1497.75 Q 2107.62 1497.88 2114.72 1498.06 Q 2121.83 1498.25 2128.93 1497.9 Q 2136.03 1497.55 2143.13 1497.79 Q 2150.24 1498.03 2157.34 1497.89 Q 2164.44 1497.75 2171.55 1497.98 Q 2178.65 1498.21 2185.75 1498.29 Q 2192.85 1498.37 2199.96 1498.28 Q 2207.06 1498.19 2214.16 1497.88 Q 2221.27 1497.56 2228.37 1497.87 Q 2235.47 1498.19 2242.57 1498.01 Q 2249.68 1497.83 2256.78 1498.05 Q 2263.88 1498.27 2270.99 1498.07 Q 2278.09 1497.87 2285.19 1498.11 Q 2292.29 1498.35 2299.4 1498.12 Q 2306.5 1497.9 2306.23 1504.96 Q 2305.97 1512.03 2306.05 1519.09 Q 2306.14 1526.15 2306.14 1533.22 Q 2306.14 1540.28 2306.15 1547.35 Q 2306.15 1554.41 2306.27 1561.47 Q 2306.4 1568.54 2306.63 1575.6 Q 2306.86 1582.66 2306.41 1589.73 Q 2305.97 1596.79 2306.25 1603.85 Q 2306.54 1610.92 2306.79 1617.98 Q 2307.03 1625.05 2306.8 1632.11 Q 2306.57 1639.17 2306.54 1646.24 Q 2306.5 1653.3 2299.4 1653.35 Q 2292.29 1653.39 2285.19 1653.51 Q 2278.09 1653.63 2270.99 1653.21 Q 2263.88 1652.79 2256.78 1653.26 Q 2249.68 1653.73 2242.57 1653.29 Q 2235.47 1652.86 2228.37 1653.05 Q 2221.27 1653.25 2214.16 1653.45 Q 2207.06 1653.65 2199.96 1653.55 Q 2192.85 1653.46 2185.75 1653.41 Q 2178.65 1653.35 2171.55 1653.54 Q 2164.44 1653.72 2157.34 1653.37 Q 2150.24 1653.01 2143.13 1653.07 Q 2136.03 1653.13 2128.93 1652.95 Q 2121.83 1652.77 2114.72 1652.85 Q 2107.62 1652.94 2100.52 1652.96 Q 2093.41 1652.99 2086.31 1652.87 Q 2079.21 1652.75 2072.11 1652.79 Q 2065 1652.82 2057.9 1652.98 Q 2050.8 1653.14 2043.69 1653.2 Q 2036.59 1653.26 2029.49 1653.27 Q 2022.39 1653.27 2015.28 1653.11 Q 2008.18 1652.95 2001.08 1652.89 Q 1993.97 1652.83 1986.87 1652.88 Q 1979.77 1652.94 1972.67 1652.93 Q 1965.56 1652.93 1958.46 1653.37 Q 1951.36 1653.82 1944.25 1653.6 Q 1937.15 1653.39 1930.05 1653.57 Q 1922.95 1653.75 1915.84 1653.48 Q 1908.74 1653.21 1901.64 1653.21 Q 1894.53 1653.21 1887.43 1653.22 Q 1880.33 1653.23 1873.23 1653.07 Q 1866.12 1652.91 1859.02 1653.25 Q 1851.92 1653.6 1844.81 1653.33 Q 1837.71 1653.05 1830.61 1653.13 Q 1823.51 1653.2 1816.4 1653.25 Q 1809.3 1653.3 1809.14 1646.24 Q 1808.98 1639.17 1809.41 1632.11 Q 1809.83 1625.05 1809.32 1617.98 Q 1808.81 1610.92 1809.04 1603.85 Q 1809.26 1596.79 1809.3 1589.73 Q 1809.34 1582.66 1809.37 1575.6 Q 1809.41 1568.54 1809.62 1561.47 Q 1809.83 1554.41 1809.59 1547.35 Q 1809.36 1540.28 1809.54 1533.22 Q 1809.73 1526.15 1809.4 1519.09 Q 1809.07 1512.03 1809.19 1504.96 Z" fill="none" stroke="#8C8C8C" stroke-width="3.4" stroke-linejoin="round"/><circle cx="1809.3" cy="1497.9" r="2.11" fill="#8C8C8C"/><circle cx="2306.5" cy="1497.9" r="2.11" fill="#8C8C8C"/><circle cx="2306.5" cy="1653.3" r="2.11" fill="#8C8C8C"/><circle cx="1809.3" cy="1653.3" r="2.11" fill="#8C8C8C"/>
<text class="sans" font-size="20.9" stroke="#000" stroke-width="0.3" x="1821.6" y="1526.7">References</text>
<text class="sans" font-size="11.98" stroke="#000" stroke-width="0.3" x="1827.6" y="1562.8">[1] Shirzad et al. "Exphormer: Sparse transformers for graphs." ICML 2023.</text>
<text class="sans" font-size="11.98" stroke="#000" stroke-width="0.3" x="1827.6" y="1589.4">[2] Achlioptas et al. “Near-optimal entrywise sampling for data matrices.” NeurIPS 2013.</text>
<text class="sans" font-size="11.98" stroke="#000" stroke-width="0.3" textLength="463.3" lengthAdjust="spacingAndGlyphs" x="1827.6" y="1616.3">[2] Johnson. “Extensions of Lipshitz mapping into Hilbert space”. Conf. modern analysis</text>
<text class="sans" font-size="11.98" stroke="#000" stroke-width="0.3" x="1827.6" y="1637">and prob. 1984.</text>
<text class="serif" font-size="21.97" stroke="#000" stroke-width="0.3" x="1817.6" y="1694.7">Contact: {shirzad, dsuth}@cs.ubc.ca</text></g>
<g><path d="M 2339.61 1545.01 Q 2353.95 1549.61 2366.01 1554.2" fill="none" stroke="#6C4996" stroke-width="2.98" stroke-linecap="round"/>
<path d="M 2353.95 1549.61 L 2354.3 1563.04" fill="none" stroke="#724F9A" stroke-width="1.84" stroke-linecap="round"/>
<path d="M 2357.97 1535.83 Q 2367.73 1541.22 2377.83 1533.53" fill="none" stroke="#5D3B8D" stroke-width="2.76" stroke-linecap="round"/>
<path d="M 2367.73 1541.22 Q 2373.47 1546.96 2378.41 1550.41" fill="none" stroke="#684694" stroke-width="2.3" stroke-linecap="round"/>
<path d="M 2394.13 1538.93 Q 2397 1549.61 2404.24 1549.61" fill="none" stroke="#684694" stroke-width="1.26" stroke-linecap="round"/>
<path d="M 2324.91 1564.87 Q 2327.55 1571.99 2320.66 1579.22" fill="none" stroke="#7F5CA1" stroke-width="1.38" stroke-linecap="round"/>
<path d="M 2338.46 1587.14 Q 2336.96 1596.1 2324.11 1596.1" fill="none" stroke="#8F6CAB" stroke-width="2.07" stroke-linecap="round"/>
<path d="M 2336.96 1596.1 L 2335.59 1611.94" fill="none" stroke="#9773AF" stroke-width="1.84" stroke-linecap="round"/>
<path d="M 2347.64 1595.87 Q 2349.59 1605.51 2360.84 1602.07" fill="none" stroke="#9571AE" stroke-width="1.84" stroke-linecap="round"/>
<path d="M 2349.59 1605.51 L 2353.04 1621.93" fill="none" stroke="#9E7AB3" stroke-width="2.07" stroke-linecap="round"/>
<ellipse cx="2368.3" cy="1533.88" rx="3.21" ry="4.02" fill="#5C3A8D" transform="rotate(0 2368.3 1533.88)"/>
<ellipse cx="2377.83" cy="1533.53" rx="2.98" ry="3.67" fill="#5C3A8D" transform="rotate(10 2377.83 1533.53)"/>
<ellipse cx="2386.44" cy="1535.49" rx="2.53" ry="3.44" fill="#5C3A8D" transform="rotate(-8 2386.44 1535.49)"/>
<ellipse cx="2394.13" cy="1538.93" rx="1.84" ry="2.98" fill="#603E8F" transform="rotate(-15 2394.13 1538.93)"/>
<ellipse cx="2399.87" cy="1543.87" rx="1.72" ry="2.53" fill="#664392" transform="rotate(-10 2399.87 1543.87)"/>
<ellipse cx="2404.24" cy="1549.61" rx="1.61" ry="2.07" fill="#6C4996" transform="rotate(0 2404.24 1549.61)"/>
<ellipse cx="2408.48" cy="1553.62" rx="1.15" ry="1.61" fill="#6F4D98" transform="rotate(-30 2408.48 1553.62)"/>
<ellipse cx="2411.35" cy="1556.84" rx="0.69" ry="0.92" fill="#72509A" transform="rotate(-30 2411.35 1556.84)"/>
<ellipse cx="2357.97" cy="1535.83" rx="3.33" ry="3.44" fill="#5C3A8D" transform="rotate(-30 2357.97 1535.83)"/>
<ellipse cx="2348.21" cy="1540.42" rx="3.67" ry="4.02" fill="#624090" transform="rotate(-30 2348.21 1540.42)"/>
<ellipse cx="2339.61" cy="1545.01" rx="3.79" ry="3.1" fill="#674593" transform="rotate(30 2339.61 1545.01)"/>
<ellipse cx="2334.44" cy="1553.85" rx="3.67" ry="3.44" fill="#704D98" transform="rotate(0 2334.44 1553.85)"/>
<ellipse cx="2334.21" cy="1564.18" rx="3.9" ry="3.21" fill="#79569E" transform="rotate(10 2334.21 1564.18)"/>
<ellipse cx="2345.92" cy="1559.02" rx="3.1" ry="2.53" fill="#74529B" transform="rotate(15 2345.92 1559.02)"/>
<ellipse cx="2362.56" cy="1546.16" rx="2.53" ry="2.87" fill="#684694" transform="rotate(0 2362.56 1546.16)"/>
<ellipse cx="2378.06" cy="1543.29" rx="1.84" ry="2.53" fill="#654392" transform="rotate(0 2378.06 1543.29)"/>
<ellipse cx="2385.18" cy="1544.09" rx="1.61" ry="2.3" fill="#664493" transform="rotate(0 2385.18 1544.09)"/>
<ellipse cx="2391.49" cy="1546.74" rx="1.38" ry="2.07" fill="#694694" transform="rotate(0 2391.49 1546.74)"/>
<ellipse cx="2372.55" cy="1551.9" rx="1.61" ry="2.07" fill="#6E4B97" transform="rotate(0 2372.55 1551.9)"/>
<ellipse cx="2378.41" cy="1550.41" rx="1.38" ry="1.61" fill="#6C4A96" transform="rotate(0 2378.41 1550.41)"/>
<ellipse cx="2384.38" cy="1550.52" rx="1.38" ry="1.72" fill="#6D4A96" transform="rotate(0 2384.38 1550.52)"/>
<ellipse cx="2366.01" cy="1554.2" rx="2.3" ry="2.07" fill="#704D99" transform="rotate(0 2366.01 1554.2)"/>
<ellipse cx="2361.42" cy="1558.21" rx="1.95" ry="2.07" fill="#74519B" transform="rotate(0 2361.42 1558.21)"/>
<ellipse cx="2354.3" cy="1563.04" rx="2.3" ry="2.3" fill="#78559D" transform="rotate(0 2354.3 1563.04)"/>
<ellipse cx="2326.4" cy="1559.36" rx="1.61" ry="1.15" fill="#75529B" transform="rotate(-15 2326.4 1559.36)"/>
<ellipse cx="2328.13" cy="1555" rx="1.15" ry="0.8" fill="#714E99" transform="rotate(-20 2328.13 1555)"/>
<ellipse cx="2324.91" cy="1564.87" rx="2.07" ry="1.61" fill="#79569E" transform="rotate(-15 2324.91 1564.87)"/>
<ellipse cx="2322.04" cy="1571.65" rx="2.3" ry="1.72" fill="#7F5CA1" transform="rotate(-10 2322.04 1571.65)"/>
<ellipse cx="2328.7" cy="1577.73" rx="2.07" ry="1.61" fill="#8461A4" transform="rotate(-15 2328.7 1577.73)"/>
<ellipse cx="2320.66" cy="1579.22" rx="2.76" ry="2.07" fill="#8562A5" transform="rotate(-20 2320.66 1579.22)"/>
<ellipse cx="2335.59" cy="1582.09" rx="1.61" ry="1.38" fill="#8764A6" transform="rotate(0 2335.59 1582.09)"/>
<ellipse cx="2329.27" cy="1584.39" rx="2.07" ry="1.72" fill="#8966A7" transform="rotate(-10 2329.27 1584.39)"/>
<ellipse cx="2321.24" cy="1587.14" rx="3.21" ry="2.3" fill="#8B68A8" transform="rotate(-20 2321.24 1587.14)"/>
<ellipse cx="2338.46" cy="1587.14" rx="1.61" ry="1.84" fill="#8B68A8" transform="rotate(0 2338.46 1587.14)"/>
<ellipse cx="2332.14" cy="1591.16" rx="2.53" ry="2.07" fill="#8E6AAA" transform="rotate(-10 2332.14 1591.16)"/>
<ellipse cx="2342.7" cy="1591.74" rx="1.84" ry="1.84" fill="#8E6BAA" transform="rotate(0 2342.7 1591.74)"/>
<ellipse cx="2324.11" cy="1596.1" rx="3.44" ry="2.76" fill="#916EAC" transform="rotate(10 2324.11 1596.1)"/>
<ellipse cx="2347.64" cy="1595.87" rx="2.07" ry="2.07" fill="#916EAC" transform="rotate(0 2347.64 1595.87)"/>
<ellipse cx="2353.38" cy="1598.39" rx="2.07" ry="2.07" fill="#9370AD" transform="rotate(0 2353.38 1598.39)"/>
<ellipse cx="2328.47" cy="1604.36" rx="3.44" ry="3.21" fill="#9774B0" transform="rotate(-30 2328.47 1604.36)"/>
<ellipse cx="2342.48" cy="1602.99" rx="2.53" ry="2.76" fill="#9673AF" transform="rotate(20 2342.48 1602.99)"/>
<ellipse cx="2360.84" cy="1602.07" rx="2.07" ry="2.07" fill="#9672AF" transform="rotate(0 2360.84 1602.07)"/>
<ellipse cx="2335.59" cy="1611.94" rx="3.44" ry="3.67" fill="#9D79B3" transform="rotate(20 2335.59 1611.94)"/>
<ellipse cx="2361.76" cy="1611.6" rx="2.53" ry="2.98" fill="#9C79B3" transform="rotate(0 2361.76 1611.6)"/>
<ellipse cx="2344.54" cy="1618.48" rx="3.44" ry="3.9" fill="#A17DB5" transform="rotate(20 2344.54 1618.48)"/>
<ellipse cx="2353.04" cy="1621.93" rx="3.21" ry="4.59" fill="#A27EB6" transform="rotate(5 2353.04 1621.93)"/>
<ellipse cx="2362.56" cy="1623.99" rx="3.21" ry="4.13" fill="#A27EB6" transform="rotate(10 2362.56 1623.99)"/>
<ellipse cx="2371.98" cy="1619.4" rx="2.98" ry="3.9" fill="#A27EB6" transform="rotate(10 2371.98 1619.4)"/>
<text class="sans" font-size="15.9" fill="#2F2F3A" textLength="184.6" lengthAdjust="spacingAndGlyphs" x="2364.6" y="1576.9">NEURAL INFORMATION</text>
<text class="sans" font-size="15.9" fill="#2F2F3A" textLength="183.6" lengthAdjust="spacingAndGlyphs" x="2364.8" y="1593.9">PROCESSING SYSTEMS</text></g></g>
</svg>
</div>
</body>
</html>
